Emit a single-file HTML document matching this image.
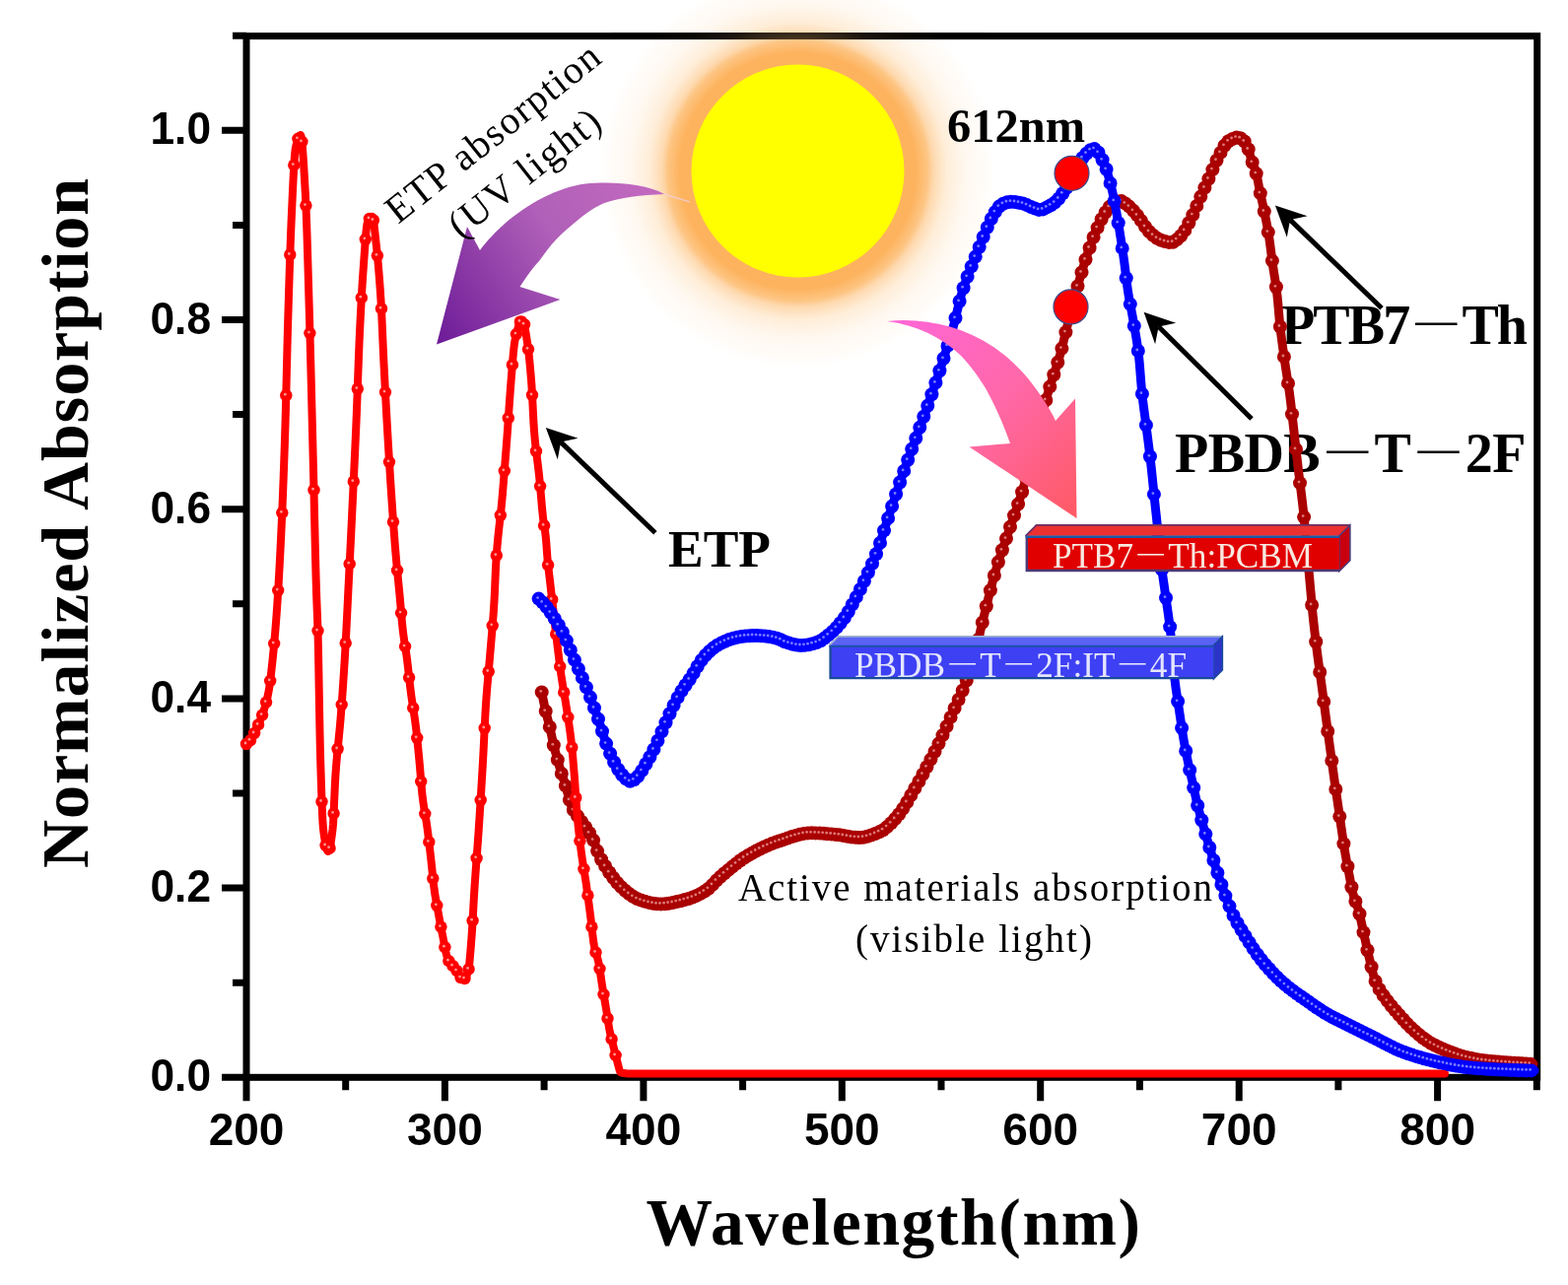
<!DOCTYPE html>
<html><head><meta charset="utf-8"><title>Normalized Absorption</title>
<style>html,body{margin:0;padding:0;background:#fff;width:1591px;height:1304px;overflow:hidden}svg{display:block}</style>
</head><body>
<svg width="1591" height="1304" viewBox="0 0 1591 1304">
<defs>
<radialGradient id="glow" cx="809.5" cy="173.5" r="200" gradientUnits="userSpaceOnUse">
 <stop offset="0.53" stop-color="#fdb35e" stop-opacity="1"/>
 <stop offset="0.60" stop-color="#fdb35e" stop-opacity="1"/>
 <stop offset="0.66" stop-color="#fdbb6e" stop-opacity="0.85"/>
 <stop offset="0.69" stop-color="#fdc07a" stop-opacity="0.6"/>
 <stop offset="0.755" stop-color="#fdc47e" stop-opacity="0.3"/>
 <stop offset="0.85" stop-color="#fdc47e" stop-opacity="0.12"/>
 <stop offset="0.945" stop-color="#fdc47e" stop-opacity="0.05"/>
 <stop offset="1" stop-color="#fdc47e" stop-opacity="0"/>
</radialGradient>
<linearGradient id="purp" x1="680" y1="190" x2="445" y2="345" gradientUnits="userSpaceOnUse">
 <stop offset="0" stop-color="#c46ac0"/>
 <stop offset="0.45" stop-color="#b060b8"/>
 <stop offset="1" stop-color="#6e1c98"/>
</linearGradient>
<linearGradient id="pink" x1="905" y1="330" x2="1090" y2="520" gradientUnits="userSpaceOnUse">
 <stop offset="0" stop-color="#ff66d6"/>
 <stop offset="0.5" stop-color="#ff68a8"/>
 <stop offset="1" stop-color="#ff5a66"/>
</linearGradient>
</defs>
<rect width="1591" height="1304" fill="#fff"/>
<g stroke="#000" stroke-width="7" fill="none">
<rect x="250" y="36.6" width="1309.7" height="1056.7"/>
<path d="M225,1093.3H250 M236,997.2H250 M225,901.1H250 M236,805.0H250 M225,708.9H250 M236,612.8H250 M225,516.7H250 M236,420.6H250 M225,324.5H250 M236,228.4H250 M225,132.3H250 M236,36.2H250 M250.0,1093.3V1117.3 M350.7,1093.3V1106.3 M451.4,1093.3V1117.3 M552.1,1093.3V1106.3 M652.9,1093.3V1117.3 M753.6,1093.3V1106.3 M854.3,1093.3V1117.3 M955.0,1093.3V1106.3 M1055.7,1093.3V1117.3 M1156.4,1093.3V1106.3 M1257.2,1093.3V1117.3 M1357.9,1093.3V1106.3 M1458.6,1093.3V1117.3 M1559.3,1093.3V1106.3"/>
</g>
<g font-family="Liberation Sans, Arial, sans-serif" font-weight="bold" font-size="46" fill="#000">
<text x="214" y="1107.3" text-anchor="end" textLength="61.5" lengthAdjust="spacingAndGlyphs">0.0</text>
<text x="214" y="915.1" text-anchor="end" textLength="61.5" lengthAdjust="spacingAndGlyphs">0.2</text>
<text x="214" y="722.9" text-anchor="end" textLength="61.5" lengthAdjust="spacingAndGlyphs">0.4</text>
<text x="214" y="530.7" text-anchor="end" textLength="61.5" lengthAdjust="spacingAndGlyphs">0.6</text>
<text x="214" y="338.5" text-anchor="end" textLength="61.5" lengthAdjust="spacingAndGlyphs">0.8</text>
<text x="214" y="146.3" text-anchor="end" textLength="61.5" lengthAdjust="spacingAndGlyphs">1.0</text>
<text x="250.0" y="1161.5" text-anchor="middle">200</text>
<text x="451.4" y="1161.5" text-anchor="middle">300</text>
<text x="652.9" y="1161.5" text-anchor="middle">400</text>
<text x="854.3" y="1161.5" text-anchor="middle">500</text>
<text x="1055.7" y="1161.5" text-anchor="middle">600</text>
<text x="1257.2" y="1161.5" text-anchor="middle">700</text>
<text x="1458.6" y="1161.5" text-anchor="middle">800</text>
</g>
<text x="655.5" y="1262.5" font-family="Liberation Serif, Times New Roman, serif" font-weight="bold" font-size="67.5" textLength="501.5" lengthAdjust="spacing">Wavelength(nm)</text>
<text transform="translate(89,881) rotate(-90)" font-family="Liberation Serif, Times New Roman, serif" font-weight="bold" font-size="68" textLength="700" lengthAdjust="spacing">Normalized Absorption</text>
<g font-family="Liberation Serif, Times New Roman, serif" font-weight="bold" font-size="56" fill="#000">
<text x="1300" y="348.5" textLength="250" lengthAdjust="spacing">PTB7<tspan font-family="Liberation Serif, Noto Serif CJK SC, serif" font-weight="normal">－</tspan>Th</text>
<text x="1192" y="479" textLength="356.5" lengthAdjust="spacing">PBDB<tspan font-family="Liberation Serif, Noto Serif CJK SC, serif" font-weight="normal">－</tspan>T<tspan font-family="Liberation Serif, Noto Serif CJK SC, serif" font-weight="normal">－</tspan>2F</text>
</g>
<path d="M549.7,702.4 L550.2,705.0 L550.7,707.6 L551.2,710.1 L551.7,712.5 L552.2,714.9 L552.7,717.2 L553.2,719.4 L553.7,721.6 L554.2,723.6 L554.7,725.6 L555.2,727.6 L555.7,729.5 L556.2,731.4 L556.7,733.4 L557.2,735.4 L557.7,737.4 L558.2,739.6 L558.7,741.9 L559.2,744.2 L559.7,746.6 L560.2,749.0 L560.7,751.4 L561.2,753.7 L561.7,755.9 L562.2,758.0 L562.7,760.0 L563.2,761.8 L563.7,763.6 L564.2,765.4 L564.7,767.2 L565.2,768.9 L565.7,770.7 L566.2,772.5 L566.7,774.4 L567.2,776.2 L567.7,778.0 L568.2,779.7 L568.7,781.4 L569.2,783.0 L569.7,784.6 L570.2,786.1 L570.7,787.6 L571.2,789.0 L571.7,790.5 L572.2,792.0 L572.7,793.5 L573.2,795.1 L573.7,796.8 L574.2,798.6 L574.7,800.4 L575.2,802.2 L575.7,804.0 L576.2,805.8 L576.7,807.5 L577.2,809.3 L577.7,811.1 L578.2,812.9 L578.7,814.6 L579.2,816.2 L579.7,817.6 L580.2,818.7 L580.7,819.8 L581.2,820.8 L581.7,821.7 L582.2,822.6 L582.7,823.4 L583.2,824.2 L583.7,825.0 L584.2,825.7 L584.7,826.4 L585.2,827.1 L585.7,827.8 L586.2,828.5 L586.7,829.1 L587.2,829.8 L587.7,830.6 L588.2,831.3 L588.7,832.0 L589.2,832.7 L589.7,833.4 L590.2,834.1 L590.7,834.8 L591.2,835.4 L591.7,836.1 L592.2,836.8 L592.7,837.4 L593.2,838.1 L593.7,838.8 L594.2,839.4 L594.7,840.1 L595.2,840.9 L595.7,841.6 L596.2,842.4 L596.7,843.2 L597.2,844.0 L597.7,844.8 L598.2,845.6 L598.7,846.4 L599.2,847.2 L599.7,848.1 L600.2,849.0 L600.7,849.9 L601.2,850.9 L601.7,851.8 L602.2,852.9 L602.7,853.9 L603.2,855.0 L603.7,856.2 L604.2,857.6 L604.7,859.2 L605.2,860.8 L605.7,862.4 L606.2,863.9 L606.7,865.3 L607.2,866.5 L607.7,867.5 L608.2,868.6 L608.7,869.6 L609.2,870.5 L609.7,871.4 L610.2,872.3 L610.7,873.2 L611.2,874.0 L611.7,874.8 L612.2,875.7 L612.7,876.5 L613.2,877.3 L613.7,878.2 L614.2,879.0 L614.7,879.8 L615.2,880.6 L615.7,881.4 L616.2,882.2 L616.7,883.0 L617.2,883.8 L617.7,884.5 L618.2,885.3 L618.7,886.0 L619.2,886.7 L619.7,887.4 L620.2,888.0 L620.7,888.7 L621.2,889.4 L621.7,890.0 L622.2,890.7 L622.7,891.3 L623.2,891.9 L623.7,892.6 L624.2,893.2 L624.7,893.8 L625.2,894.4 L625.7,895.1 L626.2,895.6 L626.7,896.2 L627.2,896.8 L627.7,897.4 L628.2,898.0 L628.7,898.5 L629.2,899.0 L629.7,899.6 L630.2,900.1 L630.7,900.6 L631.2,901.1 L631.7,901.6 L632.2,902.0 L632.7,902.5 L633.2,902.9 L633.7,903.3 L634.2,903.7 L634.7,904.1 L635.2,904.5 L635.7,904.9 L636.2,905.3 L636.7,905.7 L637.2,906.1 L637.7,906.5 L638.2,906.9 L638.7,907.3 L639.2,907.6 L639.7,908.0 L640.2,908.3 L640.7,908.7 L641.2,909.0 L641.7,909.4 L642.2,909.7 L642.7,910.0 L643.2,910.3 L643.7,910.6 L644.2,910.9 L644.7,911.2 L645.2,911.5 L645.7,911.7 L646.2,912.0 L646.7,912.2 L647.2,912.5 L647.7,912.7 L648.2,912.9 L648.7,913.1 L649.2,913.2 L649.7,913.4 L650.2,913.6 L650.7,913.7 L651.2,913.9 L651.7,914.0 L652.2,914.2 L652.7,914.3 L653.2,914.5 L653.7,914.6 L654.2,914.8 L654.7,914.9 L655.2,915.0 L655.7,915.2 L656.2,915.3 L656.7,915.4 L657.2,915.6 L657.7,915.7 L658.2,915.8 L658.7,915.9 L659.2,916.1 L659.7,916.2 L660.2,916.3 L660.7,916.4 L661.2,916.5 L661.7,916.6 L662.2,916.7 L662.7,916.8 L663.2,916.8 L663.7,916.9 L664.2,917.0 L664.7,917.1 L665.2,917.1 L665.7,917.2 L666.2,917.2 L666.7,917.3 L667.2,917.3 L667.7,917.3 L668.2,917.4 L668.7,917.4 L669.2,917.4 L669.7,917.4 L670.2,917.4 L670.7,917.4 L671.2,917.4 L671.7,917.4 L672.2,917.3 L672.7,917.3 L673.2,917.3 L673.7,917.2 L674.2,917.2 L674.7,917.2 L675.2,917.1 L675.7,917.1 L676.2,917.0 L676.7,917.0 L677.2,916.9 L677.7,916.8 L678.2,916.8 L678.7,916.7 L679.2,916.6 L679.7,916.5 L680.2,916.4 L680.7,916.4 L681.2,916.3 L681.7,916.2 L682.2,916.1 L682.7,916.0 L683.2,915.9 L683.7,915.8 L684.2,915.7 L684.7,915.6 L685.2,915.5 L685.7,915.3 L686.2,915.2 L686.7,915.1 L687.2,915.0 L687.7,914.9 L688.2,914.8 L688.7,914.6 L689.2,914.5 L689.7,914.4 L690.2,914.3 L690.7,914.1 L691.2,914.0 L691.7,913.9 L692.2,913.8 L692.7,913.6 L693.2,913.5 L693.7,913.4 L694.2,913.2 L694.7,913.1 L695.2,913.0 L695.7,912.8 L696.2,912.7 L696.7,912.6 L697.2,912.4 L697.7,912.3 L698.2,912.2 L698.7,912.0 L699.2,911.9 L699.7,911.7 L700.2,911.5 L700.7,911.4 L701.2,911.2 L701.7,911.0 L702.2,910.8 L702.7,910.6 L703.2,910.5 L703.7,910.3 L704.2,910.0 L704.7,909.8 L705.2,909.6 L705.7,909.4 L706.2,909.2 L706.7,909.0 L707.2,908.7 L707.7,908.5 L708.2,908.2 L708.7,908.0 L709.2,907.7 L709.7,907.5 L710.2,907.2 L710.7,907.0 L711.2,906.7 L711.7,906.4 L712.2,906.1 L712.7,905.9 L713.2,905.6 L713.7,905.3 L714.2,905.0 L714.7,904.7 L715.2,904.4 L715.7,904.1 L716.2,903.8 L716.7,903.4 L717.2,903.1 L717.7,902.7 L718.2,902.3 L718.7,901.9 L719.2,901.5 L719.7,901.1 L720.2,900.6 L720.7,900.1 L721.2,899.6 L721.7,899.1 L722.2,898.6 L722.7,898.1 L723.2,897.6 L723.7,897.1 L724.2,896.5 L724.7,896.0 L725.2,895.5 L725.7,894.9 L726.2,894.4 L726.7,893.9 L727.2,893.3 L727.7,892.8 L728.2,892.3 L728.7,891.8 L729.2,891.4 L729.7,890.9 L730.2,890.4 L730.7,890.0 L731.2,889.6 L731.7,889.1 L732.2,888.7 L732.7,888.3 L733.2,887.9 L733.7,887.4 L734.2,887.0 L734.7,886.6 L735.2,886.1 L735.7,885.7 L736.2,885.3 L736.7,884.9 L737.2,884.4 L737.7,884.0 L738.2,883.6 L738.7,883.2 L739.2,882.8 L739.7,882.3 L740.2,881.9 L740.7,881.5 L741.2,881.1 L741.7,880.7 L742.2,880.3 L742.7,879.9 L743.2,879.5 L743.7,879.1 L744.2,878.7 L744.7,878.3 L745.2,877.9 L745.7,877.5 L746.2,877.1 L746.7,876.7 L747.2,876.3 L747.7,875.9 L748.2,875.5 L748.7,875.1 L749.2,874.8 L749.7,874.4 L750.2,874.0 L750.7,873.6 L751.2,873.3 L751.7,872.9 L752.2,872.6 L752.7,872.2 L753.2,871.8 L753.7,871.5 L754.2,871.2 L754.7,870.8 L755.2,870.5 L755.7,870.1 L756.2,869.8 L756.7,869.5 L757.2,869.2 L757.7,868.8 L758.2,868.5 L758.7,868.2 L759.2,867.9 L759.7,867.6 L760.2,867.3 L760.7,867.0 L761.2,866.8 L761.7,866.5 L762.2,866.2 L762.7,865.9 L763.2,865.6 L763.7,865.4 L764.2,865.1 L764.7,864.8 L765.2,864.6 L765.7,864.3 L766.2,864.0 L766.7,863.8 L767.2,863.5 L767.7,863.2 L768.2,863.0 L768.7,862.7 L769.2,862.5 L769.7,862.2 L770.2,862.0 L770.7,861.7 L771.2,861.5 L771.7,861.2 L772.2,861.0 L772.7,860.8 L773.2,860.5 L773.7,860.3 L774.2,860.0 L774.7,859.8 L775.2,859.6 L775.7,859.4 L776.2,859.1 L776.7,858.9 L777.2,858.7 L777.7,858.5 L778.2,858.2 L778.7,858.0 L779.2,857.8 L779.7,857.6 L780.2,857.4 L780.7,857.2 L781.2,857.0 L781.7,856.8 L782.2,856.6 L782.7,856.4 L783.2,856.2 L783.7,856.0 L784.2,855.8 L784.7,855.6 L785.2,855.4 L785.7,855.2 L786.2,855.0 L786.7,854.8 L787.2,854.6 L787.7,854.5 L788.2,854.3 L788.7,854.1 L789.2,853.9 L789.7,853.8 L790.2,853.6 L790.7,853.4 L791.2,853.3 L791.7,853.1 L792.2,852.9 L792.7,852.8 L793.2,852.6 L793.7,852.4 L794.2,852.3 L794.7,852.1 L795.2,851.9 L795.7,851.8 L796.2,851.6 L796.7,851.4 L797.2,851.3 L797.7,851.1 L798.2,850.9 L798.7,850.7 L799.2,850.6 L799.7,850.4 L800.2,850.2 L800.7,850.1 L801.2,849.9 L801.7,849.7 L802.2,849.6 L802.7,849.4 L803.2,849.2 L803.7,849.1 L804.2,848.9 L804.7,848.7 L805.2,848.6 L805.7,848.4 L806.2,848.3 L806.7,848.1 L807.2,848.0 L807.7,847.8 L808.2,847.7 L808.7,847.5 L809.2,847.4 L809.7,847.3 L810.2,847.1 L810.7,847.0 L811.2,846.9 L811.7,846.7 L812.2,846.6 L812.7,846.5 L813.2,846.4 L813.7,846.3 L814.2,846.2 L814.7,846.1 L815.2,846.0 L815.7,845.9 L816.2,845.8 L816.7,845.8 L817.2,845.7 L817.7,845.6 L818.2,845.6 L818.7,845.5 L819.2,845.5 L819.7,845.4 L820.2,845.4 L820.7,845.4 L821.2,845.3 L821.7,845.3 L822.2,845.3 L822.7,845.3 L823.2,845.3 L823.7,845.3 L824.2,845.3 L824.7,845.3 L825.2,845.3 L825.7,845.3 L826.2,845.3 L826.7,845.4 L827.2,845.4 L827.7,845.4 L828.2,845.4 L828.7,845.4 L829.2,845.5 L829.7,845.5 L830.2,845.5 L830.7,845.5 L831.2,845.6 L831.7,845.6 L832.2,845.6 L832.7,845.6 L833.2,845.7 L833.7,845.7 L834.2,845.7 L834.7,845.8 L835.2,845.8 L835.7,845.8 L836.2,845.9 L836.7,845.9 L837.2,846.0 L837.7,846.0 L838.2,846.0 L838.7,846.1 L839.2,846.1 L839.7,846.2 L840.2,846.2 L840.7,846.2 L841.2,846.3 L841.7,846.3 L842.2,846.4 L842.7,846.4 L843.2,846.5 L843.7,846.5 L844.2,846.5 L844.7,846.6 L845.2,846.6 L845.7,846.7 L846.2,846.7 L846.7,846.8 L847.2,846.8 L847.7,846.8 L848.2,846.9 L848.7,846.9 L849.2,847.0 L849.7,847.1 L850.2,847.1 L850.7,847.2 L851.2,847.3 L851.7,847.3 L852.2,847.4 L852.7,847.5 L853.2,847.6 L853.7,847.6 L854.2,847.7 L854.7,847.8 L855.2,847.9 L855.7,848.0 L856.2,848.1 L856.7,848.2 L857.2,848.2 L857.7,848.3 L858.2,848.4 L858.7,848.5 L859.2,848.6 L859.7,848.7 L860.2,848.8 L860.7,848.9 L861.2,848.9 L861.7,849.0 L862.2,849.1 L862.7,849.2 L863.2,849.3 L863.7,849.3 L864.2,849.4 L864.7,849.5 L865.2,849.5 L865.7,849.6 L866.2,849.7 L866.7,849.7 L867.2,849.8 L867.7,849.8 L868.2,849.9 L868.7,849.9 L869.2,849.9 L869.7,849.9 L870.2,850.0 L870.7,850.0 L871.2,850.0 L871.7,850.0 L872.2,850.0 L872.7,850.0 L873.2,850.0 L873.7,849.9 L874.2,849.9 L874.7,849.8 L875.2,849.8 L875.7,849.7 L876.2,849.6 L876.7,849.6 L877.2,849.5 L877.7,849.4 L878.2,849.3 L878.7,849.1 L879.2,849.0 L879.7,848.9 L880.2,848.8 L880.7,848.6 L881.2,848.5 L881.7,848.3 L882.2,848.2 L882.7,848.0 L883.2,847.8 L883.7,847.7 L884.2,847.5 L884.7,847.3 L885.2,847.1 L885.7,846.9 L886.2,846.7 L886.7,846.5 L887.2,846.3 L887.7,846.1 L888.2,845.9 L888.7,845.7 L889.2,845.5 L889.7,845.3 L890.2,845.1 L890.7,844.9 L891.2,844.6 L891.7,844.4 L892.2,844.2 L892.7,844.0 L893.2,843.7 L893.7,843.5 L894.2,843.3 L894.7,843.0 L895.2,842.7 L895.7,842.4 L896.2,842.1 L896.7,841.8 L897.2,841.4 L897.7,841.1 L898.2,840.7 L898.7,840.3 L899.2,839.9 L899.7,839.5 L900.2,839.1 L900.7,838.6 L901.2,838.2 L901.7,837.7 L902.2,837.3 L902.7,836.8 L903.2,836.3 L903.7,835.8 L904.2,835.3 L904.7,834.8 L905.2,834.2 L905.7,833.7 L906.2,833.2 L906.7,832.6 L907.2,832.1 L907.7,831.5 L908.2,830.9 L908.7,830.4 L909.2,829.8 L909.7,829.2 L910.2,828.7 L910.7,828.1 L911.2,827.5 L911.7,826.9 L912.2,826.3 L912.7,825.7 L913.2,825.0 L913.7,824.4 L914.2,823.7 L914.7,823.0 L915.2,822.2 L915.7,821.5 L916.2,820.7 L916.7,819.9 L917.2,819.2 L917.7,818.3 L918.2,817.5 L918.7,816.7 L919.2,815.9 L919.7,815.0 L920.2,814.2 L920.7,813.3 L921.2,812.4 L921.7,811.6 L922.2,810.7 L922.7,809.8 L923.2,808.9 L923.7,808.0 L924.2,807.2 L924.7,806.3 L925.2,805.4 L925.7,804.5 L926.2,803.7 L926.7,802.8 L927.2,802.0 L927.7,801.1 L928.2,800.2 L928.7,799.4 L929.2,798.5 L929.7,797.7 L930.2,796.8 L930.7,795.9 L931.2,795.0 L931.7,794.1 L932.2,793.3 L932.7,792.4 L933.2,791.5 L933.7,790.6 L934.2,789.7 L934.7,788.8 L935.2,787.9 L935.7,787.0 L936.2,786.1 L936.7,785.1 L937.2,784.2 L937.7,783.3 L938.2,782.4 L938.7,781.5 L939.2,780.5 L939.7,779.6 L940.2,778.7 L940.7,777.7 L941.2,776.8 L941.7,775.8 L942.2,774.9 L942.7,773.9 L943.2,773.0 L943.7,772.0 L944.2,771.1 L944.7,770.1 L945.2,769.1 L945.7,768.2 L946.2,767.2 L946.7,766.2 L947.2,765.2 L947.7,764.3 L948.2,763.3 L948.7,762.3 L949.2,761.3 L949.7,760.3 L950.2,759.3 L950.7,758.3 L951.2,757.2 L951.7,756.2 L952.2,755.2 L952.7,754.2 L953.2,753.1 L953.7,752.1 L954.2,751.0 L954.7,750.0 L955.2,748.9 L955.7,747.9 L956.2,746.8 L956.7,745.7 L957.2,744.6 L957.7,743.5 L958.2,742.4 L958.7,741.3 L959.2,740.1 L959.7,739.0 L960.2,737.9 L960.7,736.7 L961.2,735.6 L961.7,734.5 L962.2,733.3 L962.7,732.2 L963.2,731.0 L963.7,729.9 L964.2,728.8 L964.7,727.6 L965.2,726.5 L965.7,725.3 L966.2,724.2 L966.7,723.1 L967.2,721.9 L967.7,720.8 L968.2,719.7 L968.7,718.6 L969.2,717.5 L969.7,716.4 L970.2,715.3 L970.7,714.2 L971.2,713.1 L971.7,712.0 L972.2,711.0 L972.7,709.9 L973.2,708.7 L973.7,707.6 L974.2,706.5 L974.7,705.4 L975.2,704.2 L975.7,703.1 L976.2,701.9 L976.7,700.7 L977.2,699.5 L977.7,698.3 L978.2,697.0 L978.7,695.8 L979.2,694.5 L979.7,693.2 L980.2,691.9 L980.7,690.5 L981.2,689.2 L981.7,687.8 L982.2,686.4 L982.7,685.0 L983.2,683.6 L983.7,682.1 L984.2,680.6 L984.7,679.1 L985.2,677.6 L985.7,676.0 L986.2,674.4 L986.7,672.8 L987.2,671.2 L987.7,669.5 L988.2,667.7 L988.7,666.0 L989.2,664.1 L989.7,662.1 L990.2,660.1 L990.7,658.0 L991.2,655.9 L991.7,653.7 L992.2,651.5 L992.7,649.3 L993.2,647.1 L993.7,644.9 L994.2,642.7 L994.7,640.5 L995.2,638.3 L995.7,636.2 L996.2,634.2 L996.7,632.1 L997.2,630.1 L997.7,628.1 L998.2,626.0 L998.7,624.0 L999.2,621.9 L999.7,619.9 L1000.2,617.8 L1000.7,615.8 L1001.2,613.7 L1001.7,611.7 L1002.2,609.7 L1002.7,607.7 L1003.2,605.7 L1003.7,603.7 L1004.2,601.7 L1004.7,599.8 L1005.2,597.8 L1005.7,595.9 L1006.2,594.0 L1006.7,592.1 L1007.2,590.2 L1007.7,588.3 L1008.2,586.5 L1008.7,584.7 L1009.2,582.9 L1009.7,581.2 L1010.2,579.4 L1010.7,577.7 L1011.2,576.0 L1011.7,574.4 L1012.2,572.8 L1012.7,571.2 L1013.2,569.6 L1013.7,568.0 L1014.2,566.5 L1014.7,565.0 L1015.2,563.4 L1015.7,562.0 L1016.2,560.5 L1016.7,559.0 L1017.2,557.5 L1017.7,556.1 L1018.2,554.6 L1018.7,553.2 L1019.2,551.7 L1019.7,550.3 L1020.2,548.8 L1020.7,547.4 L1021.2,546.0 L1021.7,544.5 L1022.2,543.1 L1022.7,541.6 L1023.2,540.2 L1023.7,538.7 L1024.2,537.2 L1024.7,535.7 L1025.2,534.2 L1025.7,532.7 L1026.2,531.3 L1026.7,529.8 L1027.2,528.4 L1027.7,526.9 L1028.2,525.5 L1028.7,524.1 L1029.2,522.7 L1029.7,521.2 L1030.2,519.8 L1030.7,518.4 L1031.2,516.9 L1031.7,515.5 L1032.2,514.1 L1032.7,512.6 L1033.2,511.1 L1033.7,509.7 L1034.2,508.2 L1034.7,506.7 L1035.2,505.1 L1035.7,503.6 L1036.2,502.0 L1036.7,500.4 L1037.2,498.8 L1037.7,497.2 L1038.2,495.5 L1038.7,493.8 L1039.2,492.1 L1039.7,490.3 L1040.2,488.5 L1040.7,486.6 L1041.2,484.7 L1041.7,482.8 L1042.2,480.8 L1042.7,478.8 L1043.2,476.8 L1043.7,474.8 L1044.2,472.7 L1044.7,470.6 L1045.2,468.5 L1045.7,466.4 L1046.2,464.3 L1046.7,462.2 L1047.2,460.1 L1047.7,458.0 L1048.2,455.9 L1048.7,453.8 L1049.2,451.7 L1049.7,449.7 L1050.2,447.6 L1050.7,445.6 L1051.2,443.6 L1051.7,441.6 L1052.2,439.6 L1052.7,437.7 L1053.2,435.8 L1053.7,433.9 L1054.2,432.0 L1054.7,430.1 L1055.2,428.2 L1055.7,426.3 L1056.2,424.4 L1056.7,422.6 L1057.2,420.7 L1057.7,418.9 L1058.2,417.0 L1058.7,415.2 L1059.2,413.4 L1059.7,411.6 L1060.2,409.8 L1060.7,408.0 L1061.2,406.2 L1061.7,404.5 L1062.2,402.7 L1062.7,401.0 L1063.2,399.3 L1063.7,397.6 L1064.2,395.9 L1064.7,394.3 L1065.2,392.7 L1065.7,391.1 L1066.2,389.6 L1066.7,388.0 L1067.2,386.5 L1067.7,385.0 L1068.2,383.5 L1068.7,382.0 L1069.2,380.5 L1069.7,379.0 L1070.2,377.5 L1070.7,376.0 L1071.2,374.5 L1071.7,372.9 L1072.2,371.4 L1072.7,369.8 L1073.2,368.2 L1073.7,366.6 L1074.2,365.0 L1074.7,363.3 L1075.2,361.6 L1075.7,359.8 L1076.2,358.0 L1076.7,356.1 L1077.2,354.2 L1077.7,352.3 L1078.2,350.3 L1078.7,348.3 L1079.2,346.2 L1079.7,344.2 L1080.2,342.1 L1080.7,340.0 L1081.2,337.9 L1081.7,335.8 L1082.2,333.8 L1082.7,331.7 L1083.2,329.7 L1083.7,327.7 L1084.2,325.7 L1084.7,323.7 L1085.2,321.8 L1085.7,319.8 L1086.2,317.9 L1086.7,315.9 L1087.2,314.0 L1087.7,312.1 L1088.2,310.1 L1088.7,308.2 L1089.2,306.3 L1089.7,304.4 L1090.2,302.5 L1090.7,300.6 L1091.2,298.7 L1091.7,296.9 L1092.2,295.0 L1092.7,293.2 L1093.2,291.4 L1093.7,289.6 L1094.2,287.8 L1094.7,286.0 L1095.2,284.3 L1095.7,282.6 L1096.2,280.9 L1096.7,279.2 L1097.2,277.5 L1097.7,275.8 L1098.2,274.1 L1098.7,272.5 L1099.2,270.8 L1099.7,269.2 L1100.2,267.6 L1100.7,266.0 L1101.2,264.4 L1101.7,262.9 L1102.2,261.3 L1102.7,259.8 L1103.2,258.3 L1103.7,256.9 L1104.2,255.4 L1104.7,254.0 L1105.2,252.6 L1105.7,251.2 L1106.2,249.8 L1106.7,248.4 L1107.2,247.0 L1107.7,245.6 L1108.2,244.3 L1108.7,243.0 L1109.2,241.7 L1109.7,240.4 L1110.2,239.1 L1110.7,237.9 L1111.2,236.7 L1111.7,235.5 L1112.2,234.3 L1112.7,233.2 L1113.2,232.1 L1113.7,230.9 L1114.2,229.8 L1114.7,228.7 L1115.2,227.7 L1115.7,226.6 L1116.2,225.5 L1116.7,224.5 L1117.2,223.4 L1117.7,222.4 L1118.2,221.5 L1118.7,220.5 L1119.2,219.6 L1119.7,218.7 L1120.2,217.8 L1120.7,217.0 L1121.2,216.2 L1121.7,215.4 L1122.2,214.7 L1122.7,214.0 L1123.2,213.3 L1123.7,212.6 L1124.2,211.9 L1124.7,211.2 L1125.2,210.5 L1125.7,209.9 L1126.2,209.3 L1126.7,208.7 L1127.2,208.2 L1127.7,207.7 L1128.2,207.2 L1128.7,206.8 L1129.2,206.4 L1129.7,206.1 L1130.2,205.9 L1130.7,205.7 L1131.2,205.5 L1131.7,205.3 L1132.2,205.1 L1132.7,204.9 L1133.2,204.7 L1133.7,204.5 L1134.2,204.4 L1134.7,204.3 L1135.2,204.2 L1135.7,204.1 L1136.2,204.0 L1136.7,204.0 L1137.2,204.0 L1137.7,204.1 L1138.2,204.2 L1138.7,204.4 L1139.2,204.7 L1139.7,205.0 L1140.2,205.3 L1140.7,205.6 L1141.2,206.0 L1141.7,206.3 L1142.2,206.6 L1142.7,207.0 L1143.2,207.3 L1143.7,207.7 L1144.2,208.1 L1144.7,208.5 L1145.2,209.0 L1145.7,209.4 L1146.2,209.9 L1146.7,210.4 L1147.2,210.9 L1147.7,211.4 L1148.2,211.9 L1148.7,212.5 L1149.2,213.0 L1149.7,213.6 L1150.2,214.1 L1150.7,214.7 L1151.2,215.3 L1151.7,215.8 L1152.2,216.4 L1152.7,217.0 L1153.2,217.6 L1153.7,218.2 L1154.2,218.7 L1154.7,219.3 L1155.2,220.0 L1155.7,220.7 L1156.2,221.3 L1156.7,222.1 L1157.2,222.8 L1157.7,223.5 L1158.2,224.3 L1158.7,225.1 L1159.2,225.8 L1159.7,226.6 L1160.2,227.4 L1160.7,228.1 L1161.2,228.9 L1161.7,229.6 L1162.2,230.3 L1162.7,231.0 L1163.2,231.7 L1163.7,232.4 L1164.2,233.0 L1164.7,233.6 L1165.2,234.2 L1165.7,234.7 L1166.2,235.2 L1166.7,235.7 L1167.2,236.1 L1167.7,236.6 L1168.2,237.1 L1168.7,237.5 L1169.2,238.0 L1169.7,238.4 L1170.2,238.8 L1170.7,239.2 L1171.2,239.7 L1171.7,240.0 L1172.2,240.4 L1172.7,240.8 L1173.2,241.2 L1173.7,241.5 L1174.2,241.8 L1174.7,242.1 L1175.2,242.4 L1175.7,242.7 L1176.2,242.9 L1176.7,243.1 L1177.2,243.4 L1177.7,243.5 L1178.2,243.7 L1178.7,243.9 L1179.2,244.1 L1179.7,244.2 L1180.2,244.4 L1180.7,244.6 L1181.2,244.7 L1181.7,244.9 L1182.2,245.0 L1182.7,245.2 L1183.2,245.3 L1183.7,245.4 L1184.2,245.5 L1184.7,245.6 L1185.2,245.7 L1185.7,245.8 L1186.2,245.9 L1186.7,245.9 L1187.2,246.0 L1187.7,246.0 L1188.2,246.0 L1188.7,246.0 L1189.2,245.9 L1189.7,245.8 L1190.2,245.6 L1190.7,245.4 L1191.2,245.2 L1191.7,244.9 L1192.2,244.6 L1192.7,244.3 L1193.2,243.9 L1193.7,243.5 L1194.2,243.1 L1194.7,242.7 L1195.2,242.2 L1195.7,241.7 L1196.2,241.2 L1196.7,240.7 L1197.2,240.2 L1197.7,239.7 L1198.2,239.2 L1198.7,238.7 L1199.2,238.2 L1199.7,237.6 L1200.2,237.0 L1200.7,236.3 L1201.2,235.6 L1201.7,234.8 L1202.2,234.0 L1202.7,233.1 L1203.2,232.2 L1203.7,231.3 L1204.2,230.4 L1204.7,229.4 L1205.2,228.4 L1205.7,227.4 L1206.2,226.4 L1206.7,225.4 L1207.2,224.4 L1207.7,223.4 L1208.2,222.4 L1208.7,221.4 L1209.2,220.4 L1209.7,219.4 L1210.2,218.3 L1210.7,217.2 L1211.2,216.1 L1211.7,215.0 L1212.2,213.9 L1212.7,212.7 L1213.2,211.6 L1213.7,210.4 L1214.2,209.2 L1214.7,208.0 L1215.2,206.9 L1215.7,205.7 L1216.2,204.5 L1216.7,203.4 L1217.2,202.2 L1217.7,201.1 L1218.2,199.9 L1218.7,198.8 L1219.2,197.7 L1219.7,196.6 L1220.2,195.4 L1220.7,194.3 L1221.2,193.2 L1221.7,192.1 L1222.2,190.9 L1222.7,189.8 L1223.2,188.7 L1223.7,187.6 L1224.2,186.4 L1224.7,185.3 L1225.2,184.2 L1225.7,183.1 L1226.2,181.9 L1226.7,180.8 L1227.2,179.7 L1227.7,178.5 L1228.2,177.4 L1228.7,176.2 L1229.2,175.1 L1229.7,173.9 L1230.2,172.7 L1230.7,171.5 L1231.2,170.3 L1231.7,169.1 L1232.2,167.9 L1232.7,166.7 L1233.2,165.5 L1233.7,164.4 L1234.2,163.3 L1234.7,162.2 L1235.2,161.1 L1235.7,160.1 L1236.2,159.1 L1236.7,158.1 L1237.2,157.2 L1237.7,156.3 L1238.2,155.4 L1238.7,154.5 L1239.2,153.6 L1239.7,152.6 L1240.2,151.7 L1240.7,150.8 L1241.2,150.0 L1241.7,149.1 L1242.2,148.3 L1242.7,147.6 L1243.2,146.8 L1243.7,146.1 L1244.2,145.5 L1244.7,144.9 L1245.2,144.4 L1245.7,143.9 L1246.2,143.5 L1246.7,143.2 L1247.2,142.9 L1247.7,142.6 L1248.2,142.3 L1248.7,142.0 L1249.2,141.7 L1249.7,141.4 L1250.2,141.1 L1250.7,140.9 L1251.2,140.7 L1251.7,140.5 L1252.2,140.3 L1252.7,140.1 L1253.2,139.9 L1253.7,139.8 L1254.2,139.7 L1254.7,139.6 L1255.2,139.5 L1255.7,139.5 L1256.2,139.5 L1256.7,139.6 L1257.2,139.7 L1257.7,139.8 L1258.2,140.0 L1258.7,140.3 L1259.2,140.6 L1259.7,140.9 L1260.2,141.3 L1260.7,141.7 L1261.2,142.1 L1261.7,142.6 L1262.2,143.0 L1262.7,143.6 L1263.2,144.1 L1263.7,144.7 L1264.2,145.3 L1264.7,146.1 L1265.2,147.2 L1265.7,148.5 L1266.2,149.9 L1266.7,151.5 L1267.2,153.2 L1267.7,155.0 L1268.2,156.8 L1268.7,158.6 L1269.2,160.3 L1269.7,161.9 L1270.2,163.4 L1270.7,164.8 L1271.2,166.1 L1271.7,167.3 L1272.2,168.6 L1272.7,169.9 L1273.2,171.3 L1273.7,172.7 L1274.2,174.3 L1274.7,176.0 L1275.2,178.0 L1275.7,180.3 L1276.2,182.8 L1276.7,185.5 L1277.2,188.2 L1277.7,190.9 L1278.2,193.4 L1278.7,195.8 L1279.2,198.1 L1279.7,200.4 L1280.2,202.6 L1280.7,204.8 L1281.2,207.1 L1281.7,209.3 L1282.2,211.7 L1282.7,214.0 L1283.2,216.5 L1283.7,219.0 L1284.2,221.5 L1284.7,224.0 L1285.2,226.6 L1285.7,229.3 L1286.2,232.0 L1286.7,234.9 L1287.2,237.8 L1287.7,240.9 L1288.2,244.3 L1288.7,247.9 L1289.2,251.8 L1289.7,255.7 L1290.2,259.6 L1290.7,263.5 L1291.2,267.2 L1291.7,270.7 L1292.2,274.0 L1292.7,277.1 L1293.2,280.3 L1293.7,283.4 L1294.2,286.6 L1294.7,290.0 L1295.2,293.6 L1295.7,297.5 L1296.2,301.9 L1296.7,307.2 L1297.2,312.9 L1297.7,318.8 L1298.2,324.5 L1298.7,329.6 L1299.2,334.0 L1299.7,338.2 L1300.2,342.2 L1300.7,346.0 L1301.2,349.7 L1301.7,353.3 L1302.2,356.8 L1302.7,360.4 L1303.2,363.9 L1303.7,367.4 L1304.2,370.9 L1304.7,374.2 L1305.2,377.5 L1305.7,380.7 L1306.2,383.9 L1306.7,387.1 L1307.2,390.4 L1307.7,393.8 L1308.2,397.4 L1308.7,401.0 L1309.2,404.9 L1309.7,409.0 L1310.2,413.3 L1310.7,417.7 L1311.2,422.1 L1311.7,426.6 L1312.2,431.1 L1312.7,435.6 L1313.2,439.9 L1313.7,444.3 L1314.2,448.7 L1314.7,453.1 L1315.2,457.5 L1315.7,461.9 L1316.2,466.2 L1316.7,470.6 L1317.2,474.9 L1317.7,479.1 L1318.2,483.3 L1318.7,487.3 L1319.2,491.3 L1319.7,495.3 L1320.2,499.3 L1320.7,503.4 L1321.2,507.6 L1321.7,511.8 L1322.2,516.3 L1322.7,520.9 L1323.2,525.8 L1323.7,530.9 L1324.2,536.1 L1324.7,541.5 L1325.2,547.0 L1325.7,552.6 L1326.2,558.3 L1326.7,564.0 L1327.2,569.7 L1327.7,575.4 L1328.2,581.1 L1328.7,586.7 L1329.2,592.2 L1329.7,597.8 L1330.2,603.5 L1330.7,609.2 L1331.2,614.8 L1331.7,620.2 L1332.2,625.2 L1332.7,630.0 L1333.2,634.6 L1333.7,639.0 L1334.2,643.3 L1334.7,647.5 L1335.2,651.6 L1335.7,655.6 L1336.2,659.6 L1336.7,663.6 L1337.2,667.4 L1337.7,671.2 L1338.2,674.9 L1338.7,678.5 L1339.2,682.1 L1339.7,685.7 L1340.2,689.3 L1340.7,693.0 L1341.2,696.7 L1341.7,700.4 L1342.2,704.2 L1342.7,708.0 L1343.2,711.8 L1343.7,715.6 L1344.2,719.4 L1344.7,723.2 L1345.2,726.9 L1345.7,730.6 L1346.2,734.3 L1346.7,738.0 L1347.2,741.7 L1347.7,745.4 L1348.2,749.1 L1348.7,752.8 L1349.2,756.5 L1349.7,760.2 L1350.2,763.9 L1350.7,767.7 L1351.2,771.4 L1351.7,775.1 L1352.2,778.9 L1352.7,782.5 L1353.2,786.2 L1353.7,789.7 L1354.2,793.3 L1354.7,796.7 L1355.2,800.2 L1355.7,803.6 L1356.2,807.0 L1356.7,810.4 L1357.2,813.8 L1357.7,817.3 L1358.2,820.7 L1358.7,824.2 L1359.2,827.7 L1359.7,831.1 L1360.2,834.6 L1360.7,838.0 L1361.2,841.4 L1361.7,844.8 L1362.2,848.3 L1362.7,851.7 L1363.2,855.1 L1363.7,858.4 L1364.2,861.6 L1364.7,864.6 L1365.2,867.5 L1365.7,870.3 L1366.2,873.0 L1366.7,875.6 L1367.2,878.3 L1367.7,880.9 L1368.2,883.4 L1368.7,886.0 L1369.2,888.7 L1369.7,891.4 L1370.2,894.1 L1370.7,896.7 L1371.2,899.3 L1371.7,901.7 L1372.2,904.0 L1372.7,906.1 L1373.2,908.0 L1373.7,909.7 L1374.2,911.3 L1374.7,912.7 L1375.2,914.1 L1375.7,915.5 L1376.2,916.8 L1376.7,918.2 L1377.2,919.6 L1377.7,921.1 L1378.2,922.7 L1378.7,924.5 L1379.2,926.4 L1379.7,928.5 L1380.2,930.7 L1380.7,932.9 L1381.2,935.3 L1381.7,937.7 L1382.2,940.1 L1382.7,942.5 L1383.2,944.8 L1383.7,947.0 L1384.2,949.3 L1384.7,951.6 L1385.2,953.8 L1385.7,956.1 L1386.2,958.4 L1386.7,960.6 L1387.2,962.9 L1387.7,965.1 L1388.2,967.3 L1388.7,969.4 L1389.2,971.5 L1389.7,973.6 L1390.2,975.7 L1390.7,977.7 L1391.2,979.8 L1391.7,981.9 L1392.2,984.0 L1392.7,986.0 L1393.2,988.0 L1393.7,989.9 L1394.2,991.6 L1394.7,993.2 L1395.2,994.7 L1395.7,996.0 L1396.2,997.2 L1396.7,998.3 L1397.2,999.4 L1397.7,1000.4 L1398.2,1001.4 L1398.7,1002.3 L1399.2,1003.2 L1399.7,1004.1 L1400.2,1004.9 L1400.7,1005.7 L1401.2,1006.5 L1401.7,1007.3 L1402.2,1008.0 L1402.7,1008.8 L1403.2,1009.5 L1403.7,1010.2 L1404.2,1010.9 L1404.7,1011.5 L1405.2,1012.2 L1405.7,1012.9 L1406.2,1013.6 L1406.7,1014.3 L1407.2,1015.0 L1407.7,1015.7 L1408.2,1016.3 L1408.7,1017.0 L1409.2,1017.6 L1409.7,1018.3 L1410.2,1018.9 L1410.7,1019.5 L1411.2,1020.1 L1411.7,1020.7 L1412.2,1021.3 L1412.7,1021.9 L1413.2,1022.5 L1413.7,1023.1 L1414.2,1023.6 L1414.7,1024.2 L1415.2,1024.8 L1415.7,1025.3 L1416.2,1025.9 L1416.7,1026.5 L1417.2,1027.0 L1417.7,1027.6 L1418.2,1028.2 L1418.7,1028.8 L1419.2,1029.3 L1419.7,1029.9 L1420.2,1030.5 L1420.7,1031.1 L1421.2,1031.6 L1421.7,1032.2 L1422.2,1032.8 L1422.7,1033.3 L1423.2,1033.9 L1423.7,1034.4 L1424.2,1035.0 L1424.7,1035.6 L1425.2,1036.1 L1425.7,1036.6 L1426.2,1037.2 L1426.7,1037.7 L1427.2,1038.2 L1427.7,1038.8 L1428.2,1039.3 L1428.7,1039.8 L1429.2,1040.3 L1429.7,1040.8 L1430.2,1041.3 L1430.7,1041.8 L1431.2,1042.3 L1431.7,1042.8 L1432.2,1043.2 L1432.7,1043.7 L1433.2,1044.2 L1433.7,1044.7 L1434.2,1045.1 L1434.7,1045.6 L1435.2,1046.0 L1435.7,1046.5 L1436.2,1046.9 L1436.7,1047.4 L1437.2,1047.8 L1437.7,1048.3 L1438.2,1048.7 L1438.7,1049.1 L1439.2,1049.5 L1439.7,1049.9 L1440.2,1050.3 L1440.7,1050.7 L1441.2,1051.1 L1441.7,1051.5 L1442.2,1051.9 L1442.7,1052.3 L1443.2,1052.7 L1443.7,1053.1 L1444.2,1053.4 L1444.7,1053.8 L1445.2,1054.2 L1445.7,1054.6 L1446.2,1054.9 L1446.7,1055.3 L1447.2,1055.6 L1447.7,1056.0 L1448.2,1056.3 L1448.7,1056.6 L1449.2,1057.0 L1449.7,1057.3 L1450.2,1057.6 L1450.7,1057.9 L1451.2,1058.2 L1451.7,1058.5 L1452.2,1058.8 L1452.7,1059.1 L1453.2,1059.4 L1453.7,1059.6 L1454.2,1059.9 L1454.7,1060.2 L1455.2,1060.4 L1455.7,1060.7 L1456.2,1060.9 L1456.7,1061.2 L1457.2,1061.5 L1457.7,1061.7 L1458.2,1061.9 L1458.7,1062.2 L1459.2,1062.4 L1459.7,1062.7 L1460.2,1062.9 L1460.7,1063.1 L1461.2,1063.4 L1461.7,1063.6 L1462.2,1063.8 L1462.7,1064.0 L1463.2,1064.2 L1463.7,1064.5 L1464.2,1064.7 L1464.7,1064.9 L1465.2,1065.1 L1465.7,1065.3 L1466.2,1065.5 L1466.7,1065.7 L1467.2,1065.9 L1467.7,1066.1 L1468.2,1066.3 L1468.7,1066.5 L1469.2,1066.7 L1469.7,1066.9 L1470.2,1067.1 L1470.7,1067.3 L1471.2,1067.5 L1471.7,1067.7 L1472.2,1067.9 L1472.7,1068.0 L1473.2,1068.2 L1473.7,1068.4 L1474.2,1068.6 L1474.7,1068.8 L1475.2,1069.0 L1475.7,1069.1 L1476.2,1069.3 L1476.7,1069.5 L1477.2,1069.7 L1477.7,1069.8 L1478.2,1070.0 L1478.7,1070.2 L1479.2,1070.3 L1479.7,1070.5 L1480.2,1070.7 L1480.7,1070.8 L1481.2,1071.0 L1481.7,1071.1 L1482.2,1071.3 L1482.7,1071.4 L1483.2,1071.6 L1483.7,1071.7 L1484.2,1071.9 L1484.7,1072.0 L1485.2,1072.1 L1485.7,1072.3 L1486.2,1072.4 L1486.7,1072.5 L1487.2,1072.6 L1487.7,1072.8 L1488.2,1072.9 L1488.7,1073.0 L1489.2,1073.1 L1489.7,1073.3 L1490.2,1073.4 L1490.7,1073.5 L1491.2,1073.6 L1491.7,1073.7 L1492.2,1073.8 L1492.7,1073.9 L1493.2,1074.0 L1493.7,1074.2 L1494.2,1074.3 L1494.7,1074.4 L1495.2,1074.5 L1495.7,1074.6 L1496.2,1074.7 L1496.7,1074.8 L1497.2,1074.8 L1497.7,1074.9 L1498.2,1075.0 L1498.7,1075.1 L1499.2,1075.2 L1499.7,1075.3 L1500.2,1075.4 L1500.7,1075.5 L1501.2,1075.5 L1501.7,1075.6 L1502.2,1075.7 L1502.7,1075.7 L1503.2,1075.8 L1503.7,1075.9 L1504.2,1075.9 L1504.7,1076.0 L1505.2,1076.1 L1505.7,1076.1 L1506.2,1076.2 L1506.7,1076.3 L1507.2,1076.3 L1507.7,1076.4 L1508.2,1076.4 L1508.7,1076.5 L1509.2,1076.5 L1509.7,1076.6 L1510.2,1076.6 L1510.7,1076.7 L1511.2,1076.8 L1511.7,1076.8 L1512.2,1076.9 L1512.7,1076.9 L1513.2,1077.0 L1513.7,1077.0 L1514.2,1077.0 L1514.7,1077.1 L1515.2,1077.1 L1515.7,1077.2 L1516.2,1077.2 L1516.7,1077.3 L1517.2,1077.3 L1517.7,1077.4 L1518.2,1077.4 L1518.7,1077.4 L1519.2,1077.5 L1519.7,1077.5 L1520.2,1077.6 L1520.7,1077.6 L1521.2,1077.7 L1521.7,1077.7 L1522.2,1077.7 L1522.7,1077.8 L1523.2,1077.8 L1523.7,1077.8 L1524.2,1077.9 L1524.7,1077.9 L1525.2,1078.0 L1525.7,1078.0 L1526.2,1078.0 L1526.7,1078.1 L1527.2,1078.1 L1527.7,1078.1 L1528.2,1078.2 L1528.7,1078.2 L1529.2,1078.3 L1529.7,1078.3 L1530.2,1078.3 L1530.7,1078.4 L1531.2,1078.4 L1531.7,1078.4 L1532.2,1078.5 L1532.7,1078.5 L1533.2,1078.5 L1533.7,1078.6 L1534.2,1078.6 L1534.7,1078.6 L1535.2,1078.7 L1535.7,1078.7 L1536.2,1078.7 L1536.7,1078.8 L1537.2,1078.8 L1537.7,1078.8 L1538.2,1078.9 L1538.7,1078.9 L1539.2,1078.9 L1539.7,1079.0 L1540.2,1079.0 L1540.7,1079.0 L1541.2,1079.1 L1541.7,1079.1 L1542.2,1079.1 L1542.7,1079.2 L1543.2,1079.2 L1543.7,1079.2 L1544.2,1079.2 L1544.7,1079.3 L1545.2,1079.3 L1545.7,1079.3 L1546.2,1079.3 L1546.7,1079.4 L1547.2,1079.4 L1547.7,1079.4 L1548.2,1079.5 L1548.7,1079.5 L1549.2,1079.5 L1549.7,1079.5 L1550.2,1079.6 L1550.7,1079.6 L1551.2,1079.6 L1551.7,1079.6 L1552.2,1079.6 L1552.7,1079.7 L1553.2,1079.7 L1553.7,1079.7 L1554.2,1079.7 L1554.7,1079.7 L1555.2,1079.8 L1555.7,1079.8 L1556.0,1079.8" fill="none" stroke="#aa0000" stroke-width="9" stroke-linejoin="round" stroke-linecap="round"/>
<g fill="#aa0000"><circle cx="549.7" cy="702.4" r="7"/><circle cx="553.7" cy="721.7" r="7"/><circle cx="557.8" cy="737.7" r="7"/><circle cx="561.8" cy="756.3" r="7"/><circle cx="565.8" cy="771.1" r="7"/><circle cx="569.8" cy="785.0" r="7"/><circle cx="573.9" cy="797.4" r="7"/><circle cx="577.9" cy="811.8" r="7"/><circle cx="581.9" cy="822.1" r="7"/><circle cx="586.0" cy="828.1" r="7"/><circle cx="590.0" cy="833.8" r="7"/><circle cx="594.0" cy="839.2" r="7"/><circle cx="598.0" cy="845.3" r="7"/><circle cx="602.1" cy="852.6" r="7"/><circle cx="606.1" cy="863.6" r="7"/><circle cx="610.1" cy="872.2" r="7"/><circle cx="614.1" cy="878.9" r="7"/><circle cx="618.2" cy="885.2" r="7"/><circle cx="622.2" cy="890.7" r="7"/><circle cx="626.2" cy="895.7" r="7"/><circle cx="630.3" cy="900.1" r="7"/><circle cx="634.3" cy="903.8" r="7"/><circle cx="638.3" cy="907.0" r="7"/><circle cx="642.3" cy="909.8" r="7"/><circle cx="646.4" cy="912.1" r="7"/><circle cx="650.4" cy="913.6" r="7"/><circle cx="654.4" cy="914.8" r="7"/><circle cx="658.5" cy="915.9" r="7"/><circle cx="662.5" cy="916.7" r="7"/><circle cx="666.5" cy="917.3" r="7"/><circle cx="670.5" cy="917.4" r="7"/><circle cx="674.6" cy="917.2" r="7"/><circle cx="678.6" cy="916.7" r="7"/><circle cx="682.6" cy="916.0" r="7"/><circle cx="686.7" cy="915.1" r="7"/><circle cx="690.7" cy="914.2" r="7"/><circle cx="694.7" cy="913.1" r="7"/><circle cx="698.7" cy="912.0" r="7"/><circle cx="702.8" cy="910.6" r="7"/><circle cx="706.8" cy="908.9" r="7"/><circle cx="710.8" cy="906.9" r="7"/><circle cx="714.8" cy="904.6" r="7"/><circle cx="718.9" cy="901.8" r="7"/><circle cx="722.9" cy="897.9" r="7"/><circle cx="726.9" cy="893.6" r="7"/><circle cx="731.0" cy="889.8" r="7"/><circle cx="735.0" cy="886.3" r="7"/><circle cx="739.0" cy="882.9" r="7"/><circle cx="743.0" cy="879.6" r="7"/><circle cx="747.1" cy="876.4" r="7"/><circle cx="751.1" cy="873.3" r="7"/><circle cx="755.1" cy="870.5" r="7"/><circle cx="759.2" cy="868.0" r="7"/><circle cx="763.2" cy="865.7" r="7"/><circle cx="767.2" cy="863.5" r="7"/><circle cx="771.2" cy="861.5" r="7"/><circle cx="775.3" cy="859.5" r="7"/><circle cx="779.3" cy="857.8" r="7"/><circle cx="783.3" cy="856.1" r="7"/><circle cx="787.4" cy="854.6" r="7"/><circle cx="791.4" cy="853.2" r="7"/><circle cx="795.4" cy="851.9" r="7"/><circle cx="799.4" cy="850.5" r="7"/><circle cx="803.5" cy="849.1" r="7"/><circle cx="807.5" cy="847.9" r="7"/><circle cx="811.5" cy="846.8" r="7"/><circle cx="815.5" cy="845.9" r="7"/><circle cx="819.6" cy="845.4" r="7"/><circle cx="823.6" cy="845.3" r="7"/><circle cx="827.6" cy="845.4" r="7"/><circle cx="831.7" cy="845.6" r="7"/><circle cx="835.7" cy="845.8" r="7"/><circle cx="839.7" cy="846.2" r="7"/><circle cx="843.7" cy="846.5" r="7"/><circle cx="847.8" cy="846.9" r="7"/><circle cx="851.8" cy="847.3" r="7"/><circle cx="855.8" cy="848.0" r="7"/><circle cx="859.9" cy="848.7" r="7"/><circle cx="863.9" cy="849.4" r="7"/><circle cx="867.9" cy="849.8" r="7"/><circle cx="871.9" cy="850.0" r="7"/><circle cx="876.0" cy="849.7" r="7"/><circle cx="880.0" cy="848.8" r="7"/><circle cx="884.0" cy="847.6" r="7"/><circle cx="888.1" cy="846.0" r="7"/><circle cx="892.1" cy="844.2" r="7"/><circle cx="896.1" cy="842.2" r="7"/><circle cx="900.1" cy="839.1" r="7"/><circle cx="904.2" cy="835.3" r="7"/><circle cx="908.2" cy="831.0" r="7"/><circle cx="912.2" cy="826.3" r="7"/><circle cx="916.2" cy="820.6" r="7"/><circle cx="920.3" cy="814.0" r="7"/><circle cx="924.3" cy="807.0" r="7"/><circle cx="928.3" cy="800.0" r="7"/><circle cx="932.4" cy="793.0" r="7"/><circle cx="936.4" cy="785.7" r="7"/><circle cx="940.4" cy="778.3" r="7"/><circle cx="944.4" cy="770.6" r="7"/><circle cx="948.5" cy="762.7" r="7"/><circle cx="952.5" cy="754.6" r="7"/><circle cx="956.5" cy="746.1" r="7"/><circle cx="960.6" cy="737.1" r="7"/><circle cx="964.6" cy="727.9" r="7"/><circle cx="968.6" cy="718.8" r="7"/><circle cx="972.6" cy="710.0" r="7"/><circle cx="976.7" cy="700.8" r="7"/><circle cx="980.7" cy="690.5" r="7"/><circle cx="984.7" cy="679.0" r="7"/><circle cx="988.8" cy="665.8" r="7"/><circle cx="992.8" cy="648.9" r="7"/><circle cx="996.8" cy="631.7" r="7"/><circle cx="1000.8" cy="615.2" r="7"/><circle cx="1004.9" cy="599.1" r="7"/><circle cx="1008.9" cy="584.0" r="7"/><circle cx="1012.9" cy="570.5" r="7"/><circle cx="1016.9" cy="558.3" r="7"/><circle cx="1021.0" cy="546.6" r="7"/><circle cx="1025.0" cy="534.8" r="7"/><circle cx="1029.0" cy="523.1" r="7"/><circle cx="1033.1" cy="511.6" r="7"/><circle cx="1037.1" cy="499.2" r="7"/><circle cx="1041.1" cy="485.0" r="7"/><circle cx="1045.1" cy="468.8" r="7"/><circle cx="1049.2" cy="451.9" r="7"/><circle cx="1053.2" cy="435.8" r="7"/><circle cx="1057.2" cy="420.6" r="7"/><circle cx="1061.3" cy="406.0" r="7"/><circle cx="1065.3" cy="392.4" r="7"/><circle cx="1069.3" cy="380.2" r="7"/><circle cx="1073.3" cy="367.8" r="7"/><circle cx="1077.4" cy="353.6" r="7"/><circle cx="1081.4" cy="337.1" r="7"/><circle cx="1085.4" cy="320.9" r="7"/><circle cx="1089.5" cy="305.3" r="7"/><circle cx="1093.5" cy="290.4" r="7"/><circle cx="1097.5" cy="276.4" r="7"/><circle cx="1101.5" cy="263.4" r="7"/><circle cx="1105.6" cy="251.5" r="7"/><circle cx="1109.6" cy="240.7" r="7"/><circle cx="1113.6" cy="231.1" r="7"/><circle cx="1117.6" cy="222.5" r="7"/><circle cx="1121.7" cy="215.5" r="7"/><circle cx="1125.7" cy="209.9" r="7"/><circle cx="1129.7" cy="206.1" r="7"/><circle cx="1133.8" cy="204.5" r="7"/><circle cx="1137.8" cy="204.1" r="7"/><circle cx="1141.8" cy="206.4" r="7"/><circle cx="1145.8" cy="209.6" r="7"/><circle cx="1149.9" cy="213.8" r="7"/><circle cx="1153.9" cy="218.4" r="7"/><circle cx="1157.9" cy="223.9" r="7"/><circle cx="1162.0" cy="230.0" r="7"/><circle cx="1166.0" cy="235.0" r="7"/><circle cx="1170.0" cy="238.7" r="7"/><circle cx="1174.0" cy="241.7" r="7"/><circle cx="1178.1" cy="243.7" r="7"/><circle cx="1182.1" cy="245.0" r="7"/><circle cx="1186.1" cy="245.9" r="7"/><circle cx="1190.2" cy="245.7" r="7"/><circle cx="1194.2" cy="243.1" r="7"/><circle cx="1198.2" cy="239.2" r="7"/><circle cx="1202.2" cy="233.9" r="7"/><circle cx="1206.3" cy="226.3" r="7"/><circle cx="1210.3" cy="218.1" r="7"/><circle cx="1214.3" cy="208.9" r="7"/><circle cx="1218.3" cy="199.6" r="7"/><circle cx="1222.4" cy="190.5" r="7"/><circle cx="1226.4" cy="181.5" r="7"/><circle cx="1230.4" cy="172.1" r="7"/><circle cx="1234.5" cy="162.7" r="7"/><circle cx="1238.5" cy="154.9" r="7"/><circle cx="1242.5" cy="147.8" r="7"/><circle cx="1246.5" cy="143.3" r="7"/><circle cx="1250.6" cy="141.0" r="7"/><circle cx="1254.6" cy="139.6" r="7"/><circle cx="1258.6" cy="140.2" r="7"/><circle cx="1262.7" cy="143.5" r="7"/><circle cx="1266.7" cy="151.5" r="7"/><circle cx="1270.7" cy="164.8" r="7"/><circle cx="1274.7" cy="176.1" r="7"/><circle cx="1278.8" cy="196.1" r="7"/><circle cx="1282.8" cy="214.5" r="7"/><circle cx="1286.8" cy="235.6" r="7"/><circle cx="1290.9" cy="264.6" r="7"/><circle cx="1294.9" cy="291.3" r="7"/><circle cx="1298.9" cy="331.5" r="7"/><circle cx="1302.9" cy="362.0" r="7"/><circle cx="1307.0" cy="388.9" r="7"/><circle cx="1311.0" cy="420.3" r="7"/><circle cx="1315.0" cy="455.9" r="7"/><circle cx="1319.0" cy="490.1" r="7"/><circle cx="1323.1" cy="524.6" r="7"/><circle cx="1327.1" cy="568.6" r="7"/><circle cx="1331.1" cy="614.0" r="7"/><circle cx="1335.2" cy="651.3" r="7"/><circle cx="1339.2" cy="682.0" r="7"/><circle cx="1343.2" cy="711.9" r="7"/><circle cx="1347.2" cy="742.0" r="7"/><circle cx="1351.3" cy="771.9" r="7"/><circle cx="1355.3" cy="800.9" r="7"/><circle cx="1359.3" cy="828.6" r="7"/><circle cx="1363.4" cy="856.1" r="7"/><circle cx="1367.4" cy="879.2" r="7"/><circle cx="1371.4" cy="900.3" r="7"/><circle cx="1375.4" cy="914.8" r="7"/><circle cx="1379.5" cy="927.5" r="7"/><circle cx="1383.5" cy="946.1" r="7"/><circle cx="1387.5" cy="964.3" r="7"/><circle cx="1391.6" cy="981.3" r="7"/><circle cx="1395.6" cy="995.7" r="7"/><circle cx="1399.6" cy="1003.9" r="7"/><circle cx="1403.6" cy="1010.1" r="7"/><circle cx="1407.7" cy="1015.6" r="7"/><circle cx="1411.7" cy="1020.7" r="7"/><circle cx="1415.7" cy="1025.4" r="7"/><circle cx="1419.7" cy="1030.0" r="7"/><circle cx="1423.8" cy="1034.5" r="7"/><circle cx="1427.8" cy="1038.9" r="7"/><circle cx="1431.8" cy="1042.9" r="7"/><circle cx="1435.9" cy="1046.6" r="7"/><circle cx="1439.9" cy="1050.1" r="7"/><circle cx="1443.9" cy="1053.2" r="7"/><circle cx="1447.9" cy="1056.1" r="7"/><circle cx="1452.0" cy="1058.7" r="7"/><circle cx="1456.0" cy="1060.8" r="7"/><circle cx="1460.0" cy="1062.8" r="7"/><circle cx="1464.1" cy="1064.6" r="7"/><circle cx="1468.1" cy="1066.3" r="7"/><circle cx="1472.1" cy="1067.8" r="7"/><circle cx="1476.1" cy="1069.3" r="7"/><circle cx="1480.2" cy="1070.7" r="7"/><circle cx="1484.2" cy="1071.9" r="7"/><circle cx="1488.2" cy="1072.9" r="7"/><circle cx="1492.3" cy="1073.8" r="7"/><circle cx="1496.3" cy="1074.7" r="7"/><circle cx="1500.3" cy="1075.4" r="7"/><circle cx="1504.3" cy="1076.0" r="7"/><circle cx="1508.4" cy="1076.4" r="7"/><circle cx="1512.4" cy="1076.9" r="7"/><circle cx="1516.4" cy="1077.3" r="7"/><circle cx="1520.4" cy="1077.6" r="7"/><circle cx="1524.5" cy="1077.9" r="7"/><circle cx="1528.5" cy="1078.2" r="7"/><circle cx="1532.5" cy="1078.5" r="7"/><circle cx="1536.6" cy="1078.8" r="7"/><circle cx="1540.6" cy="1079.0" r="7"/><circle cx="1544.6" cy="1079.3" r="7"/><circle cx="1548.6" cy="1079.5" r="7"/><circle cx="1552.7" cy="1079.7" r="7"/></g>
<g fill="#ffc8c8" opacity="0.6"><circle cx="548.7" cy="701.4" r="1.4"/><circle cx="552.7" cy="720.7" r="1.4"/><circle cx="556.8" cy="736.7" r="1.4"/><circle cx="560.8" cy="755.3" r="1.4"/><circle cx="564.8" cy="770.1" r="1.4"/><circle cx="568.8" cy="784.0" r="1.4"/><circle cx="572.9" cy="796.4" r="1.4"/><circle cx="576.9" cy="810.8" r="1.4"/><circle cx="580.9" cy="821.1" r="1.4"/><circle cx="585.0" cy="827.1" r="1.4"/><circle cx="589.0" cy="832.8" r="1.4"/><circle cx="593.0" cy="838.2" r="1.4"/><circle cx="597.0" cy="844.3" r="1.4"/><circle cx="601.1" cy="851.6" r="1.4"/><circle cx="605.1" cy="862.6" r="1.4"/><circle cx="609.1" cy="871.2" r="1.4"/><circle cx="613.1" cy="877.9" r="1.4"/><circle cx="617.2" cy="884.2" r="1.4"/><circle cx="621.2" cy="889.7" r="1.4"/><circle cx="625.2" cy="894.7" r="1.4"/><circle cx="629.3" cy="899.1" r="1.4"/><circle cx="633.3" cy="902.8" r="1.4"/><circle cx="637.3" cy="906.0" r="1.4"/><circle cx="641.3" cy="908.8" r="1.4"/><circle cx="645.4" cy="911.1" r="1.4"/><circle cx="649.4" cy="912.6" r="1.4"/><circle cx="653.4" cy="913.8" r="1.4"/><circle cx="657.5" cy="914.9" r="1.4"/><circle cx="661.5" cy="915.7" r="1.4"/><circle cx="665.5" cy="916.3" r="1.4"/><circle cx="669.5" cy="916.4" r="1.4"/><circle cx="673.6" cy="916.2" r="1.4"/><circle cx="677.6" cy="915.7" r="1.4"/><circle cx="681.6" cy="915.0" r="1.4"/><circle cx="685.7" cy="914.1" r="1.4"/><circle cx="689.7" cy="913.2" r="1.4"/><circle cx="693.7" cy="912.1" r="1.4"/><circle cx="697.7" cy="911.0" r="1.4"/><circle cx="701.8" cy="909.6" r="1.4"/><circle cx="705.8" cy="907.9" r="1.4"/><circle cx="709.8" cy="905.9" r="1.4"/><circle cx="713.8" cy="903.6" r="1.4"/><circle cx="717.9" cy="900.8" r="1.4"/><circle cx="721.9" cy="896.9" r="1.4"/><circle cx="725.9" cy="892.6" r="1.4"/><circle cx="730.0" cy="888.8" r="1.4"/><circle cx="734.0" cy="885.3" r="1.4"/><circle cx="738.0" cy="881.9" r="1.4"/><circle cx="742.0" cy="878.6" r="1.4"/><circle cx="746.1" cy="875.4" r="1.4"/><circle cx="750.1" cy="872.3" r="1.4"/><circle cx="754.1" cy="869.5" r="1.4"/><circle cx="758.2" cy="867.0" r="1.4"/><circle cx="762.2" cy="864.7" r="1.4"/><circle cx="766.2" cy="862.5" r="1.4"/><circle cx="770.2" cy="860.5" r="1.4"/><circle cx="774.3" cy="858.5" r="1.4"/><circle cx="778.3" cy="856.8" r="1.4"/><circle cx="782.3" cy="855.1" r="1.4"/><circle cx="786.4" cy="853.6" r="1.4"/><circle cx="790.4" cy="852.2" r="1.4"/><circle cx="794.4" cy="850.9" r="1.4"/><circle cx="798.4" cy="849.5" r="1.4"/><circle cx="802.5" cy="848.1" r="1.4"/><circle cx="806.5" cy="846.9" r="1.4"/><circle cx="810.5" cy="845.8" r="1.4"/><circle cx="814.5" cy="844.9" r="1.4"/><circle cx="818.6" cy="844.4" r="1.4"/><circle cx="822.6" cy="844.3" r="1.4"/><circle cx="826.6" cy="844.4" r="1.4"/><circle cx="830.7" cy="844.6" r="1.4"/><circle cx="834.7" cy="844.8" r="1.4"/><circle cx="838.7" cy="845.2" r="1.4"/><circle cx="842.7" cy="845.5" r="1.4"/><circle cx="846.8" cy="845.9" r="1.4"/><circle cx="850.8" cy="846.3" r="1.4"/><circle cx="854.8" cy="847.0" r="1.4"/><circle cx="858.9" cy="847.7" r="1.4"/><circle cx="862.9" cy="848.4" r="1.4"/><circle cx="866.9" cy="848.8" r="1.4"/><circle cx="870.9" cy="849.0" r="1.4"/><circle cx="875.0" cy="848.7" r="1.4"/><circle cx="879.0" cy="847.8" r="1.4"/><circle cx="883.0" cy="846.6" r="1.4"/><circle cx="887.1" cy="845.0" r="1.4"/><circle cx="891.1" cy="843.2" r="1.4"/><circle cx="895.1" cy="841.2" r="1.4"/><circle cx="899.1" cy="838.1" r="1.4"/><circle cx="903.2" cy="834.3" r="1.4"/><circle cx="907.2" cy="830.0" r="1.4"/><circle cx="911.2" cy="825.3" r="1.4"/><circle cx="915.2" cy="819.6" r="1.4"/><circle cx="919.3" cy="813.0" r="1.4"/><circle cx="923.3" cy="806.0" r="1.4"/><circle cx="927.3" cy="799.0" r="1.4"/><circle cx="931.4" cy="792.0" r="1.4"/><circle cx="935.4" cy="784.7" r="1.4"/><circle cx="939.4" cy="777.3" r="1.4"/><circle cx="943.4" cy="769.6" r="1.4"/><circle cx="947.5" cy="761.7" r="1.4"/><circle cx="951.5" cy="753.6" r="1.4"/><circle cx="955.5" cy="745.1" r="1.4"/><circle cx="959.6" cy="736.1" r="1.4"/><circle cx="963.6" cy="726.9" r="1.4"/><circle cx="967.6" cy="717.8" r="1.4"/><circle cx="971.6" cy="709.0" r="1.4"/><circle cx="975.7" cy="699.8" r="1.4"/><circle cx="979.7" cy="689.5" r="1.4"/><circle cx="983.7" cy="678.0" r="1.4"/><circle cx="987.8" cy="664.8" r="1.4"/><circle cx="991.8" cy="647.9" r="1.4"/><circle cx="995.8" cy="630.7" r="1.4"/><circle cx="999.8" cy="614.2" r="1.4"/><circle cx="1003.9" cy="598.1" r="1.4"/><circle cx="1007.9" cy="583.0" r="1.4"/><circle cx="1011.9" cy="569.5" r="1.4"/><circle cx="1015.9" cy="557.3" r="1.4"/><circle cx="1020.0" cy="545.6" r="1.4"/><circle cx="1024.0" cy="533.8" r="1.4"/><circle cx="1028.0" cy="522.1" r="1.4"/><circle cx="1032.1" cy="510.6" r="1.4"/><circle cx="1036.1" cy="498.2" r="1.4"/><circle cx="1040.1" cy="484.0" r="1.4"/><circle cx="1044.1" cy="467.8" r="1.4"/><circle cx="1048.2" cy="450.9" r="1.4"/><circle cx="1052.2" cy="434.8" r="1.4"/><circle cx="1056.2" cy="419.6" r="1.4"/><circle cx="1060.3" cy="405.0" r="1.4"/><circle cx="1064.3" cy="391.4" r="1.4"/><circle cx="1068.3" cy="379.2" r="1.4"/><circle cx="1072.3" cy="366.8" r="1.4"/><circle cx="1076.4" cy="352.6" r="1.4"/><circle cx="1080.4" cy="336.1" r="1.4"/><circle cx="1084.4" cy="319.9" r="1.4"/><circle cx="1088.5" cy="304.3" r="1.4"/><circle cx="1092.5" cy="289.4" r="1.4"/><circle cx="1096.5" cy="275.4" r="1.4"/><circle cx="1100.5" cy="262.4" r="1.4"/><circle cx="1104.6" cy="250.5" r="1.4"/><circle cx="1108.6" cy="239.7" r="1.4"/><circle cx="1112.6" cy="230.1" r="1.4"/><circle cx="1116.6" cy="221.5" r="1.4"/><circle cx="1120.7" cy="214.5" r="1.4"/><circle cx="1124.7" cy="208.9" r="1.4"/><circle cx="1128.7" cy="205.1" r="1.4"/><circle cx="1132.8" cy="203.5" r="1.4"/><circle cx="1136.8" cy="203.1" r="1.4"/><circle cx="1140.8" cy="205.4" r="1.4"/><circle cx="1144.8" cy="208.6" r="1.4"/><circle cx="1148.9" cy="212.8" r="1.4"/><circle cx="1152.9" cy="217.4" r="1.4"/><circle cx="1156.9" cy="222.9" r="1.4"/><circle cx="1161.0" cy="229.0" r="1.4"/><circle cx="1165.0" cy="234.0" r="1.4"/><circle cx="1169.0" cy="237.7" r="1.4"/><circle cx="1173.0" cy="240.7" r="1.4"/><circle cx="1177.1" cy="242.7" r="1.4"/><circle cx="1181.1" cy="244.0" r="1.4"/><circle cx="1185.1" cy="244.9" r="1.4"/><circle cx="1189.2" cy="244.7" r="1.4"/><circle cx="1193.2" cy="242.1" r="1.4"/><circle cx="1197.2" cy="238.2" r="1.4"/><circle cx="1201.2" cy="232.9" r="1.4"/><circle cx="1205.3" cy="225.3" r="1.4"/><circle cx="1209.3" cy="217.1" r="1.4"/><circle cx="1213.3" cy="207.9" r="1.4"/><circle cx="1217.3" cy="198.6" r="1.4"/><circle cx="1221.4" cy="189.5" r="1.4"/><circle cx="1225.4" cy="180.5" r="1.4"/><circle cx="1229.4" cy="171.1" r="1.4"/><circle cx="1233.5" cy="161.7" r="1.4"/><circle cx="1237.5" cy="153.9" r="1.4"/><circle cx="1241.5" cy="146.8" r="1.4"/><circle cx="1245.5" cy="142.3" r="1.4"/><circle cx="1249.6" cy="140.0" r="1.4"/><circle cx="1253.6" cy="138.6" r="1.4"/><circle cx="1257.6" cy="139.2" r="1.4"/><circle cx="1261.7" cy="142.5" r="1.4"/><circle cx="1265.7" cy="150.5" r="1.4"/><circle cx="1269.7" cy="163.8" r="1.4"/><circle cx="1273.7" cy="175.1" r="1.4"/><circle cx="1277.8" cy="195.1" r="1.4"/><circle cx="1281.8" cy="213.5" r="1.4"/><circle cx="1285.8" cy="234.6" r="1.4"/><circle cx="1289.9" cy="263.6" r="1.4"/><circle cx="1293.9" cy="290.3" r="1.4"/><circle cx="1297.9" cy="330.5" r="1.4"/><circle cx="1301.9" cy="361.0" r="1.4"/><circle cx="1306.0" cy="387.9" r="1.4"/><circle cx="1310.0" cy="419.3" r="1.4"/><circle cx="1314.0" cy="454.9" r="1.4"/><circle cx="1318.0" cy="489.1" r="1.4"/><circle cx="1322.1" cy="523.6" r="1.4"/><circle cx="1326.1" cy="567.6" r="1.4"/><circle cx="1330.1" cy="613.0" r="1.4"/><circle cx="1334.2" cy="650.3" r="1.4"/><circle cx="1338.2" cy="681.0" r="1.4"/><circle cx="1342.2" cy="710.9" r="1.4"/><circle cx="1346.2" cy="741.0" r="1.4"/><circle cx="1350.3" cy="770.9" r="1.4"/><circle cx="1354.3" cy="799.9" r="1.4"/><circle cx="1358.3" cy="827.6" r="1.4"/><circle cx="1362.4" cy="855.1" r="1.4"/><circle cx="1366.4" cy="878.2" r="1.4"/><circle cx="1370.4" cy="899.3" r="1.4"/><circle cx="1374.4" cy="913.8" r="1.4"/><circle cx="1378.5" cy="926.5" r="1.4"/><circle cx="1382.5" cy="945.1" r="1.4"/><circle cx="1386.5" cy="963.3" r="1.4"/><circle cx="1390.6" cy="980.3" r="1.4"/><circle cx="1394.6" cy="994.7" r="1.4"/><circle cx="1398.6" cy="1002.9" r="1.4"/><circle cx="1402.6" cy="1009.1" r="1.4"/><circle cx="1406.7" cy="1014.6" r="1.4"/><circle cx="1410.7" cy="1019.7" r="1.4"/><circle cx="1414.7" cy="1024.4" r="1.4"/><circle cx="1418.7" cy="1029.0" r="1.4"/><circle cx="1422.8" cy="1033.5" r="1.4"/><circle cx="1426.8" cy="1037.9" r="1.4"/><circle cx="1430.8" cy="1041.9" r="1.4"/><circle cx="1434.9" cy="1045.6" r="1.4"/><circle cx="1438.9" cy="1049.1" r="1.4"/><circle cx="1442.9" cy="1052.2" r="1.4"/><circle cx="1446.9" cy="1055.1" r="1.4"/><circle cx="1451.0" cy="1057.7" r="1.4"/><circle cx="1455.0" cy="1059.8" r="1.4"/><circle cx="1459.0" cy="1061.8" r="1.4"/><circle cx="1463.1" cy="1063.6" r="1.4"/><circle cx="1467.1" cy="1065.3" r="1.4"/><circle cx="1471.1" cy="1066.8" r="1.4"/><circle cx="1475.1" cy="1068.3" r="1.4"/><circle cx="1479.2" cy="1069.7" r="1.4"/><circle cx="1483.2" cy="1070.9" r="1.4"/><circle cx="1487.2" cy="1071.9" r="1.4"/><circle cx="1491.3" cy="1072.8" r="1.4"/><circle cx="1495.3" cy="1073.7" r="1.4"/><circle cx="1499.3" cy="1074.4" r="1.4"/><circle cx="1503.3" cy="1075.0" r="1.4"/><circle cx="1507.4" cy="1075.4" r="1.4"/><circle cx="1511.4" cy="1075.9" r="1.4"/><circle cx="1515.4" cy="1076.3" r="1.4"/><circle cx="1519.4" cy="1076.6" r="1.4"/><circle cx="1523.5" cy="1076.9" r="1.4"/><circle cx="1527.5" cy="1077.2" r="1.4"/><circle cx="1531.5" cy="1077.5" r="1.4"/><circle cx="1535.6" cy="1077.8" r="1.4"/><circle cx="1539.6" cy="1078.0" r="1.4"/><circle cx="1543.6" cy="1078.3" r="1.4"/><circle cx="1547.6" cy="1078.5" r="1.4"/><circle cx="1551.7" cy="1078.7" r="1.4"/></g>
<path d="M250.0,755.0 L250.5,754.7 L251.0,754.4 L251.5,754.0 L252.0,753.6 L252.5,753.1 L253.0,752.5 L253.5,751.9 L254.0,751.3 L254.5,750.7 L255.0,750.0 L255.5,749.3 L256.0,748.4 L256.5,747.4 L257.0,746.4 L257.5,745.3 L258.0,744.2 L258.5,743.1 L259.0,742.0 L259.5,741.0 L260.0,739.9 L260.5,738.9 L261.0,737.8 L261.5,736.7 L262.0,735.6 L262.5,734.5 L263.0,733.4 L263.5,732.2 L264.0,731.0 L264.5,729.8 L265.0,728.5 L265.5,727.2 L266.0,725.9 L266.5,724.5 L267.0,723.1 L267.5,721.6 L268.0,720.0 L268.5,718.4 L269.0,716.7 L269.5,715.0 L270.0,713.2 L270.5,711.2 L271.0,709.2 L271.5,707.0 L272.0,704.7 L272.5,702.1 L273.0,699.3 L273.5,696.0 L274.0,692.3 L274.5,688.2 L275.0,684.0 L275.5,679.5 L276.0,675.0 L276.5,670.4 L277.0,665.5 L277.5,660.5 L278.0,655.2 L278.5,649.7 L279.0,644.0 L279.5,637.9 L280.0,631.6 L280.5,625.0 L281.0,618.0 L281.5,610.6 L282.0,602.7 L282.5,594.5 L283.0,585.8 L283.5,576.8 L284.0,567.4 L284.5,557.6 L285.0,547.5 L285.5,537.0 L286.0,526.0 L286.5,514.4 L287.0,502.2 L287.5,489.2 L288.0,475.6 L288.5,461.3 L289.0,446.3 L289.5,430.4 L290.0,412.2 L290.5,392.2 L291.0,371.5 L291.5,351.2 L292.0,332.4 L292.5,315.5 L293.0,299.1 L293.5,283.1 L294.0,267.6 L294.5,253.0 L295.0,239.3 L295.5,226.8 L296.0,215.5 L296.5,204.6 L297.0,193.7 L297.5,183.2 L298.0,173.5 L298.5,164.9 L299.0,157.8 L299.5,152.6 L300.0,149.5 L300.5,147.4 L301.0,145.4 L301.5,143.5 L302.0,141.9 L302.5,140.5 L303.0,139.3 L303.5,138.3 L304.0,137.6 L304.5,137.1 L305.0,137.0 L305.5,138.0 L306.0,140.7 L306.5,145.0 L307.0,150.6 L307.5,157.3 L308.0,164.8 L308.5,173.0 L309.0,181.7 L309.5,190.5 L310.0,199.5 L310.5,210.5 L311.0,223.5 L311.5,238.2 L312.0,254.1 L312.5,270.9 L313.0,288.1 L313.5,305.3 L314.0,322.3 L314.5,340.0 L315.0,358.4 L315.5,377.5 L316.0,397.1 L316.5,417.0 L317.0,437.0 L317.5,457.1 L318.0,477.1 L318.5,498.2 L319.0,520.2 L319.5,542.1 L320.0,563.3 L320.5,582.8 L321.0,600.0 L321.5,613.6 L322.0,625.6 L322.5,640.0 L323.0,661.1 L323.5,688.1 L324.0,716.9 L324.5,743.8 L325.0,765.0 L325.5,781.8 L326.0,798.0 L326.5,812.6 L327.0,825.2 L327.5,834.9 L328.0,841.0 L328.5,845.0 L329.0,848.7 L329.5,852.0 L330.0,855.0 L330.5,857.7 L331.0,859.9 L331.5,861.6 L332.0,862.9 L332.5,863.7 L333.0,864.0 L333.5,863.6 L334.0,862.6 L334.5,861.0 L335.0,858.8 L335.5,856.2 L336.0,853.1 L336.5,849.6 L337.0,845.8 L337.5,841.7 L338.0,836.6 L338.5,827.9 L339.0,816.8 L339.5,804.9 L340.0,794.0 L340.5,785.5 L341.0,778.7 L341.5,772.5 L342.0,766.8 L342.5,761.5 L343.0,756.4 L343.5,751.5 L344.0,746.5 L344.5,741.4 L345.0,736.0 L345.5,730.2 L346.0,723.9 L346.5,717.4 L347.0,710.6 L347.5,703.6 L348.0,696.4 L348.5,688.9 L349.0,681.2 L349.5,673.2 L350.0,665.0 L350.5,656.3 L351.0,647.0 L351.5,637.3 L352.0,627.4 L352.5,617.2 L353.0,607.0 L353.5,596.8 L354.0,586.8 L354.5,576.8 L355.0,566.7 L355.5,556.6 L356.0,546.4 L356.5,536.1 L357.0,525.7 L357.5,515.2 L358.0,504.7 L358.5,494.1 L359.0,483.5 L359.5,472.8 L360.0,462.0 L360.5,450.9 L361.0,439.6 L361.5,428.0 L362.0,415.8 L362.5,402.5 L363.0,388.6 L363.5,374.6 L364.0,361.0 L364.5,348.4 L365.0,337.3 L365.5,327.0 L366.0,317.2 L366.5,307.9 L367.0,298.9 L367.5,290.5 L368.0,282.6 L368.5,275.2 L369.0,268.2 L369.5,261.3 L370.0,254.2 L370.5,247.3 L371.0,240.8 L371.5,235.1 L372.0,230.5 L372.5,227.2 L373.0,225.5 L373.5,224.4 L374.0,223.4 L374.5,222.5 L375.0,221.7 L375.5,221.1 L376.0,220.5 L376.5,220.1 L377.0,219.8 L377.5,219.7 L378.0,220.0 L378.5,221.5 L379.0,224.2 L379.5,227.7 L380.0,231.9 L380.5,236.5 L381.0,241.3 L381.5,245.9 L382.0,250.4 L382.5,255.1 L383.0,260.1 L383.5,265.4 L384.0,271.0 L384.5,277.1 L385.0,283.5 L385.5,290.2 L386.0,297.4 L386.5,305.1 L387.0,314.1 L387.5,324.5 L388.0,335.7 L388.5,347.3 L389.0,358.7 L389.5,369.4 L390.0,379.3 L390.5,388.9 L391.0,398.4 L391.5,407.8 L392.0,417.0 L392.5,426.0 L393.0,434.8 L393.5,443.5 L394.0,452.0 L394.5,460.4 L395.0,468.6 L395.5,476.7 L396.0,484.7 L396.5,492.5 L397.0,500.1 L397.5,507.5 L398.0,514.8 L398.5,522.0 L399.0,529.1 L399.5,536.0 L400.0,542.7 L400.5,549.3 L401.0,555.6 L401.5,561.7 L402.0,567.5 L402.5,573.0 L403.0,578.2 L403.5,583.3 L404.0,588.4 L404.5,593.4 L405.0,598.5 L405.5,603.7 L406.0,609.2 L406.5,615.1 L407.0,621.0 L407.5,626.8 L408.0,632.2 L408.5,637.1 L409.0,641.4 L409.5,645.2 L410.0,648.7 L410.5,652.1 L411.0,655.3 L411.5,658.5 L412.0,661.8 L412.5,665.3 L413.0,669.0 L413.5,673.0 L414.0,677.3 L414.5,681.8 L415.0,686.3 L415.5,690.8 L416.0,695.2 L416.5,699.5 L417.0,703.5 L417.5,707.2 L418.0,710.7 L418.5,714.0 L419.0,717.2 L419.5,720.4 L420.0,723.6 L420.5,726.9 L421.0,730.4 L421.5,734.1 L422.0,738.0 L422.5,742.3 L423.0,746.9 L423.5,751.7 L424.0,756.8 L424.5,761.9 L425.0,767.2 L425.5,772.5 L426.0,778.1 L426.5,784.1 L427.0,790.3 L427.5,796.3 L428.0,801.9 L428.5,806.8 L429.0,811.0 L429.5,814.7 L430.0,818.1 L430.5,821.3 L431.0,824.3 L431.5,827.2 L432.0,830.2 L432.5,833.2 L433.0,836.5 L433.5,840.0 L434.0,843.8 L434.5,847.8 L435.0,851.9 L435.5,856.2 L436.0,860.6 L436.5,865.0 L437.0,869.4 L437.5,873.9 L438.0,878.6 L438.5,883.5 L439.0,888.4 L439.5,893.2 L440.0,897.7 L440.5,901.6 L441.0,905.1 L441.5,908.3 L442.0,911.3 L442.5,914.2 L443.0,917.0 L443.5,919.7 L444.0,922.3 L444.5,925.0 L445.0,927.7 L445.5,930.5 L446.0,933.2 L446.5,935.9 L447.0,938.6 L447.5,941.2 L448.0,943.8 L448.5,946.3 L449.0,948.8 L449.5,951.3 L450.0,953.9 L450.5,956.5 L451.0,959.1 L451.5,961.7 L452.0,964.2 L452.5,966.6 L453.0,968.7 L453.5,970.6 L454.0,972.2 L454.5,973.5 L455.0,974.5 L455.5,975.3 L456.0,976.1 L456.5,976.9 L457.0,977.5 L457.5,978.1 L458.0,978.7 L458.5,979.2 L459.0,979.7 L459.5,980.2 L460.0,980.7 L460.5,981.2 L461.0,981.8 L461.5,982.3 L462.0,982.9 L462.5,983.6 L463.0,984.3 L463.5,985.1 L464.0,986.0 L464.5,986.9 L465.0,987.8 L465.5,988.7 L466.0,989.6 L466.5,990.5 L467.0,991.3 L467.5,992.1 L468.0,992.7 L468.5,993.2 L469.0,993.7 L469.5,993.9 L470.0,994.0 L470.5,993.9 L471.0,993.6 L471.5,993.2 L472.0,992.6 L472.5,991.8 L473.0,990.9 L473.5,989.8 L474.0,988.7 L474.5,987.4 L475.0,986.0 L475.5,983.8 L476.0,980.2 L476.5,975.5 L477.0,970.0 L477.5,963.9 L478.0,957.6 L478.5,951.3 L479.0,944.1 L479.5,935.9 L480.0,927.0 L480.5,917.9 L481.0,909.1 L481.5,900.9 L482.0,893.4 L482.5,886.2 L483.0,879.3 L483.5,872.5 L484.0,865.7 L484.5,859.0 L485.0,852.1 L485.5,845.0 L486.0,837.6 L486.5,830.0 L487.0,822.2 L487.5,814.4 L488.0,806.3 L488.5,798.1 L489.0,789.8 L489.5,781.2 L490.0,772.5 L490.5,763.1 L491.0,753.1 L491.5,742.7 L492.0,732.6 L492.5,723.2 L493.0,715.0 L493.5,707.8 L494.0,701.3 L494.5,695.2 L495.0,689.4 L495.5,683.8 L496.0,678.3 L496.5,672.8 L497.0,667.2 L497.5,661.2 L498.0,655.2 L498.5,649.3 L499.0,643.5 L499.5,637.6 L500.0,631.5 L500.5,625.0 L501.0,617.9 L501.5,610.0 L502.0,599.9 L502.5,587.8 L503.0,576.2 L503.5,567.4 L504.0,560.5 L504.5,554.4 L505.0,548.8 L505.5,543.7 L506.0,538.9 L506.5,534.4 L507.0,530.0 L507.5,525.6 L508.0,521.1 L508.5,516.4 L509.0,511.4 L509.5,505.9 L510.0,500.1 L510.5,494.2 L511.0,488.1 L511.5,481.9 L512.0,475.7 L512.5,469.3 L513.0,462.9 L513.5,456.4 L514.0,449.8 L514.5,443.2 L515.0,436.4 L515.5,429.3 L516.0,422.0 L516.5,414.6 L517.0,407.4 L517.5,400.3 L518.0,393.6 L518.5,387.3 L519.0,381.2 L519.5,374.9 L520.0,368.7 L520.5,362.7 L521.0,357.2 L521.5,352.3 L522.0,348.3 L522.5,345.4 L523.0,343.1 L523.5,340.9 L524.0,338.7 L524.5,336.7 L525.0,334.8 L525.5,333.0 L526.0,331.3 L526.5,329.8 L527.0,328.5 L527.5,327.3 L528.0,326.3 L528.5,325.6 L529.0,325.0 L529.5,324.6 L530.0,324.5 L530.5,324.8 L531.0,325.8 L531.5,327.4 L532.0,329.4 L532.5,331.8 L533.0,334.6 L533.5,337.6 L534.0,340.8 L534.5,344.1 L535.0,347.4 L535.5,350.7 L536.0,354.4 L536.5,358.6 L537.0,363.1 L537.5,368.1 L538.0,373.5 L538.5,379.3 L539.0,385.5 L539.5,392.1 L540.0,400.6 L540.5,410.4 L541.0,420.5 L541.5,429.7 L542.0,437.2 L542.5,443.1 L543.0,448.3 L543.5,453.1 L544.0,457.5 L544.5,461.6 L545.0,465.6 L545.5,469.5 L546.0,473.6 L546.5,477.7 L547.0,482.2 L547.5,487.1 L548.0,492.5 L548.5,498.1 L549.0,503.9 L549.5,509.7 L550.0,515.3 L550.5,520.5 L551.0,525.3 L551.5,529.3 L552.0,532.7 L552.5,535.7 L553.0,538.8 L553.5,542.4 L554.0,547.1 L554.5,553.5 L555.0,560.7 L555.5,567.0 L556.0,572.1 L556.5,576.8 L557.0,581.1 L557.5,585.3 L558.0,589.5 L558.5,593.9 L559.0,598.3 L559.5,602.7 L560.0,607.2 L560.5,611.6 L561.0,616.0 L561.5,620.4 L562.0,624.8 L562.5,629.1 L563.0,633.5 L563.5,637.7 L564.0,642.0 L564.5,646.2 L565.0,650.4 L565.5,654.5 L566.0,658.6 L566.5,662.7 L567.0,666.8 L567.5,670.8 L568.0,674.7 L568.5,678.5 L569.0,682.2 L569.5,685.7 L570.0,689.0 L570.5,692.2 L571.0,695.3 L571.5,698.3 L572.0,701.3 L572.5,704.2 L573.0,707.1 L573.5,710.1 L574.0,713.1 L574.5,716.3 L575.0,719.6 L575.5,722.8 L576.0,726.1 L576.5,729.4 L577.0,732.7 L577.5,736.1 L578.0,739.6 L578.5,743.3 L579.0,747.2 L579.5,751.3 L580.0,755.7 L580.5,760.6 L581.0,765.9 L581.5,771.5 L582.0,777.5 L582.5,783.7 L583.0,790.0 L583.5,797.0 L584.0,804.5 L584.5,812.1 L585.0,819.3 L585.5,825.6 L586.0,831.1 L586.5,836.3 L587.0,841.2 L587.5,845.9 L588.0,850.3 L588.5,854.5 L589.0,858.6 L589.5,862.5 L590.0,866.2 L590.5,869.8 L591.0,873.1 L591.5,876.3 L592.0,879.4 L592.5,882.5 L593.0,885.6 L593.5,888.6 L594.0,891.8 L594.5,895.1 L595.0,898.5 L595.5,902.1 L596.0,905.7 L596.5,909.4 L597.0,913.2 L597.5,917.0 L598.0,920.9 L598.5,924.8 L599.0,928.7 L599.5,932.6 L600.0,936.8 L600.5,941.3 L601.0,945.8 L601.5,950.1 L602.0,954.1 L602.5,957.6 L603.0,960.3 L603.5,962.7 L604.0,964.7 L604.5,966.6 L605.0,968.2 L605.5,969.9 L606.0,971.5 L606.5,973.3 L607.0,975.3 L607.5,977.5 L608.0,980.1 L608.5,983.1 L609.0,986.4 L609.5,989.9 L610.0,993.4 L610.5,996.8 L611.0,1000.0 L611.5,1003.1 L612.0,1006.0 L612.5,1009.0 L613.0,1011.9 L613.5,1014.8 L614.0,1017.7 L614.5,1020.6 L615.0,1023.6 L615.5,1026.7 L616.0,1029.9 L616.5,1033.2 L617.0,1036.5 L617.5,1039.7 L618.0,1042.8 L618.5,1045.5 L619.0,1047.9 L619.5,1050.1 L620.0,1052.1 L620.5,1054.1 L621.0,1056.0 L621.5,1058.0 L622.0,1060.1 L622.5,1062.2 L623.0,1064.3 L623.5,1066.4 L624.0,1068.5 L624.5,1070.5 L625.0,1072.5 L625.5,1074.5 L626.0,1076.3 L626.5,1078.0 L627.0,1079.9 L627.5,1081.9 L628.0,1083.8 L628.5,1085.6 L629.0,1087.0 L629.5,1088.1 L630.0,1088.5 L630.5,1088.6 L631.0,1088.7 L631.5,1088.8 L632.0,1088.9 L632.5,1089.0 L633.0,1089.0 L633.5,1089.1 L634.0,1089.2 L634.5,1089.2 L635.0,1089.3 L635.5,1089.3 L636.0,1089.4 L636.5,1089.4 L637.0,1089.4 L637.5,1089.5 L638.0,1089.5 L638.5,1089.5 L639.0,1089.5 L639.5,1089.5 L640.0,1089.5 L640.5,1089.5 L641.0,1089.5 L641.5,1089.5 L642.0,1089.5 L642.5,1089.5 L643.0,1089.5 L643.5,1089.5 L644.0,1089.5 L644.5,1089.5 L645.0,1089.5 L645.5,1089.5 L646.0,1089.5 L646.5,1089.5 L647.0,1089.5 L647.5,1089.5 L648.0,1089.5 L648.5,1089.5 L649.0,1089.5 L649.5,1089.5 L650.0,1089.5 L650.5,1089.5 L651.0,1089.5 L651.5,1089.5 L652.0,1089.5 L652.5,1089.5 L653.0,1089.5 L653.5,1089.5 L654.0,1089.5 L654.5,1089.5 L655.0,1089.5 L655.5,1089.5 L656.0,1089.5 L656.5,1089.5 L657.0,1089.5 L657.5,1089.5 L658.0,1089.5 L658.5,1089.5 L659.0,1089.5 L659.5,1089.5 L660.0,1089.5 L660.5,1089.5 L661.0,1089.5 L661.5,1089.5 L662.0,1089.5 L662.5,1089.5 L663.0,1089.5 L663.5,1089.5 L664.0,1089.5 L664.5,1089.5 L665.0,1089.5 L665.5,1089.5 L666.0,1089.5 L666.5,1089.5 L667.0,1089.5 L667.5,1089.5 L668.0,1089.5 L668.5,1089.5 L669.0,1089.5 L669.5,1089.5 L670.0,1089.5 L670.5,1089.5 L671.0,1089.5 L671.5,1089.5 L672.0,1089.5 L672.5,1089.5 L673.0,1089.5 L673.5,1089.5 L674.0,1089.5 L674.5,1089.5 L675.0,1089.5 L675.5,1089.5 L676.0,1089.5 L676.5,1089.5 L677.0,1089.5 L677.5,1089.5 L678.0,1089.5 L678.5,1089.5 L679.0,1089.5 L679.5,1089.5 L680.0,1089.5 L680.5,1089.5 L681.0,1089.5 L681.5,1089.5 L682.0,1089.5 L682.5,1089.5 L683.0,1089.5 L683.5,1089.5 L684.0,1089.5 L684.5,1089.5 L685.0,1089.5 L685.5,1089.5 L686.0,1089.5 L686.5,1089.5 L687.0,1089.5 L687.5,1089.5 L688.0,1089.5 L688.5,1089.5 L689.0,1089.5 L689.5,1089.5 L690.0,1089.5 L690.5,1089.5 L691.0,1089.5 L691.5,1089.5 L692.0,1089.5 L692.5,1089.5 L693.0,1089.5 L693.5,1089.5 L694.0,1089.5 L694.5,1089.5 L695.0,1089.5 L695.5,1089.5 L696.0,1089.5 L696.5,1089.5 L697.0,1089.5 L697.5,1089.5 L698.0,1089.5 L698.5,1089.5 L699.0,1089.5 L699.5,1089.5 L700.0,1089.5 L700.5,1089.5 L701.0,1089.5 L701.5,1089.5 L702.0,1089.5 L702.5,1089.5 L703.0,1089.5 L703.5,1089.5 L704.0,1089.5 L704.5,1089.5 L705.0,1089.5 L705.5,1089.5 L706.0,1089.5 L706.5,1089.5 L707.0,1089.5 L707.5,1089.5 L708.0,1089.5 L708.5,1089.5 L709.0,1089.5 L709.5,1089.5 L710.0,1089.5 L710.5,1089.5 L711.0,1089.5 L711.5,1089.5 L712.0,1089.5 L712.5,1089.5 L713.0,1089.5 L713.5,1089.5 L714.0,1089.5 L714.5,1089.5 L715.0,1089.5 L715.5,1089.5 L716.0,1089.5 L716.5,1089.5 L717.0,1089.5 L717.5,1089.5 L718.0,1089.5 L718.5,1089.5 L719.0,1089.5 L719.5,1089.5 L720.0,1089.5 L720.5,1089.5 L721.0,1089.5 L721.5,1089.5 L722.0,1089.5 L722.5,1089.5 L723.0,1089.5 L723.5,1089.5 L724.0,1089.5 L724.5,1089.5 L725.0,1089.5 L725.5,1089.5 L726.0,1089.5 L726.5,1089.5 L727.0,1089.5 L727.5,1089.5 L728.0,1089.5 L728.5,1089.5 L729.0,1089.5 L729.5,1089.5 L730.0,1089.5 L730.5,1089.5 L731.0,1089.5 L731.5,1089.5 L732.0,1089.5 L732.5,1089.5 L733.0,1089.5 L733.5,1089.5 L734.0,1089.5 L734.5,1089.5 L735.0,1089.5 L735.5,1089.5 L736.0,1089.5 L736.5,1089.5 L737.0,1089.5 L737.5,1089.5 L738.0,1089.5 L738.5,1089.5 L739.0,1089.5 L739.5,1089.5 L740.0,1089.5 L740.5,1089.5 L741.0,1089.5 L741.5,1089.5 L742.0,1089.5 L742.5,1089.5 L743.0,1089.5 L743.5,1089.5 L744.0,1089.5 L744.5,1089.5 L745.0,1089.5 L745.5,1089.5 L746.0,1089.5 L746.5,1089.5 L747.0,1089.5 L747.5,1089.5 L748.0,1089.5 L748.5,1089.5 L749.0,1089.5 L749.5,1089.5 L750.0,1089.5 L750.5,1089.5 L751.0,1089.5 L751.5,1089.5 L752.0,1089.5 L752.5,1089.5 L753.0,1089.5 L753.5,1089.5 L754.0,1089.5 L754.5,1089.5 L755.0,1089.5 L755.5,1089.5 L756.0,1089.5 L756.5,1089.5 L757.0,1089.5 L757.5,1089.5 L758.0,1089.5 L758.5,1089.5 L759.0,1089.5 L759.5,1089.5 L760.0,1089.5 L760.5,1089.5 L761.0,1089.5 L761.5,1089.5 L762.0,1089.5 L762.5,1089.5 L763.0,1089.5 L763.5,1089.5 L764.0,1089.5 L764.5,1089.5 L765.0,1089.5 L765.5,1089.5 L766.0,1089.5 L766.5,1089.5 L767.0,1089.5 L767.5,1089.5 L768.0,1089.5 L768.5,1089.5 L769.0,1089.5 L769.5,1089.5 L770.0,1089.5 L770.5,1089.5 L771.0,1089.5 L771.5,1089.5 L772.0,1089.5 L772.5,1089.5 L773.0,1089.5 L773.5,1089.5 L774.0,1089.5 L774.5,1089.5 L775.0,1089.5 L775.5,1089.5 L776.0,1089.5 L776.5,1089.5 L777.0,1089.5 L777.5,1089.5 L778.0,1089.5 L778.5,1089.5 L779.0,1089.5 L779.5,1089.5 L780.0,1089.5 L780.5,1089.5 L781.0,1089.5 L781.5,1089.5 L782.0,1089.5 L782.5,1089.5 L783.0,1089.5 L783.5,1089.5 L784.0,1089.5 L784.5,1089.5 L785.0,1089.5 L785.5,1089.5 L786.0,1089.5 L786.5,1089.5 L787.0,1089.5 L787.5,1089.5 L788.0,1089.5 L788.5,1089.5 L789.0,1089.5 L789.5,1089.5 L790.0,1089.5 L790.5,1089.5 L791.0,1089.5 L791.5,1089.5 L792.0,1089.5 L792.5,1089.5 L793.0,1089.5 L793.5,1089.5 L794.0,1089.5 L794.5,1089.5 L795.0,1089.5 L795.5,1089.5 L796.0,1089.5 L796.5,1089.5 L797.0,1089.5 L797.5,1089.5 L798.0,1089.5 L798.5,1089.5 L799.0,1089.5 L799.5,1089.5 L800.0,1089.5 L800.5,1089.5 L801.0,1089.5 L801.5,1089.5 L802.0,1089.5 L802.5,1089.5 L803.0,1089.5 L803.5,1089.5 L804.0,1089.5 L804.5,1089.5 L805.0,1089.5 L805.5,1089.5 L806.0,1089.5 L806.5,1089.5 L807.0,1089.5 L807.5,1089.5 L808.0,1089.5 L808.5,1089.5 L809.0,1089.5 L809.5,1089.5 L810.0,1089.5 L810.5,1089.5 L811.0,1089.5 L811.5,1089.5 L812.0,1089.5 L812.5,1089.5 L813.0,1089.5 L813.5,1089.5 L814.0,1089.5 L814.5,1089.5 L815.0,1089.5 L815.5,1089.5 L816.0,1089.5 L816.5,1089.5 L817.0,1089.5 L817.5,1089.5 L818.0,1089.5 L818.5,1089.5 L819.0,1089.5 L819.5,1089.5 L820.0,1089.5 L820.5,1089.5 L821.0,1089.5 L821.5,1089.5 L822.0,1089.5 L822.5,1089.5 L823.0,1089.5 L823.5,1089.5 L824.0,1089.5 L824.5,1089.5 L825.0,1089.5 L825.5,1089.5 L826.0,1089.5 L826.5,1089.5 L827.0,1089.5 L827.5,1089.5 L828.0,1089.5 L828.5,1089.5 L829.0,1089.5 L829.5,1089.5 L830.0,1089.5 L830.5,1089.5 L831.0,1089.5 L831.5,1089.5 L832.0,1089.5 L832.5,1089.5 L833.0,1089.5 L833.5,1089.5 L834.0,1089.5 L834.5,1089.5 L835.0,1089.5 L835.5,1089.5 L836.0,1089.5 L836.5,1089.5 L837.0,1089.5 L837.5,1089.5 L838.0,1089.5 L838.5,1089.5 L839.0,1089.5 L839.5,1089.5 L840.0,1089.5 L840.5,1089.5 L841.0,1089.5 L841.5,1089.5 L842.0,1089.5 L842.5,1089.5 L843.0,1089.5 L843.5,1089.5 L844.0,1089.5 L844.5,1089.5 L845.0,1089.5 L845.5,1089.5 L846.0,1089.5 L846.5,1089.5 L847.0,1089.5 L847.5,1089.5 L848.0,1089.5 L848.5,1089.5 L849.0,1089.5 L849.5,1089.5 L850.0,1089.5 L850.5,1089.5 L851.0,1089.5 L851.5,1089.5 L852.0,1089.5 L852.5,1089.5 L853.0,1089.5 L853.5,1089.5 L854.0,1089.5 L854.5,1089.5 L855.0,1089.5 L855.5,1089.5 L856.0,1089.5 L856.5,1089.5 L857.0,1089.5 L857.5,1089.5 L858.0,1089.5 L858.5,1089.5 L859.0,1089.5 L859.5,1089.5 L860.0,1089.5 L860.5,1089.5 L861.0,1089.5 L861.5,1089.5 L862.0,1089.5 L862.5,1089.5 L863.0,1089.5 L863.5,1089.5 L864.0,1089.5 L864.5,1089.5 L865.0,1089.5 L865.5,1089.5 L866.0,1089.5 L866.5,1089.5 L867.0,1089.5 L867.5,1089.5 L868.0,1089.5 L868.5,1089.5 L869.0,1089.5 L869.5,1089.5 L870.0,1089.5 L870.5,1089.5 L871.0,1089.5 L871.5,1089.5 L872.0,1089.5 L872.5,1089.5 L873.0,1089.5 L873.5,1089.5 L874.0,1089.5 L874.5,1089.5 L875.0,1089.5 L875.5,1089.5 L876.0,1089.5 L876.5,1089.5 L877.0,1089.5 L877.5,1089.5 L878.0,1089.5 L878.5,1089.5 L879.0,1089.5 L879.5,1089.5 L880.0,1089.5 L880.5,1089.5 L881.0,1089.5 L881.5,1089.5 L882.0,1089.5 L882.5,1089.5 L883.0,1089.5 L883.5,1089.5 L884.0,1089.5 L884.5,1089.5 L885.0,1089.5 L885.5,1089.5 L886.0,1089.5 L886.5,1089.5 L887.0,1089.5 L887.5,1089.5 L888.0,1089.5 L888.5,1089.5 L889.0,1089.5 L889.5,1089.5 L890.0,1089.5 L890.5,1089.5 L891.0,1089.5 L891.5,1089.5 L892.0,1089.5 L892.5,1089.5 L893.0,1089.5 L893.5,1089.5 L894.0,1089.5 L894.5,1089.5 L895.0,1089.5 L895.5,1089.5 L896.0,1089.5 L896.5,1089.5 L897.0,1089.5 L897.5,1089.5 L898.0,1089.5 L898.5,1089.5 L899.0,1089.5 L899.5,1089.5 L900.0,1089.5 L900.5,1089.5 L901.0,1089.5 L901.5,1089.5 L902.0,1089.5 L902.5,1089.5 L903.0,1089.5 L903.5,1089.5 L904.0,1089.5 L904.5,1089.5 L905.0,1089.5 L905.5,1089.5 L906.0,1089.5 L906.5,1089.5 L907.0,1089.5 L907.5,1089.5 L908.0,1089.5 L908.5,1089.5 L909.0,1089.5 L909.5,1089.5 L910.0,1089.5 L910.5,1089.5 L911.0,1089.5 L911.5,1089.5 L912.0,1089.5 L912.5,1089.5 L913.0,1089.5 L913.5,1089.5 L914.0,1089.5 L914.5,1089.5 L915.0,1089.5 L915.5,1089.5 L916.0,1089.5 L916.5,1089.5 L917.0,1089.5 L917.5,1089.5 L918.0,1089.5 L918.5,1089.5 L919.0,1089.5 L919.5,1089.5 L920.0,1089.5 L920.5,1089.5 L921.0,1089.5 L921.5,1089.5 L922.0,1089.5 L922.5,1089.5 L923.0,1089.5 L923.5,1089.5 L924.0,1089.5 L924.5,1089.5 L925.0,1089.5 L925.5,1089.5 L926.0,1089.5 L926.5,1089.5 L927.0,1089.5 L927.5,1089.5 L928.0,1089.5 L928.5,1089.5 L929.0,1089.5 L929.5,1089.5 L930.0,1089.5 L930.5,1089.5 L931.0,1089.5 L931.5,1089.5 L932.0,1089.5 L932.5,1089.5 L933.0,1089.5 L933.5,1089.5 L934.0,1089.5 L934.5,1089.5 L935.0,1089.5 L935.5,1089.5 L936.0,1089.5 L936.5,1089.5 L937.0,1089.5 L937.5,1089.5 L938.0,1089.5 L938.5,1089.5 L939.0,1089.5 L939.5,1089.5 L940.0,1089.5 L940.5,1089.5 L941.0,1089.5 L941.5,1089.5 L942.0,1089.5 L942.5,1089.5 L943.0,1089.5 L943.5,1089.5 L944.0,1089.5 L944.5,1089.5 L945.0,1089.5 L945.5,1089.5 L946.0,1089.5 L946.5,1089.5 L947.0,1089.5 L947.5,1089.5 L948.0,1089.5 L948.5,1089.5 L949.0,1089.5 L949.5,1089.5 L950.0,1089.5 L950.5,1089.5 L951.0,1089.5 L951.5,1089.5 L952.0,1089.5 L952.5,1089.5 L953.0,1089.5 L953.5,1089.5 L954.0,1089.5 L954.5,1089.5 L955.0,1089.5 L955.5,1089.5 L956.0,1089.5 L956.5,1089.5 L957.0,1089.5 L957.5,1089.5 L958.0,1089.5 L958.5,1089.5 L959.0,1089.5 L959.5,1089.5 L960.0,1089.5 L960.5,1089.5 L961.0,1089.5 L961.5,1089.5 L962.0,1089.5 L962.5,1089.5 L963.0,1089.5 L963.5,1089.5 L964.0,1089.5 L964.5,1089.5 L965.0,1089.5 L965.5,1089.5 L966.0,1089.5 L966.5,1089.5 L967.0,1089.5 L967.5,1089.5 L968.0,1089.5 L968.5,1089.5 L969.0,1089.5 L969.5,1089.5 L970.0,1089.5 L970.5,1089.5 L971.0,1089.5 L971.5,1089.5 L972.0,1089.5 L972.5,1089.5 L973.0,1089.5 L973.5,1089.5 L974.0,1089.5 L974.5,1089.5 L975.0,1089.5 L975.5,1089.5 L976.0,1089.5 L976.5,1089.5 L977.0,1089.5 L977.5,1089.5 L978.0,1089.5 L978.5,1089.5 L979.0,1089.5 L979.5,1089.5 L980.0,1089.5 L980.5,1089.5 L981.0,1089.5 L981.5,1089.5 L982.0,1089.5 L982.5,1089.5 L983.0,1089.5 L983.5,1089.5 L984.0,1089.5 L984.5,1089.5 L985.0,1089.5 L985.5,1089.5 L986.0,1089.5 L986.5,1089.5 L987.0,1089.5 L987.5,1089.5 L988.0,1089.5 L988.5,1089.5 L989.0,1089.5 L989.5,1089.5 L990.0,1089.5 L990.5,1089.5 L991.0,1089.5 L991.5,1089.5 L992.0,1089.5 L992.5,1089.5 L993.0,1089.5 L993.5,1089.5 L994.0,1089.5 L994.5,1089.5 L995.0,1089.5 L995.5,1089.5 L996.0,1089.5 L996.5,1089.5 L997.0,1089.5 L997.5,1089.5 L998.0,1089.5 L998.5,1089.5 L999.0,1089.5 L999.5,1089.5 L1000.0,1089.5 L1000.5,1089.5 L1001.0,1089.5 L1001.5,1089.5 L1002.0,1089.5 L1002.5,1089.5 L1003.0,1089.5 L1003.5,1089.5 L1004.0,1089.5 L1004.5,1089.5 L1005.0,1089.5 L1005.5,1089.5 L1006.0,1089.5 L1006.5,1089.5 L1007.0,1089.5 L1007.5,1089.5 L1008.0,1089.5 L1008.5,1089.5 L1009.0,1089.5 L1009.5,1089.5 L1010.0,1089.5 L1010.5,1089.5 L1011.0,1089.5 L1011.5,1089.5 L1012.0,1089.5 L1012.5,1089.5 L1013.0,1089.5 L1013.5,1089.5 L1014.0,1089.5 L1014.5,1089.5 L1015.0,1089.5 L1015.5,1089.5 L1016.0,1089.5 L1016.5,1089.5 L1017.0,1089.5 L1017.5,1089.5 L1018.0,1089.5 L1018.5,1089.5 L1019.0,1089.5 L1019.5,1089.5 L1020.0,1089.5 L1020.5,1089.5 L1021.0,1089.5 L1021.5,1089.5 L1022.0,1089.5 L1022.5,1089.5 L1023.0,1089.5 L1023.5,1089.5 L1024.0,1089.5 L1024.5,1089.5 L1025.0,1089.5 L1025.5,1089.5 L1026.0,1089.5 L1026.5,1089.5 L1027.0,1089.5 L1027.5,1089.5 L1028.0,1089.5 L1028.5,1089.5 L1029.0,1089.5 L1029.5,1089.5 L1030.0,1089.5 L1030.5,1089.5 L1031.0,1089.5 L1031.5,1089.5 L1032.0,1089.5 L1032.5,1089.5 L1033.0,1089.5 L1033.5,1089.5 L1034.0,1089.5 L1034.5,1089.5 L1035.0,1089.5 L1035.5,1089.5 L1036.0,1089.5 L1036.5,1089.5 L1037.0,1089.5 L1037.5,1089.5 L1038.0,1089.5 L1038.5,1089.5 L1039.0,1089.5 L1039.5,1089.5 L1040.0,1089.5 L1040.5,1089.5 L1041.0,1089.5 L1041.5,1089.5 L1042.0,1089.5 L1042.5,1089.5 L1043.0,1089.5 L1043.5,1089.5 L1044.0,1089.5 L1044.5,1089.5 L1045.0,1089.5 L1045.5,1089.5 L1046.0,1089.5 L1046.5,1089.5 L1047.0,1089.5 L1047.5,1089.5 L1048.0,1089.5 L1048.5,1089.5 L1049.0,1089.5 L1049.5,1089.5 L1050.0,1089.5 L1050.5,1089.5 L1051.0,1089.5 L1051.5,1089.5 L1052.0,1089.5 L1052.5,1089.5 L1053.0,1089.5 L1053.5,1089.5 L1054.0,1089.5 L1054.5,1089.5 L1055.0,1089.5 L1055.5,1089.5 L1056.0,1089.5 L1056.5,1089.5 L1057.0,1089.5 L1057.5,1089.5 L1058.0,1089.5 L1058.5,1089.5 L1059.0,1089.5 L1059.5,1089.5 L1060.0,1089.5 L1060.5,1089.5 L1061.0,1089.5 L1061.5,1089.5 L1062.0,1089.5 L1062.5,1089.5 L1063.0,1089.5 L1063.5,1089.5 L1064.0,1089.5 L1064.5,1089.5 L1065.0,1089.5 L1065.5,1089.5 L1066.0,1089.5 L1066.5,1089.5 L1067.0,1089.5 L1067.5,1089.5 L1068.0,1089.5 L1068.5,1089.5 L1069.0,1089.5 L1069.5,1089.5 L1070.0,1089.5 L1070.5,1089.5 L1071.0,1089.5 L1071.5,1089.5 L1072.0,1089.5 L1072.5,1089.5 L1073.0,1089.5 L1073.5,1089.5 L1074.0,1089.5 L1074.5,1089.5 L1075.0,1089.5 L1075.5,1089.5 L1076.0,1089.5 L1076.5,1089.5 L1077.0,1089.5 L1077.5,1089.5 L1078.0,1089.5 L1078.5,1089.5 L1079.0,1089.5 L1079.5,1089.5 L1080.0,1089.5 L1080.5,1089.5 L1081.0,1089.5 L1081.5,1089.5 L1082.0,1089.5 L1082.5,1089.5 L1083.0,1089.5 L1083.5,1089.5 L1084.0,1089.5 L1084.5,1089.5 L1085.0,1089.5 L1085.5,1089.5 L1086.0,1089.5 L1086.5,1089.5 L1087.0,1089.5 L1087.5,1089.5 L1088.0,1089.5 L1088.5,1089.5 L1089.0,1089.5 L1089.5,1089.5 L1090.0,1089.5 L1090.5,1089.5 L1091.0,1089.5 L1091.5,1089.5 L1092.0,1089.5 L1092.5,1089.5 L1093.0,1089.5 L1093.5,1089.5 L1094.0,1089.5 L1094.5,1089.5 L1095.0,1089.5 L1095.5,1089.5 L1096.0,1089.5 L1096.5,1089.5 L1097.0,1089.5 L1097.5,1089.5 L1098.0,1089.5 L1098.5,1089.5 L1099.0,1089.5 L1099.5,1089.5 L1100.0,1089.5 L1100.5,1089.5 L1101.0,1089.5 L1101.5,1089.5 L1102.0,1089.5 L1102.5,1089.5 L1103.0,1089.5 L1103.5,1089.5 L1104.0,1089.5 L1104.5,1089.5 L1105.0,1089.5 L1105.5,1089.5 L1106.0,1089.5 L1106.5,1089.5 L1107.0,1089.5 L1107.5,1089.5 L1108.0,1089.5 L1108.5,1089.5 L1109.0,1089.5 L1109.5,1089.5 L1110.0,1089.5 L1110.5,1089.5 L1111.0,1089.5 L1111.5,1089.5 L1112.0,1089.5 L1112.5,1089.5 L1113.0,1089.5 L1113.5,1089.5 L1114.0,1089.5 L1114.5,1089.5 L1115.0,1089.5 L1115.5,1089.5 L1116.0,1089.5 L1116.5,1089.5 L1117.0,1089.5 L1117.5,1089.5 L1118.0,1089.5 L1118.5,1089.5 L1119.0,1089.5 L1119.5,1089.5 L1120.0,1089.5 L1120.5,1089.5 L1121.0,1089.5 L1121.5,1089.5 L1122.0,1089.5 L1122.5,1089.5 L1123.0,1089.5 L1123.5,1089.5 L1124.0,1089.5 L1124.5,1089.5 L1125.0,1089.5 L1125.5,1089.5 L1126.0,1089.5 L1126.5,1089.5 L1127.0,1089.5 L1127.5,1089.5 L1128.0,1089.5 L1128.5,1089.5 L1129.0,1089.5 L1129.5,1089.5 L1130.0,1089.5 L1130.5,1089.5 L1131.0,1089.5 L1131.5,1089.5 L1132.0,1089.5 L1132.5,1089.5 L1133.0,1089.5 L1133.5,1089.5 L1134.0,1089.5 L1134.5,1089.5 L1135.0,1089.5 L1135.5,1089.5 L1136.0,1089.5 L1136.5,1089.5 L1137.0,1089.5 L1137.5,1089.5 L1138.0,1089.5 L1138.5,1089.5 L1139.0,1089.5 L1139.5,1089.5 L1140.0,1089.5 L1140.5,1089.5 L1141.0,1089.5 L1141.5,1089.5 L1142.0,1089.5 L1142.5,1089.5 L1143.0,1089.5 L1143.5,1089.5 L1144.0,1089.5 L1144.5,1089.5 L1145.0,1089.5 L1145.5,1089.5 L1146.0,1089.5 L1146.5,1089.5 L1147.0,1089.5 L1147.5,1089.5 L1148.0,1089.5 L1148.5,1089.5 L1149.0,1089.5 L1149.5,1089.5 L1150.0,1089.5 L1150.5,1089.5 L1151.0,1089.5 L1151.5,1089.5 L1152.0,1089.5 L1152.5,1089.5 L1153.0,1089.5 L1153.5,1089.5 L1154.0,1089.5 L1154.5,1089.5 L1155.0,1089.5 L1155.5,1089.5 L1156.0,1089.5 L1156.5,1089.5 L1157.0,1089.5 L1157.5,1089.5 L1158.0,1089.5 L1158.5,1089.5 L1159.0,1089.5 L1159.5,1089.5 L1160.0,1089.5 L1160.5,1089.5 L1161.0,1089.5 L1161.5,1089.5 L1162.0,1089.5 L1162.5,1089.5 L1163.0,1089.5 L1163.5,1089.5 L1164.0,1089.5 L1164.5,1089.5 L1165.0,1089.5 L1165.5,1089.5 L1166.0,1089.5 L1166.5,1089.5 L1167.0,1089.5 L1167.5,1089.5 L1168.0,1089.5 L1168.5,1089.5 L1169.0,1089.5 L1169.5,1089.5 L1170.0,1089.5 L1170.5,1089.5 L1171.0,1089.5 L1171.5,1089.5 L1172.0,1089.5 L1172.5,1089.5 L1173.0,1089.5 L1173.5,1089.5 L1174.0,1089.5 L1174.5,1089.5 L1175.0,1089.5 L1175.5,1089.5 L1176.0,1089.5 L1176.5,1089.5 L1177.0,1089.5 L1177.5,1089.5 L1178.0,1089.5 L1178.5,1089.5 L1179.0,1089.5 L1179.5,1089.5 L1180.0,1089.5 L1180.5,1089.5 L1181.0,1089.5 L1181.5,1089.5 L1182.0,1089.5 L1182.5,1089.5 L1183.0,1089.5 L1183.5,1089.5 L1184.0,1089.5 L1184.5,1089.5 L1185.0,1089.5 L1185.5,1089.5 L1186.0,1089.5 L1186.5,1089.5 L1187.0,1089.5 L1187.5,1089.5 L1188.0,1089.5 L1188.5,1089.5 L1189.0,1089.5 L1189.5,1089.5 L1190.0,1089.5 L1190.5,1089.5 L1191.0,1089.5 L1191.5,1089.5 L1192.0,1089.5 L1192.5,1089.5 L1193.0,1089.5 L1193.5,1089.5 L1194.0,1089.5 L1194.5,1089.5 L1195.0,1089.5 L1195.5,1089.5 L1196.0,1089.5 L1196.5,1089.5 L1197.0,1089.5 L1197.5,1089.5 L1198.0,1089.5 L1198.5,1089.5 L1199.0,1089.5 L1199.5,1089.5 L1200.0,1089.5 L1200.5,1089.5 L1201.0,1089.5 L1201.5,1089.5 L1202.0,1089.5 L1202.5,1089.5 L1203.0,1089.5 L1203.5,1089.5 L1204.0,1089.5 L1204.5,1089.5 L1205.0,1089.5 L1205.5,1089.5 L1206.0,1089.5 L1206.5,1089.5 L1207.0,1089.5 L1207.5,1089.5 L1208.0,1089.5 L1208.5,1089.5 L1209.0,1089.5 L1209.5,1089.5 L1210.0,1089.5 L1210.5,1089.5 L1211.0,1089.5 L1211.5,1089.5 L1212.0,1089.5 L1212.5,1089.5 L1213.0,1089.5 L1213.5,1089.5 L1214.0,1089.5 L1214.5,1089.5 L1215.0,1089.5 L1215.5,1089.5 L1216.0,1089.5 L1216.5,1089.5 L1217.0,1089.5 L1217.5,1089.5 L1218.0,1089.5 L1218.5,1089.5 L1219.0,1089.5 L1219.5,1089.5 L1220.0,1089.5 L1220.5,1089.5 L1221.0,1089.5 L1221.5,1089.5 L1222.0,1089.5 L1222.5,1089.5 L1223.0,1089.5 L1223.5,1089.5 L1224.0,1089.5 L1224.5,1089.5 L1225.0,1089.5 L1225.5,1089.5 L1226.0,1089.5 L1226.5,1089.5 L1227.0,1089.5 L1227.5,1089.5 L1228.0,1089.5 L1228.5,1089.5 L1229.0,1089.5 L1229.5,1089.5 L1230.0,1089.5 L1230.5,1089.5 L1231.0,1089.5 L1231.5,1089.5 L1232.0,1089.5 L1232.5,1089.5 L1233.0,1089.5 L1233.5,1089.5 L1234.0,1089.5 L1234.5,1089.5 L1235.0,1089.5 L1235.5,1089.5 L1236.0,1089.5 L1236.5,1089.5 L1237.0,1089.5 L1237.5,1089.5 L1238.0,1089.5 L1238.5,1089.5 L1239.0,1089.5 L1239.5,1089.5 L1240.0,1089.5 L1240.5,1089.5 L1241.0,1089.5 L1241.5,1089.5 L1242.0,1089.5 L1242.5,1089.5 L1243.0,1089.5 L1243.5,1089.5 L1244.0,1089.5 L1244.5,1089.5 L1245.0,1089.5 L1245.5,1089.5 L1246.0,1089.5 L1246.5,1089.5 L1247.0,1089.5 L1247.5,1089.5 L1248.0,1089.5 L1248.5,1089.5 L1249.0,1089.5 L1249.5,1089.5 L1250.0,1089.5 L1250.5,1089.5 L1251.0,1089.5 L1251.5,1089.5 L1252.0,1089.5 L1252.5,1089.5 L1253.0,1089.5 L1253.5,1089.5 L1254.0,1089.5 L1254.5,1089.5 L1255.0,1089.5 L1255.5,1089.5 L1256.0,1089.5 L1256.5,1089.5 L1257.0,1089.5 L1257.5,1089.5 L1258.0,1089.5 L1258.5,1089.5 L1259.0,1089.5 L1259.5,1089.5 L1260.0,1089.5 L1260.5,1089.5 L1261.0,1089.5 L1261.5,1089.5 L1262.0,1089.5 L1262.5,1089.5 L1263.0,1089.5 L1263.5,1089.5 L1264.0,1089.5 L1264.5,1089.5 L1265.0,1089.5 L1265.5,1089.5 L1266.0,1089.5 L1266.5,1089.5 L1267.0,1089.5 L1267.5,1089.5 L1268.0,1089.5 L1268.5,1089.5 L1269.0,1089.5 L1269.5,1089.5 L1270.0,1089.5 L1270.5,1089.5 L1271.0,1089.5 L1271.5,1089.5 L1272.0,1089.5 L1272.5,1089.5 L1273.0,1089.5 L1273.5,1089.5 L1274.0,1089.5 L1274.5,1089.5 L1275.0,1089.5 L1275.5,1089.5 L1276.0,1089.5 L1276.5,1089.5 L1277.0,1089.5 L1277.5,1089.5 L1278.0,1089.5 L1278.5,1089.5 L1279.0,1089.5 L1279.5,1089.5 L1280.0,1089.5 L1280.5,1089.5 L1281.0,1089.5 L1281.5,1089.5 L1282.0,1089.5 L1282.5,1089.5 L1283.0,1089.5 L1283.5,1089.5 L1284.0,1089.5 L1284.5,1089.5 L1285.0,1089.5 L1285.5,1089.5 L1286.0,1089.5 L1286.5,1089.5 L1287.0,1089.5 L1287.5,1089.5 L1288.0,1089.5 L1288.5,1089.5 L1289.0,1089.5 L1289.5,1089.5 L1290.0,1089.5 L1290.5,1089.5 L1291.0,1089.5 L1291.5,1089.5 L1292.0,1089.5 L1292.5,1089.5 L1293.0,1089.5 L1293.5,1089.5 L1294.0,1089.5 L1294.5,1089.5 L1295.0,1089.5 L1295.5,1089.5 L1296.0,1089.5 L1296.5,1089.5 L1297.0,1089.5 L1297.5,1089.5 L1298.0,1089.5 L1298.5,1089.5 L1299.0,1089.5 L1299.5,1089.5 L1300.0,1089.5 L1300.5,1089.5 L1301.0,1089.5 L1301.5,1089.5 L1302.0,1089.5 L1302.5,1089.5 L1303.0,1089.5 L1303.5,1089.5 L1304.0,1089.5 L1304.5,1089.5 L1305.0,1089.5 L1305.5,1089.5 L1306.0,1089.5 L1306.5,1089.5 L1307.0,1089.5 L1307.5,1089.5 L1308.0,1089.5 L1308.5,1089.5 L1309.0,1089.5 L1309.5,1089.5 L1310.0,1089.5 L1310.5,1089.5 L1311.0,1089.5 L1311.5,1089.5 L1312.0,1089.5 L1312.5,1089.5 L1313.0,1089.5 L1313.5,1089.5 L1314.0,1089.5 L1314.5,1089.5 L1315.0,1089.5 L1315.5,1089.5 L1316.0,1089.5 L1316.5,1089.5 L1317.0,1089.5 L1317.5,1089.5 L1318.0,1089.5 L1318.5,1089.5 L1319.0,1089.5 L1319.5,1089.5 L1320.0,1089.5 L1320.5,1089.5 L1321.0,1089.5 L1321.5,1089.5 L1322.0,1089.5 L1322.5,1089.5 L1323.0,1089.5 L1323.5,1089.5 L1324.0,1089.5 L1324.5,1089.5 L1325.0,1089.5 L1325.5,1089.5 L1326.0,1089.5 L1326.5,1089.5 L1327.0,1089.5 L1327.5,1089.5 L1328.0,1089.5 L1328.5,1089.5 L1329.0,1089.5 L1329.5,1089.5 L1330.0,1089.5 L1330.5,1089.5 L1331.0,1089.5 L1331.5,1089.5 L1332.0,1089.5 L1332.5,1089.5 L1333.0,1089.5 L1333.5,1089.5 L1334.0,1089.5 L1334.5,1089.5 L1335.0,1089.5 L1335.5,1089.5 L1336.0,1089.5 L1336.5,1089.5 L1337.0,1089.5 L1337.5,1089.5 L1338.0,1089.5 L1338.5,1089.5 L1339.0,1089.5 L1339.5,1089.5 L1340.0,1089.5 L1340.5,1089.5 L1341.0,1089.5 L1341.5,1089.5 L1342.0,1089.5 L1342.5,1089.5 L1343.0,1089.5 L1343.5,1089.5 L1344.0,1089.5 L1344.5,1089.5 L1345.0,1089.5 L1345.5,1089.5 L1346.0,1089.5 L1346.5,1089.5 L1347.0,1089.5 L1347.5,1089.5 L1348.0,1089.5 L1348.5,1089.5 L1349.0,1089.5 L1349.5,1089.5 L1350.0,1089.5 L1350.5,1089.5 L1351.0,1089.5 L1351.5,1089.5 L1352.0,1089.5 L1352.5,1089.5 L1353.0,1089.5 L1353.5,1089.5 L1354.0,1089.5 L1354.5,1089.5 L1355.0,1089.5 L1355.5,1089.5 L1356.0,1089.5 L1356.5,1089.5 L1357.0,1089.5 L1357.5,1089.5 L1358.0,1089.5 L1358.5,1089.5 L1359.0,1089.5 L1359.5,1089.5 L1360.0,1089.5 L1360.5,1089.5 L1361.0,1089.5 L1361.5,1089.5 L1362.0,1089.5 L1362.5,1089.5 L1363.0,1089.5 L1363.5,1089.5 L1364.0,1089.5 L1364.5,1089.5 L1365.0,1089.5 L1365.5,1089.5 L1366.0,1089.5 L1366.5,1089.5 L1367.0,1089.5 L1367.5,1089.5 L1368.0,1089.5 L1368.5,1089.5 L1369.0,1089.5 L1369.5,1089.5 L1370.0,1089.5 L1370.5,1089.5 L1371.0,1089.5 L1371.5,1089.5 L1372.0,1089.5 L1372.5,1089.5 L1373.0,1089.5 L1373.5,1089.5 L1374.0,1089.5 L1374.5,1089.5 L1375.0,1089.5 L1375.5,1089.5 L1376.0,1089.5 L1376.5,1089.5 L1377.0,1089.5 L1377.5,1089.5 L1378.0,1089.5 L1378.5,1089.5 L1379.0,1089.5 L1379.5,1089.5 L1380.0,1089.5 L1380.5,1089.5 L1381.0,1089.5 L1381.5,1089.5 L1382.0,1089.5 L1382.5,1089.5 L1383.0,1089.5 L1383.5,1089.5 L1384.0,1089.5 L1384.5,1089.5 L1385.0,1089.5 L1385.5,1089.5 L1386.0,1089.5 L1386.5,1089.5 L1387.0,1089.5 L1387.5,1089.5 L1388.0,1089.5 L1388.5,1089.5 L1389.0,1089.5 L1389.5,1089.5 L1390.0,1089.5 L1390.5,1089.5 L1391.0,1089.5 L1391.5,1089.5 L1392.0,1089.5 L1392.5,1089.5 L1393.0,1089.5 L1393.5,1089.5 L1394.0,1089.5 L1394.5,1089.5 L1395.0,1089.5 L1395.5,1089.5 L1396.0,1089.5 L1396.5,1089.5 L1397.0,1089.5 L1397.5,1089.5 L1398.0,1089.5 L1398.5,1089.5 L1399.0,1089.5 L1399.5,1089.5 L1400.0,1089.5 L1400.5,1089.5 L1401.0,1089.5 L1401.5,1089.5 L1402.0,1089.5 L1402.5,1089.5 L1403.0,1089.5 L1403.5,1089.5 L1404.0,1089.5 L1404.5,1089.5 L1405.0,1089.5 L1405.5,1089.5 L1406.0,1089.5 L1406.5,1089.5 L1407.0,1089.5 L1407.5,1089.5 L1408.0,1089.5 L1408.5,1089.5 L1409.0,1089.5 L1409.5,1089.5 L1410.0,1089.5 L1410.5,1089.5 L1411.0,1089.5 L1411.5,1089.5 L1412.0,1089.5 L1412.5,1089.5 L1413.0,1089.5 L1413.5,1089.5 L1414.0,1089.5 L1414.5,1089.5 L1415.0,1089.5 L1415.5,1089.5 L1416.0,1089.5 L1416.5,1089.5 L1417.0,1089.5 L1417.5,1089.5 L1418.0,1089.5 L1418.5,1089.5 L1419.0,1089.5 L1419.5,1089.5 L1420.0,1089.5 L1420.5,1089.5 L1421.0,1089.5 L1421.5,1089.5 L1422.0,1089.5 L1422.5,1089.5 L1423.0,1089.5 L1423.5,1089.5 L1424.0,1089.5 L1424.5,1089.5 L1425.0,1089.5 L1425.5,1089.5 L1426.0,1089.5 L1426.5,1089.5 L1427.0,1089.5 L1427.5,1089.5 L1428.0,1089.5 L1428.5,1089.5 L1429.0,1089.5 L1429.5,1089.5 L1430.0,1089.5 L1430.5,1089.5 L1431.0,1089.5 L1431.5,1089.5 L1432.0,1089.5 L1432.5,1089.5 L1433.0,1089.5 L1433.5,1089.5 L1434.0,1089.5 L1434.5,1089.5 L1435.0,1089.5 L1435.5,1089.5 L1436.0,1089.5 L1436.5,1089.5 L1437.0,1089.5 L1437.5,1089.5 L1438.0,1089.5 L1438.5,1089.5 L1439.0,1089.5 L1439.5,1089.5 L1440.0,1089.5 L1440.5,1089.5 L1441.0,1089.5 L1441.5,1089.5 L1442.0,1089.5 L1442.5,1089.5 L1443.0,1089.5 L1443.5,1089.5 L1444.0,1089.5 L1444.5,1089.5 L1445.0,1089.5 L1445.5,1089.5 L1446.0,1089.5 L1446.5,1089.5 L1447.0,1089.5 L1447.5,1089.5 L1448.0,1089.5 L1448.5,1089.5 L1449.0,1089.5 L1449.5,1089.5 L1450.0,1089.5 L1450.5,1089.5 L1451.0,1089.5 L1451.5,1089.5 L1452.0,1089.5 L1452.5,1089.5 L1453.0,1089.5 L1453.5,1089.5 L1454.0,1089.5 L1454.5,1089.5 L1455.0,1089.5 L1455.5,1089.5 L1456.0,1089.5 L1456.5,1089.5 L1457.0,1089.5 L1457.5,1089.5 L1458.0,1089.5 L1458.5,1089.5 L1459.0,1089.5 L1459.5,1089.5 L1460.0,1089.5 L1460.5,1089.5 L1461.0,1089.5 L1461.5,1089.5 L1462.0,1089.5 L1462.5,1089.5 L1463.0,1089.5 L1463.5,1089.5 L1464.0,1089.5 L1464.5,1089.5 L1465.0,1089.5 L1465.5,1089.5 L1466.0,1089.5" fill="none" stroke="#ff0000" stroke-width="8" stroke-linejoin="round" stroke-linecap="round"/>
<g fill="#ff0000"><circle cx="250.0" cy="755.0" r="6.2"/><circle cx="254.0" cy="751.3" r="6.2"/><circle cx="258.1" cy="744.0" r="6.2"/><circle cx="262.1" cy="735.4" r="6.2"/><circle cx="266.1" cy="725.6" r="6.2"/><circle cx="270.1" cy="712.6" r="6.2"/><circle cx="274.2" cy="690.9" r="6.2"/><circle cx="278.2" cy="653.1" r="6.2"/><circle cx="282.2" cy="599.1" r="6.2"/><circle cx="286.3" cy="520.3" r="6.2"/><circle cx="290.3" cy="401.2" r="6.2"/><circle cx="294.3" cy="258.5" r="6.2"/><circle cx="298.3" cy="167.6" r="6.2"/><circle cx="302.4" cy="140.8" r="6.2"/><circle cx="306.4" cy="143.9" r="6.2"/><circle cx="310.4" cy="208.6" r="6.2"/><circle cx="314.4" cy="338.1" r="6.2"/><circle cx="318.5" cy="497.2" r="6.2"/><circle cx="322.5" cy="640.1" r="6.2"/><circle cx="326.5" cy="813.5" r="6.2"/><circle cx="330.6" cy="858.0" r="6.2"/><circle cx="334.6" cy="860.7" r="6.2"/><circle cx="338.6" cy="825.4" r="6.2"/><circle cx="342.6" cy="760.0" r="6.2"/><circle cx="346.7" cy="715.1" r="6.2"/><circle cx="350.7" cy="652.6" r="6.2"/><circle cx="354.7" cy="572.2" r="6.2"/><circle cx="358.8" cy="488.7" r="6.2"/><circle cx="362.8" cy="394.6" r="6.2"/><circle cx="366.8" cy="302.2" r="6.2"/><circle cx="370.8" cy="242.8" r="6.2"/><circle cx="374.9" cy="221.9" r="6.2"/><circle cx="378.9" cy="223.5" r="6.2"/><circle cx="382.9" cy="259.3" r="6.2"/><circle cx="387.0" cy="313.2" r="6.2"/><circle cx="391.0" cy="398.1" r="6.2"/><circle cx="395.0" cy="468.8" r="6.2"/><circle cx="399.0" cy="529.6" r="6.2"/><circle cx="403.1" cy="578.9" r="6.2"/><circle cx="407.1" cy="622.1" r="6.2"/><circle cx="411.1" cy="656.1" r="6.2"/><circle cx="415.1" cy="687.6" r="6.2"/><circle cx="419.2" cy="718.4" r="6.2"/><circle cx="423.2" cy="748.8" r="6.2"/><circle cx="427.2" cy="793.1" r="6.2"/><circle cx="431.3" cy="825.8" r="6.2"/><circle cx="435.3" cy="854.4" r="6.2"/><circle cx="439.3" cy="891.5" r="6.2"/><circle cx="443.3" cy="918.8" r="6.2"/><circle cx="447.4" cy="940.6" r="6.2"/><circle cx="451.4" cy="961.2" r="6.2"/><circle cx="455.4" cy="975.2" r="6.2"/><circle cx="459.5" cy="980.2" r="6.2"/><circle cx="463.5" cy="985.1" r="6.2"/><circle cx="467.5" cy="992.1" r="6.2"/><circle cx="471.5" cy="993.1" r="6.2"/><circle cx="475.6" cy="983.4" r="6.2"/><circle cx="479.6" cy="934.2" r="6.2"/><circle cx="483.6" cy="870.8" r="6.2"/><circle cx="487.7" cy="811.9" r="6.2"/><circle cx="491.7" cy="739.0" r="6.2"/><circle cx="495.7" cy="681.5" r="6.2"/><circle cx="499.7" cy="634.8" r="6.2"/><circle cx="503.8" cy="563.7" r="6.2"/><circle cx="507.8" cy="523.0" r="6.2"/><circle cx="511.8" cy="477.9" r="6.2"/><circle cx="515.8" cy="424.2" r="6.2"/><circle cx="519.9" cy="370.2" r="6.2"/><circle cx="523.9" cy="339.1" r="6.2"/><circle cx="527.9" cy="326.5" r="6.2"/><circle cx="532.0" cy="329.2" r="6.2"/><circle cx="536.0" cy="354.3" r="6.2"/><circle cx="540.0" cy="400.9" r="6.2"/><circle cx="544.0" cy="457.9" r="6.2"/><circle cx="548.1" cy="493.3" r="6.2"/><circle cx="552.1" cy="533.3" r="6.2"/><circle cx="556.1" cy="573.3" r="6.2"/><circle cx="560.2" cy="608.5" r="6.2"/><circle cx="564.2" cy="643.5" r="6.2"/><circle cx="568.2" cy="676.3" r="6.2"/><circle cx="572.2" cy="702.7" r="6.2"/><circle cx="576.3" cy="727.9" r="6.2"/><circle cx="580.3" cy="758.5" r="6.2"/><circle cx="584.3" cy="809.5" r="6.2"/><circle cx="588.4" cy="853.3" r="6.2"/><circle cx="592.4" cy="881.8" r="6.2"/><circle cx="596.4" cy="908.7" r="6.2"/><circle cx="600.4" cy="940.7" r="6.2"/><circle cx="604.5" cy="966.4" r="6.2"/><circle cx="608.5" cy="983.1" r="6.2"/><circle cx="612.5" cy="1009.1" r="6.2"/><circle cx="616.5" cy="1033.5" r="6.2"/><circle cx="620.6" cy="1054.4" r="6.2"/><circle cx="624.6" cy="1070.9" r="6.2"/></g>
<g fill="#ffd0d0" opacity="0.7"><circle cx="249.0" cy="754.0" r="1.4"/><circle cx="253.0" cy="750.3" r="1.4"/><circle cx="257.1" cy="743.0" r="1.4"/><circle cx="261.1" cy="734.4" r="1.4"/><circle cx="265.1" cy="724.6" r="1.4"/><circle cx="269.1" cy="711.6" r="1.4"/><circle cx="273.2" cy="689.9" r="1.4"/><circle cx="277.2" cy="652.1" r="1.4"/><circle cx="281.2" cy="598.1" r="1.4"/><circle cx="285.3" cy="519.3" r="1.4"/><circle cx="289.3" cy="400.2" r="1.4"/><circle cx="293.3" cy="257.5" r="1.4"/><circle cx="297.3" cy="166.6" r="1.4"/><circle cx="301.4" cy="139.8" r="1.4"/><circle cx="305.4" cy="142.9" r="1.4"/><circle cx="309.4" cy="207.6" r="1.4"/><circle cx="313.4" cy="337.1" r="1.4"/><circle cx="317.5" cy="496.2" r="1.4"/><circle cx="321.5" cy="639.1" r="1.4"/><circle cx="325.5" cy="812.5" r="1.4"/><circle cx="329.6" cy="857.0" r="1.4"/><circle cx="333.6" cy="859.7" r="1.4"/><circle cx="337.6" cy="824.4" r="1.4"/><circle cx="341.6" cy="759.0" r="1.4"/><circle cx="345.7" cy="714.1" r="1.4"/><circle cx="349.7" cy="651.6" r="1.4"/><circle cx="353.7" cy="571.2" r="1.4"/><circle cx="357.8" cy="487.7" r="1.4"/><circle cx="361.8" cy="393.6" r="1.4"/><circle cx="365.8" cy="301.2" r="1.4"/><circle cx="369.8" cy="241.8" r="1.4"/><circle cx="373.9" cy="220.9" r="1.4"/><circle cx="377.9" cy="222.5" r="1.4"/><circle cx="381.9" cy="258.3" r="1.4"/><circle cx="386.0" cy="312.2" r="1.4"/><circle cx="390.0" cy="397.1" r="1.4"/><circle cx="394.0" cy="467.8" r="1.4"/><circle cx="398.0" cy="528.6" r="1.4"/><circle cx="402.1" cy="577.9" r="1.4"/><circle cx="406.1" cy="621.1" r="1.4"/><circle cx="410.1" cy="655.1" r="1.4"/><circle cx="414.1" cy="686.6" r="1.4"/><circle cx="418.2" cy="717.4" r="1.4"/><circle cx="422.2" cy="747.8" r="1.4"/><circle cx="426.2" cy="792.1" r="1.4"/><circle cx="430.3" cy="824.8" r="1.4"/><circle cx="434.3" cy="853.4" r="1.4"/><circle cx="438.3" cy="890.5" r="1.4"/><circle cx="442.3" cy="917.8" r="1.4"/><circle cx="446.4" cy="939.6" r="1.4"/><circle cx="450.4" cy="960.2" r="1.4"/><circle cx="454.4" cy="974.2" r="1.4"/><circle cx="458.5" cy="979.2" r="1.4"/><circle cx="462.5" cy="984.1" r="1.4"/><circle cx="466.5" cy="991.1" r="1.4"/><circle cx="470.5" cy="992.1" r="1.4"/><circle cx="474.6" cy="982.4" r="1.4"/><circle cx="478.6" cy="933.2" r="1.4"/><circle cx="482.6" cy="869.8" r="1.4"/><circle cx="486.7" cy="810.9" r="1.4"/><circle cx="490.7" cy="738.0" r="1.4"/><circle cx="494.7" cy="680.5" r="1.4"/><circle cx="498.7" cy="633.8" r="1.4"/><circle cx="502.8" cy="562.7" r="1.4"/><circle cx="506.8" cy="522.0" r="1.4"/><circle cx="510.8" cy="476.9" r="1.4"/><circle cx="514.8" cy="423.2" r="1.4"/><circle cx="518.9" cy="369.2" r="1.4"/><circle cx="522.9" cy="338.1" r="1.4"/><circle cx="526.9" cy="325.5" r="1.4"/><circle cx="531.0" cy="328.2" r="1.4"/><circle cx="535.0" cy="353.3" r="1.4"/><circle cx="539.0" cy="399.9" r="1.4"/><circle cx="543.0" cy="456.9" r="1.4"/><circle cx="547.1" cy="492.3" r="1.4"/><circle cx="551.1" cy="532.3" r="1.4"/><circle cx="555.1" cy="572.3" r="1.4"/><circle cx="559.2" cy="607.5" r="1.4"/><circle cx="563.2" cy="642.5" r="1.4"/><circle cx="567.2" cy="675.3" r="1.4"/><circle cx="571.2" cy="701.7" r="1.4"/><circle cx="575.3" cy="726.9" r="1.4"/><circle cx="579.3" cy="757.5" r="1.4"/><circle cx="583.3" cy="808.5" r="1.4"/><circle cx="587.4" cy="852.3" r="1.4"/><circle cx="591.4" cy="880.8" r="1.4"/><circle cx="595.4" cy="907.7" r="1.4"/><circle cx="599.4" cy="939.7" r="1.4"/><circle cx="603.5" cy="965.4" r="1.4"/><circle cx="607.5" cy="982.1" r="1.4"/><circle cx="611.5" cy="1008.1" r="1.4"/><circle cx="615.5" cy="1032.5" r="1.4"/><circle cx="619.6" cy="1053.4" r="1.4"/><circle cx="623.6" cy="1069.9" r="1.4"/></g>
<path d="M546.6,607.6 L547.1,608.0 L547.6,608.4 L548.1,608.9 L548.6,609.4 L549.1,609.8 L549.6,610.3 L550.1,610.8 L550.6,611.4 L551.1,611.9 L551.6,612.4 L552.1,613.0 L552.6,613.6 L553.1,614.2 L553.6,614.8 L554.1,615.4 L554.6,616.0 L555.1,616.6 L555.6,617.3 L556.1,618.0 L556.6,618.6 L557.1,619.3 L557.6,620.0 L558.1,620.7 L558.6,621.4 L559.1,622.2 L559.6,622.9 L560.1,623.6 L560.6,624.4 L561.1,625.2 L561.6,625.9 L562.1,626.7 L562.6,627.5 L563.1,628.3 L563.6,629.1 L564.1,629.9 L564.6,630.7 L565.1,631.5 L565.6,632.4 L566.1,633.2 L566.6,634.1 L567.1,634.9 L567.6,635.8 L568.1,636.6 L568.6,637.5 L569.1,638.4 L569.6,639.2 L570.1,640.1 L570.6,641.1 L571.1,642.1 L571.6,643.1 L572.1,644.1 L572.6,645.2 L573.1,646.2 L573.6,647.4 L574.1,648.5 L574.6,649.6 L575.1,650.8 L575.6,652.0 L576.1,653.2 L576.6,654.4 L577.1,655.6 L577.6,656.8 L578.1,658.0 L578.6,659.2 L579.1,660.5 L579.6,661.7 L580.1,662.9 L580.6,664.2 L581.1,665.4 L581.6,666.6 L582.1,667.8 L582.6,669.0 L583.1,670.2 L583.6,671.3 L584.1,672.5 L584.6,673.6 L585.1,674.8 L585.6,675.9 L586.1,677.0 L586.6,678.2 L587.1,679.3 L587.6,680.4 L588.1,681.6 L588.6,682.7 L589.1,683.8 L589.6,685.0 L590.1,686.1 L590.6,687.2 L591.1,688.4 L591.6,689.5 L592.1,690.7 L592.6,691.9 L593.1,693.0 L593.6,694.2 L594.1,695.4 L594.6,696.6 L595.1,697.8 L595.6,699.1 L596.1,700.3 L596.6,701.6 L597.1,702.8 L597.6,704.1 L598.1,705.4 L598.6,706.7 L599.1,708.0 L599.6,709.3 L600.1,710.6 L600.6,711.9 L601.1,713.3 L601.6,714.6 L602.1,716.0 L602.6,717.4 L603.1,718.7 L603.6,720.1 L604.1,721.5 L604.6,722.9 L605.1,724.3 L605.6,725.7 L606.1,727.2 L606.6,728.6 L607.1,730.0 L607.6,731.5 L608.1,732.9 L608.6,734.4 L609.1,735.9 L609.6,737.5 L610.1,739.0 L610.6,740.7 L611.1,742.3 L611.6,743.9 L612.1,745.5 L612.6,747.2 L613.1,748.7 L613.6,750.3 L614.1,751.8 L614.6,753.2 L615.1,754.6 L615.6,756.0 L616.1,757.3 L616.6,758.6 L617.1,759.8 L617.6,761.1 L618.1,762.3 L618.6,763.5 L619.1,764.7 L619.6,765.9 L620.1,767.0 L620.6,768.2 L621.1,769.3 L621.6,770.3 L622.1,771.4 L622.6,772.4 L623.1,773.3 L623.6,774.3 L624.1,775.2 L624.6,776.2 L625.1,777.1 L625.6,778.0 L626.1,778.9 L626.6,779.7 L627.1,780.6 L627.6,781.4 L628.1,782.2 L628.6,782.9 L629.1,783.7 L629.6,784.3 L630.1,785.0 L630.6,785.6 L631.1,786.1 L631.6,786.6 L632.1,787.2 L632.6,787.7 L633.1,788.3 L633.6,788.8 L634.1,789.3 L634.6,789.8 L635.1,790.3 L635.6,790.8 L636.1,791.2 L636.6,791.6 L637.1,791.9 L637.6,792.2 L638.1,792.4 L638.6,792.6 L639.1,792.7 L639.6,792.8 L640.1,792.8 L640.6,792.7 L641.1,792.5 L641.6,792.3 L642.1,792.1 L642.6,791.8 L643.1,791.4 L643.6,791.0 L644.1,790.6 L644.6,790.2 L645.1,789.8 L645.6,789.3 L646.1,788.8 L646.6,788.4 L647.1,787.9 L647.6,787.4 L648.1,786.8 L648.6,786.2 L649.1,785.6 L649.6,784.8 L650.1,784.1 L650.6,783.3 L651.1,782.5 L651.6,781.7 L652.1,780.8 L652.6,779.9 L653.1,779.1 L653.6,778.2 L654.1,777.3 L654.6,776.5 L655.1,775.7 L655.6,774.8 L656.1,774.0 L656.6,773.1 L657.1,772.3 L657.6,771.4 L658.1,770.5 L658.6,769.6 L659.1,768.7 L659.6,767.8 L660.1,766.9 L660.6,765.9 L661.1,765.0 L661.6,764.0 L662.1,763.1 L662.6,762.1 L663.1,761.1 L663.6,760.1 L664.1,759.1 L664.6,758.1 L665.1,757.0 L665.6,755.9 L666.1,754.8 L666.6,753.7 L667.1,752.6 L667.6,751.5 L668.1,750.3 L668.6,749.2 L669.1,748.0 L669.6,746.8 L670.1,745.6 L670.6,744.5 L671.1,743.3 L671.6,742.1 L672.1,741.0 L672.6,739.8 L673.1,738.7 L673.6,737.6 L674.1,736.4 L674.6,735.3 L675.1,734.2 L675.6,733.0 L676.1,731.9 L676.6,730.8 L677.1,729.6 L677.6,728.5 L678.1,727.4 L678.6,726.3 L679.1,725.2 L679.6,724.1 L680.1,723.0 L680.6,721.9 L681.1,720.9 L681.6,719.9 L682.1,718.8 L682.6,717.8 L683.1,716.7 L683.6,715.7 L684.1,714.7 L684.6,713.7 L685.1,712.7 L685.6,711.7 L686.1,710.7 L686.6,709.7 L687.1,708.8 L687.6,707.9 L688.1,707.0 L688.6,706.1 L689.1,705.2 L689.6,704.3 L690.1,703.5 L690.6,702.7 L691.1,701.9 L691.6,701.1 L692.1,700.4 L692.6,699.6 L693.1,698.9 L693.6,698.1 L694.1,697.4 L694.6,696.7 L695.1,696.0 L695.6,695.3 L696.1,694.6 L696.6,693.9 L697.1,693.2 L697.6,692.5 L698.1,691.8 L698.6,691.1 L699.1,690.3 L699.6,689.6 L700.1,688.8 L700.6,688.1 L701.1,687.3 L701.6,686.5 L702.1,685.7 L702.6,684.9 L703.1,684.1 L703.6,683.2 L704.1,682.4 L704.6,681.6 L705.1,680.7 L705.6,679.9 L706.1,679.0 L706.6,678.2 L707.1,677.4 L707.6,676.5 L708.1,675.7 L708.6,674.9 L709.1,674.1 L709.6,673.3 L710.1,672.5 L710.6,671.7 L711.1,671.0 L711.6,670.2 L712.1,669.5 L712.6,668.8 L713.1,668.2 L713.6,667.5 L714.1,666.9 L714.6,666.3 L715.1,665.7 L715.6,665.2 L716.1,664.7 L716.6,664.2 L717.1,663.7 L717.6,663.2 L718.1,662.7 L718.6,662.2 L719.1,661.7 L719.6,661.2 L720.1,660.8 L720.6,660.3 L721.1,659.9 L721.6,659.4 L722.1,659.0 L722.6,658.6 L723.1,658.2 L723.6,657.8 L724.1,657.4 L724.6,657.0 L725.1,656.6 L725.6,656.2 L726.1,655.9 L726.6,655.5 L727.1,655.2 L727.6,654.9 L728.1,654.6 L728.6,654.3 L729.1,654.0 L729.6,653.7 L730.1,653.5 L730.6,653.2 L731.1,653.0 L731.6,652.7 L732.1,652.5 L732.6,652.2 L733.1,652.0 L733.6,651.8 L734.1,651.5 L734.6,651.3 L735.1,651.1 L735.6,650.8 L736.1,650.6 L736.6,650.4 L737.1,650.2 L737.6,650.0 L738.1,649.8 L738.6,649.6 L739.1,649.4 L739.6,649.2 L740.1,649.0 L740.6,648.8 L741.1,648.6 L741.6,648.4 L742.1,648.3 L742.6,648.1 L743.1,647.9 L743.6,647.8 L744.1,647.6 L744.6,647.5 L745.1,647.4 L745.6,647.2 L746.1,647.1 L746.6,647.0 L747.1,646.8 L747.6,646.7 L748.1,646.6 L748.6,646.5 L749.1,646.4 L749.6,646.4 L750.1,646.3 L750.6,646.2 L751.1,646.1 L751.6,646.1 L752.1,646.0 L752.6,646.0 L753.1,645.9 L753.6,645.8 L754.1,645.8 L754.6,645.7 L755.1,645.7 L755.6,645.6 L756.1,645.5 L756.6,645.5 L757.1,645.4 L757.6,645.4 L758.1,645.3 L758.6,645.3 L759.1,645.3 L759.6,645.2 L760.1,645.2 L760.6,645.1 L761.1,645.1 L761.6,645.1 L762.1,645.1 L762.6,645.0 L763.1,645.0 L763.6,645.0 L764.1,645.0 L764.6,645.0 L765.1,645.0 L765.6,645.0 L766.1,645.0 L766.6,645.0 L767.1,645.0 L767.6,645.0 L768.1,645.1 L768.6,645.1 L769.1,645.1 L769.6,645.1 L770.1,645.2 L770.6,645.2 L771.1,645.2 L771.6,645.2 L772.1,645.3 L772.6,645.3 L773.1,645.4 L773.6,645.4 L774.1,645.4 L774.6,645.5 L775.1,645.5 L775.6,645.6 L776.1,645.6 L776.6,645.7 L777.1,645.7 L777.6,645.8 L778.1,645.8 L778.6,645.9 L779.1,645.9 L779.6,646.0 L780.1,646.0 L780.6,646.1 L781.1,646.2 L781.6,646.2 L782.1,646.3 L782.6,646.4 L783.1,646.5 L783.6,646.6 L784.1,646.7 L784.6,646.8 L785.1,646.9 L785.6,647.0 L786.1,647.1 L786.6,647.3 L787.1,647.4 L787.6,647.5 L788.1,647.7 L788.6,647.8 L789.1,647.9 L789.6,648.1 L790.1,648.2 L790.6,648.4 L791.1,648.6 L791.6,648.8 L792.1,649.1 L792.6,649.3 L793.1,649.6 L793.6,649.8 L794.1,650.1 L794.6,650.4 L795.1,650.7 L795.6,650.9 L796.1,651.2 L796.6,651.4 L797.1,651.6 L797.6,651.8 L798.1,652.0 L798.6,652.1 L799.1,652.3 L799.6,652.4 L800.1,652.5 L800.6,652.7 L801.1,652.8 L801.6,653.0 L802.1,653.1 L802.6,653.2 L803.1,653.4 L803.6,653.5 L804.1,653.6 L804.6,653.8 L805.1,653.9 L805.6,654.0 L806.1,654.1 L806.6,654.2 L807.1,654.3 L807.6,654.4 L808.1,654.5 L808.6,654.6 L809.1,654.7 L809.6,654.7 L810.1,654.8 L810.6,654.8 L811.1,654.9 L811.6,654.9 L812.1,655.0 L812.6,655.0 L813.1,655.0 L813.6,655.0 L814.1,655.0 L814.6,655.0 L815.1,655.0 L815.6,654.9 L816.1,654.9 L816.6,654.8 L817.1,654.8 L817.6,654.7 L818.1,654.6 L818.6,654.6 L819.1,654.5 L819.6,654.4 L820.1,654.3 L820.6,654.2 L821.1,654.1 L821.6,654.0 L822.1,653.9 L822.6,653.7 L823.1,653.6 L823.6,653.5 L824.1,653.4 L824.6,653.2 L825.1,653.1 L825.6,653.0 L826.1,652.8 L826.6,652.7 L827.1,652.5 L827.6,652.4 L828.1,652.2 L828.6,652.1 L829.1,651.9 L829.6,651.7 L830.1,651.5 L830.6,651.3 L831.1,651.1 L831.6,650.9 L832.1,650.6 L832.6,650.3 L833.1,650.0 L833.6,649.7 L834.1,649.4 L834.6,649.1 L835.1,648.7 L835.6,648.4 L836.1,648.0 L836.6,647.7 L837.1,647.3 L837.6,646.9 L838.1,646.5 L838.6,646.1 L839.1,645.7 L839.6,645.3 L840.1,644.8 L840.6,644.4 L841.1,644.0 L841.6,643.6 L842.1,643.1 L842.6,642.7 L843.1,642.3 L843.6,641.8 L844.1,641.4 L844.6,640.9 L845.1,640.5 L845.6,640.0 L846.1,639.6 L846.6,639.1 L847.1,638.6 L847.6,638.1 L848.1,637.6 L848.6,637.0 L849.1,636.5 L849.6,635.9 L850.1,635.4 L850.6,634.8 L851.1,634.2 L851.6,633.6 L852.1,633.0 L852.6,632.4 L853.1,631.8 L853.6,631.2 L854.1,630.6 L854.6,629.9 L855.1,629.2 L855.6,628.6 L856.1,627.9 L856.6,627.2 L857.1,626.5 L857.6,625.8 L858.1,625.0 L858.6,624.3 L859.1,623.5 L859.6,622.7 L860.1,621.8 L860.6,621.0 L861.1,620.1 L861.6,619.2 L862.1,618.4 L862.6,617.5 L863.1,616.6 L863.6,615.7 L864.1,614.7 L864.6,613.8 L865.1,612.9 L865.6,612.0 L866.1,611.0 L866.6,610.1 L867.1,609.2 L867.6,608.3 L868.1,607.3 L868.6,606.4 L869.1,605.4 L869.6,604.5 L870.1,603.5 L870.6,602.5 L871.1,601.6 L871.6,600.6 L872.1,599.6 L872.6,598.6 L873.1,597.6 L873.6,596.6 L874.1,595.5 L874.6,594.5 L875.1,593.5 L875.6,592.4 L876.1,591.4 L876.6,590.4 L877.1,589.3 L877.6,588.2 L878.1,587.2 L878.6,586.1 L879.1,585.0 L879.6,584.0 L880.1,582.9 L880.6,581.8 L881.1,580.7 L881.6,579.7 L882.1,578.6 L882.6,577.5 L883.1,576.4 L883.6,575.2 L884.1,574.1 L884.6,573.0 L885.1,571.8 L885.6,570.6 L886.1,569.4 L886.6,568.2 L887.1,567.0 L887.6,565.8 L888.1,564.5 L888.6,563.3 L889.1,562.0 L889.6,560.6 L890.1,559.3 L890.6,557.9 L891.1,556.5 L891.6,555.0 L892.1,553.6 L892.6,552.1 L893.1,550.6 L893.6,549.1 L894.1,547.5 L894.6,546.0 L895.1,544.4 L895.6,542.9 L896.1,541.3 L896.6,539.7 L897.1,538.2 L897.6,536.6 L898.1,535.0 L898.6,533.5 L899.1,531.9 L899.6,530.4 L900.1,528.8 L900.6,527.3 L901.1,525.8 L901.6,524.3 L902.1,522.8 L902.6,521.3 L903.1,519.8 L903.6,518.3 L904.1,516.7 L904.6,515.2 L905.1,513.7 L905.6,512.2 L906.1,510.7 L906.6,509.1 L907.1,507.6 L907.6,506.1 L908.1,504.6 L908.6,503.1 L909.1,501.5 L909.6,500.0 L910.1,498.5 L910.6,497.0 L911.1,495.5 L911.6,494.0 L912.1,492.6 L912.6,491.1 L913.1,489.6 L913.6,488.1 L914.1,486.7 L914.6,485.2 L915.1,483.8 L915.6,482.3 L916.1,480.9 L916.6,479.5 L917.1,478.1 L917.6,476.7 L918.1,475.3 L918.6,473.9 L919.1,472.5 L919.6,471.1 L920.1,469.7 L920.6,468.4 L921.1,467.0 L921.6,465.6 L922.1,464.3 L922.6,462.9 L923.1,461.6 L923.6,460.2 L924.1,458.8 L924.6,457.5 L925.1,456.1 L925.6,454.8 L926.1,453.4 L926.6,452.1 L927.1,450.7 L927.6,449.3 L928.1,448.0 L928.6,446.6 L929.1,445.2 L929.6,443.8 L930.1,442.5 L930.6,441.1 L931.1,439.7 L931.6,438.4 L932.1,437.0 L932.6,435.7 L933.1,434.3 L933.6,432.9 L934.1,431.6 L934.6,430.2 L935.1,428.9 L935.6,427.5 L936.1,426.2 L936.6,424.8 L937.1,423.4 L937.6,422.1 L938.1,420.7 L938.6,419.3 L939.1,418.0 L939.6,416.6 L940.1,415.2 L940.6,413.8 L941.1,412.4 L941.6,411.0 L942.1,409.6 L942.6,408.2 L943.1,406.7 L943.6,405.3 L944.1,403.9 L944.6,402.4 L945.1,401.0 L945.6,399.5 L946.1,398.1 L946.6,396.6 L947.1,395.2 L947.6,393.7 L948.1,392.2 L948.6,390.8 L949.1,389.3 L949.6,387.8 L950.1,386.3 L950.6,384.8 L951.1,383.3 L951.6,381.8 L952.1,380.3 L952.6,378.8 L953.1,377.3 L953.6,375.7 L954.1,374.2 L954.6,372.7 L955.1,371.1 L955.6,369.6 L956.1,368.0 L956.6,366.5 L957.1,364.9 L957.6,363.3 L958.1,361.7 L958.6,360.1 L959.1,358.6 L959.6,357.0 L960.1,355.4 L960.6,353.8 L961.1,352.2 L961.6,350.6 L962.1,348.9 L962.6,347.3 L963.1,345.7 L963.6,344.0 L964.1,342.3 L964.6,340.7 L965.1,339.0 L965.6,337.2 L966.1,335.5 L966.6,333.8 L967.1,332.0 L967.6,330.2 L968.1,328.4 L968.6,326.5 L969.1,324.6 L969.6,322.5 L970.1,320.5 L970.6,318.3 L971.1,316.2 L971.6,314.1 L972.1,311.9 L972.6,309.8 L973.1,307.7 L973.6,305.7 L974.1,303.8 L974.6,301.9 L975.1,300.1 L975.6,298.5 L976.1,296.8 L976.6,295.3 L977.1,293.7 L977.6,292.2 L978.1,290.7 L978.6,289.2 L979.1,287.8 L979.6,286.4 L980.1,285.0 L980.6,283.6 L981.1,282.2 L981.6,280.9 L982.1,279.6 L982.6,278.3 L983.1,277.0 L983.6,275.7 L984.1,274.4 L984.6,273.1 L985.1,271.8 L985.6,270.5 L986.1,269.2 L986.6,268.0 L987.1,266.7 L987.6,265.5 L988.1,264.3 L988.6,263.2 L989.1,262.0 L989.6,260.8 L990.1,259.6 L990.6,258.4 L991.1,257.2 L991.6,256.0 L992.1,254.7 L992.6,253.5 L993.1,252.2 L993.6,250.9 L994.1,249.7 L994.6,248.4 L995.1,247.1 L995.6,245.8 L996.1,244.6 L996.6,243.3 L997.1,242.1 L997.6,240.9 L998.1,239.6 L998.6,238.4 L999.1,237.1 L999.6,235.9 L1000.1,234.6 L1000.6,233.4 L1001.1,232.2 L1001.6,231.0 L1002.1,229.9 L1002.6,228.8 L1003.1,227.7 L1003.6,226.6 L1004.1,225.5 L1004.6,224.5 L1005.1,223.4 L1005.6,222.4 L1006.1,221.4 L1006.6,220.4 L1007.1,219.5 L1007.6,218.6 L1008.1,217.7 L1008.6,217.0 L1009.1,216.2 L1009.6,215.4 L1010.1,214.7 L1010.6,213.9 L1011.1,213.2 L1011.6,212.5 L1012.1,211.8 L1012.6,211.1 L1013.1,210.5 L1013.6,209.9 L1014.1,209.4 L1014.6,208.9 L1015.1,208.4 L1015.6,208.1 L1016.1,207.8 L1016.6,207.5 L1017.1,207.2 L1017.6,207.0 L1018.1,206.7 L1018.6,206.5 L1019.1,206.3 L1019.6,206.0 L1020.1,205.8 L1020.6,205.6 L1021.1,205.5 L1021.6,205.3 L1022.1,205.2 L1022.6,205.0 L1023.1,204.9 L1023.6,204.8 L1024.1,204.8 L1024.6,204.7 L1025.1,204.7 L1025.6,204.7 L1026.1,204.7 L1026.6,204.7 L1027.1,204.8 L1027.6,204.8 L1028.1,204.8 L1028.6,204.9 L1029.1,204.9 L1029.6,205.0 L1030.1,205.1 L1030.6,205.1 L1031.1,205.2 L1031.6,205.3 L1032.1,205.4 L1032.6,205.4 L1033.1,205.5 L1033.6,205.6 L1034.1,205.7 L1034.6,205.8 L1035.1,205.9 L1035.6,206.0 L1036.1,206.1 L1036.6,206.2 L1037.1,206.3 L1037.6,206.4 L1038.1,206.6 L1038.6,206.7 L1039.1,206.9 L1039.6,207.1 L1040.1,207.3 L1040.6,207.5 L1041.1,207.7 L1041.6,207.9 L1042.1,208.2 L1042.6,208.4 L1043.1,208.6 L1043.6,208.9 L1044.1,209.1 L1044.6,209.3 L1045.1,209.6 L1045.6,209.8 L1046.1,210.0 L1046.6,210.2 L1047.1,210.4 L1047.6,210.6 L1048.1,210.8 L1048.6,211.0 L1049.1,211.1 L1049.6,211.4 L1050.1,211.6 L1050.6,211.8 L1051.1,212.0 L1051.6,212.2 L1052.1,212.3 L1052.6,212.5 L1053.1,212.7 L1053.6,212.8 L1054.1,212.9 L1054.6,213.0 L1055.1,213.0 L1055.6,213.0 L1056.1,213.0 L1056.6,212.9 L1057.1,212.8 L1057.6,212.6 L1058.1,212.4 L1058.6,212.2 L1059.1,212.0 L1059.6,211.8 L1060.1,211.5 L1060.6,211.2 L1061.1,211.0 L1061.6,210.7 L1062.1,210.5 L1062.6,210.2 L1063.1,210.0 L1063.6,209.7 L1064.1,209.5 L1064.6,209.2 L1065.1,208.9 L1065.6,208.7 L1066.1,208.4 L1066.6,208.1 L1067.1,207.8 L1067.6,207.5 L1068.1,207.1 L1068.6,206.8 L1069.1,206.5 L1069.6,206.1 L1070.1,205.7 L1070.6,205.3 L1071.1,204.9 L1071.6,204.4 L1072.1,203.9 L1072.6,203.4 L1073.1,202.9 L1073.6,202.3 L1074.1,201.7 L1074.6,201.1 L1075.1,200.5 L1075.6,199.8 L1076.1,199.2 L1076.6,198.6 L1077.1,197.9 L1077.6,197.3 L1078.1,196.6 L1078.6,195.9 L1079.1,195.2 L1079.6,194.5 L1080.1,193.8 L1080.6,193.1 L1081.1,192.3 L1081.6,191.6 L1082.1,190.8 L1082.6,190.0 L1083.1,189.3 L1083.6,188.5 L1084.1,187.7 L1084.6,186.8 L1085.1,186.0 L1085.6,185.1 L1086.1,184.2 L1086.6,183.2 L1087.1,182.2 L1087.6,181.2 L1088.1,180.1 L1088.6,179.0 L1089.1,177.9 L1089.6,176.9 L1090.1,175.7 L1090.6,174.6 L1091.1,173.5 L1091.6,172.4 L1092.1,171.4 L1092.6,170.3 L1093.1,169.2 L1093.6,168.2 L1094.1,167.2 L1094.6,166.2 L1095.1,165.3 L1095.6,164.4 L1096.1,163.5 L1096.6,162.7 L1097.1,161.9 L1097.6,161.2 L1098.1,160.6 L1098.6,160.0 L1099.1,159.4 L1099.6,158.9 L1100.1,158.3 L1100.6,157.8 L1101.1,157.2 L1101.6,156.7 L1102.1,156.1 L1102.6,155.6 L1103.1,155.1 L1103.6,154.6 L1104.1,154.1 L1104.6,153.7 L1105.1,153.2 L1105.6,152.8 L1106.1,152.5 L1106.6,152.1 L1107.1,151.8 L1107.6,151.6 L1108.1,151.4 L1108.6,151.2 L1109.1,151.1 L1109.6,151.0 L1110.1,151.0 L1110.6,151.1 L1111.1,151.3 L1111.6,151.5 L1112.1,151.9 L1112.6,152.3 L1113.1,152.9 L1113.6,153.5 L1114.1,154.2 L1114.6,154.9 L1115.1,155.7 L1115.6,156.5 L1116.1,157.4 L1116.6,158.4 L1117.1,159.3 L1117.6,160.3 L1118.1,161.3 L1118.6,162.4 L1119.1,163.4 L1119.6,164.5 L1120.1,165.5 L1120.6,166.6 L1121.1,167.7 L1121.6,168.9 L1122.1,170.3 L1122.6,171.8 L1123.1,173.4 L1123.6,175.1 L1124.1,176.8 L1124.6,178.5 L1125.1,180.3 L1125.6,182.0 L1126.1,183.9 L1126.6,185.8 L1127.1,187.8 L1127.6,189.8 L1128.1,191.9 L1128.6,194.1 L1129.1,196.4 L1129.6,198.7 L1130.1,201.1 L1130.6,203.6 L1131.1,206.1 L1131.6,208.7 L1132.1,211.4 L1132.6,214.1 L1133.1,216.9 L1133.6,219.8 L1134.1,222.7 L1134.6,225.7 L1135.1,228.8 L1135.6,231.9 L1136.1,235.0 L1136.6,238.2 L1137.1,241.3 L1137.6,244.6 L1138.1,247.8 L1138.6,251.1 L1139.1,254.4 L1139.6,257.8 L1140.1,261.3 L1140.6,264.9 L1141.1,268.7 L1141.6,272.7 L1142.1,276.8 L1142.6,281.0 L1143.1,285.1 L1143.6,289.1 L1144.1,292.7 L1144.6,296.1 L1145.1,299.2 L1145.6,302.2 L1146.1,305.0 L1146.6,307.7 L1147.1,310.3 L1147.6,312.9 L1148.1,315.5 L1148.6,318.2 L1149.1,320.9 L1149.6,323.7 L1150.1,326.6 L1150.6,329.5 L1151.1,332.4 L1151.6,335.2 L1152.1,338.1 L1152.6,341.1 L1153.1,344.1 L1153.6,347.3 L1154.1,350.7 L1154.6,354.3 L1155.1,358.1 L1155.6,362.3 L1156.1,367.3 L1156.6,373.2 L1157.1,379.6 L1157.6,386.0 L1158.1,392.0 L1158.6,397.3 L1159.1,401.9 L1159.6,406.2 L1160.1,410.2 L1160.6,414.1 L1161.1,417.9 L1161.6,421.6 L1162.1,425.4 L1162.6,429.2 L1163.1,433.1 L1163.6,437.0 L1164.1,440.9 L1164.6,444.8 L1165.1,448.7 L1165.6,452.6 L1166.1,456.6 L1166.6,460.7 L1167.1,464.9 L1167.6,469.2 L1168.1,473.7 L1168.6,478.5 L1169.1,483.3 L1169.6,488.3 L1170.1,493.3 L1170.6,498.3 L1171.1,503.2 L1171.6,508.0 L1172.1,512.7 L1172.6,517.4 L1173.1,522.1 L1173.6,526.8 L1174.1,531.5 L1174.6,536.2 L1175.1,540.9 L1175.6,545.8 L1176.1,550.7 L1176.6,555.7 L1177.1,560.6 L1177.6,565.5 L1178.1,570.2 L1178.6,574.6 L1179.1,578.8 L1179.6,582.7 L1180.1,586.4 L1180.6,590.0 L1181.1,593.5 L1181.6,596.9 L1182.1,600.3 L1182.6,603.7 L1183.1,607.3 L1183.6,610.9 L1184.1,614.4 L1184.6,617.9 L1185.1,621.4 L1185.6,624.9 L1186.1,628.6 L1186.6,632.4 L1187.1,636.5 L1187.6,640.9 L1188.1,645.9 L1188.6,651.4 L1189.1,657.4 L1189.6,663.5 L1190.1,669.7 L1190.6,675.6 L1191.1,681.2 L1191.6,686.2 L1192.1,690.5 L1192.6,694.5 L1193.1,698.3 L1193.6,701.8 L1194.1,705.2 L1194.6,708.5 L1195.1,711.8 L1195.6,715.0 L1196.1,718.3 L1196.6,721.6 L1197.1,725.0 L1197.6,728.4 L1198.1,731.9 L1198.6,735.2 L1199.1,738.6 L1199.6,741.8 L1200.1,745.0 L1200.6,748.0 L1201.1,750.9 L1201.6,753.7 L1202.1,756.4 L1202.6,759.1 L1203.1,761.7 L1203.6,764.2 L1204.1,766.7 L1204.6,769.2 L1205.1,771.6 L1205.6,774.1 L1206.1,776.4 L1206.6,778.7 L1207.1,781.0 L1207.6,783.2 L1208.1,785.5 L1208.6,787.7 L1209.1,789.9 L1209.6,792.1 L1210.1,794.3 L1210.6,796.6 L1211.1,798.9 L1211.6,801.2 L1212.1,803.5 L1212.6,805.8 L1213.1,808.2 L1213.6,810.4 L1214.1,812.7 L1214.6,814.8 L1215.1,816.9 L1215.6,818.9 L1216.1,820.8 L1216.6,822.7 L1217.1,824.6 L1217.6,826.4 L1218.1,828.2 L1218.6,830.0 L1219.1,831.7 L1219.6,833.5 L1220.1,835.2 L1220.6,836.9 L1221.1,838.7 L1221.6,840.5 L1222.1,842.2 L1222.6,844.0 L1223.1,845.7 L1223.6,847.5 L1224.1,849.2 L1224.6,850.9 L1225.1,852.6 L1225.6,854.3 L1226.1,855.9 L1226.6,857.6 L1227.1,859.2 L1227.6,860.8 L1228.1,862.5 L1228.6,864.1 L1229.1,865.7 L1229.6,867.4 L1230.1,869.0 L1230.6,870.6 L1231.1,872.2 L1231.6,873.8 L1232.1,875.4 L1232.6,877.0 L1233.1,878.6 L1233.6,880.1 L1234.1,881.7 L1234.6,883.3 L1235.1,884.8 L1235.6,886.4 L1236.1,887.9 L1236.6,889.4 L1237.1,890.9 L1237.6,892.4 L1238.1,893.9 L1238.6,895.4 L1239.1,896.9 L1239.6,898.3 L1240.1,899.8 L1240.6,901.2 L1241.1,902.6 L1241.6,904.1 L1242.1,905.4 L1242.6,906.8 L1243.1,908.2 L1243.6,909.5 L1244.1,910.9 L1244.6,912.2 L1245.1,913.5 L1245.6,914.8 L1246.1,916.1 L1246.6,917.4 L1247.1,918.7 L1247.6,920.0 L1248.1,921.2 L1248.6,922.4 L1249.1,923.6 L1249.6,924.8 L1250.1,925.9 L1250.6,927.1 L1251.1,928.2 L1251.6,929.3 L1252.1,930.3 L1252.6,931.3 L1253.1,932.3 L1253.6,933.3 L1254.1,934.2 L1254.6,935.1 L1255.1,936.1 L1255.6,937.0 L1256.1,937.8 L1256.6,938.7 L1257.1,939.6 L1257.6,940.4 L1258.1,941.3 L1258.6,942.1 L1259.1,942.9 L1259.6,943.7 L1260.1,944.5 L1260.6,945.3 L1261.1,946.1 L1261.6,946.9 L1262.1,947.7 L1262.6,948.5 L1263.1,949.3 L1263.6,950.1 L1264.1,950.9 L1264.6,951.7 L1265.1,952.5 L1265.6,953.3 L1266.1,954.1 L1266.6,954.8 L1267.1,955.6 L1267.6,956.4 L1268.1,957.2 L1268.6,958.0 L1269.1,958.8 L1269.6,959.5 L1270.1,960.3 L1270.6,961.1 L1271.1,961.8 L1271.6,962.6 L1272.1,963.3 L1272.6,964.1 L1273.1,964.8 L1273.6,965.5 L1274.1,966.3 L1274.6,967.0 L1275.1,967.7 L1275.6,968.4 L1276.1,969.1 L1276.6,969.7 L1277.1,970.4 L1277.6,971.1 L1278.1,971.7 L1278.6,972.4 L1279.1,973.0 L1279.6,973.7 L1280.1,974.3 L1280.6,974.9 L1281.1,975.5 L1281.6,976.2 L1282.1,976.8 L1282.6,977.4 L1283.1,978.0 L1283.6,978.6 L1284.1,979.2 L1284.6,979.7 L1285.1,980.3 L1285.6,980.9 L1286.1,981.5 L1286.6,982.0 L1287.1,982.6 L1287.6,983.2 L1288.1,983.7 L1288.6,984.3 L1289.1,984.8 L1289.6,985.4 L1290.1,985.9 L1290.6,986.4 L1291.1,987.0 L1291.6,987.5 L1292.1,988.0 L1292.6,988.5 L1293.1,989.0 L1293.6,989.6 L1294.1,990.1 L1294.6,990.6 L1295.1,991.1 L1295.6,991.6 L1296.1,992.1 L1296.6,992.5 L1297.1,993.0 L1297.6,993.5 L1298.1,994.0 L1298.6,994.4 L1299.1,994.9 L1299.6,995.4 L1300.1,995.8 L1300.6,996.3 L1301.1,996.7 L1301.6,997.2 L1302.1,997.6 L1302.6,998.0 L1303.1,998.5 L1303.6,998.9 L1304.1,999.3 L1304.6,999.7 L1305.1,1000.1 L1305.6,1000.5 L1306.1,1000.9 L1306.6,1001.3 L1307.1,1001.7 L1307.6,1002.1 L1308.1,1002.5 L1308.6,1002.9 L1309.1,1003.3 L1309.6,1003.7 L1310.1,1004.1 L1310.6,1004.4 L1311.1,1004.8 L1311.6,1005.2 L1312.1,1005.6 L1312.6,1006.0 L1313.1,1006.3 L1313.6,1006.7 L1314.1,1007.1 L1314.6,1007.4 L1315.1,1007.8 L1315.6,1008.2 L1316.1,1008.5 L1316.6,1008.9 L1317.1,1009.2 L1317.6,1009.6 L1318.1,1009.9 L1318.6,1010.3 L1319.1,1010.6 L1319.6,1011.0 L1320.1,1011.3 L1320.6,1011.7 L1321.1,1012.0 L1321.6,1012.3 L1322.1,1012.7 L1322.6,1013.0 L1323.1,1013.4 L1323.6,1013.7 L1324.1,1014.1 L1324.6,1014.4 L1325.1,1014.7 L1325.6,1015.1 L1326.1,1015.4 L1326.6,1015.8 L1327.1,1016.1 L1327.6,1016.5 L1328.1,1016.9 L1328.6,1017.2 L1329.1,1017.6 L1329.6,1017.9 L1330.1,1018.3 L1330.6,1018.6 L1331.1,1019.0 L1331.6,1019.4 L1332.1,1019.7 L1332.6,1020.1 L1333.1,1020.4 L1333.6,1020.8 L1334.1,1021.1 L1334.6,1021.5 L1335.1,1021.8 L1335.6,1022.2 L1336.1,1022.5 L1336.6,1022.8 L1337.1,1023.2 L1337.6,1023.5 L1338.1,1023.8 L1338.6,1024.2 L1339.1,1024.5 L1339.6,1024.8 L1340.1,1025.1 L1340.6,1025.4 L1341.1,1025.8 L1341.6,1026.1 L1342.1,1026.4 L1342.6,1026.7 L1343.1,1027.0 L1343.6,1027.3 L1344.1,1027.6 L1344.6,1027.9 L1345.1,1028.2 L1345.6,1028.5 L1346.1,1028.8 L1346.6,1029.1 L1347.1,1029.4 L1347.6,1029.7 L1348.1,1030.0 L1348.6,1030.3 L1349.1,1030.6 L1349.6,1030.9 L1350.1,1031.1 L1350.6,1031.4 L1351.1,1031.7 L1351.6,1031.9 L1352.1,1032.2 L1352.6,1032.5 L1353.1,1032.7 L1353.6,1033.0 L1354.1,1033.2 L1354.6,1033.5 L1355.1,1033.7 L1355.6,1034.0 L1356.1,1034.2 L1356.6,1034.4 L1357.1,1034.7 L1357.6,1034.9 L1358.1,1035.2 L1358.6,1035.4 L1359.1,1035.6 L1359.6,1035.9 L1360.1,1036.1 L1360.6,1036.4 L1361.1,1036.6 L1361.6,1036.9 L1362.1,1037.1 L1362.6,1037.4 L1363.1,1037.6 L1363.6,1037.9 L1364.1,1038.1 L1364.6,1038.4 L1365.1,1038.6 L1365.6,1038.9 L1366.1,1039.1 L1366.6,1039.4 L1367.1,1039.6 L1367.6,1039.9 L1368.1,1040.1 L1368.6,1040.4 L1369.1,1040.6 L1369.6,1040.9 L1370.1,1041.1 L1370.6,1041.4 L1371.1,1041.6 L1371.6,1041.9 L1372.1,1042.1 L1372.6,1042.4 L1373.1,1042.6 L1373.6,1042.9 L1374.1,1043.2 L1374.6,1043.4 L1375.1,1043.6 L1375.6,1043.9 L1376.1,1044.1 L1376.6,1044.4 L1377.1,1044.6 L1377.6,1044.9 L1378.1,1045.1 L1378.6,1045.4 L1379.1,1045.6 L1379.6,1045.9 L1380.1,1046.1 L1380.6,1046.4 L1381.1,1046.6 L1381.6,1046.9 L1382.1,1047.1 L1382.6,1047.4 L1383.1,1047.6 L1383.6,1047.9 L1384.1,1048.1 L1384.6,1048.3 L1385.1,1048.6 L1385.6,1048.8 L1386.1,1049.1 L1386.6,1049.3 L1387.1,1049.6 L1387.6,1049.8 L1388.1,1050.1 L1388.6,1050.3 L1389.1,1050.6 L1389.6,1050.8 L1390.1,1051.0 L1390.6,1051.3 L1391.1,1051.5 L1391.6,1051.8 L1392.1,1052.0 L1392.6,1052.3 L1393.1,1052.5 L1393.6,1052.8 L1394.1,1053.1 L1394.6,1053.3 L1395.1,1053.6 L1395.6,1053.8 L1396.1,1054.1 L1396.6,1054.4 L1397.1,1054.6 L1397.6,1054.9 L1398.1,1055.1 L1398.6,1055.4 L1399.1,1055.7 L1399.6,1055.9 L1400.1,1056.2 L1400.6,1056.5 L1401.1,1056.7 L1401.6,1057.0 L1402.1,1057.2 L1402.6,1057.5 L1403.1,1057.8 L1403.6,1058.0 L1404.1,1058.3 L1404.6,1058.6 L1405.1,1058.8 L1405.6,1059.1 L1406.1,1059.3 L1406.6,1059.6 L1407.1,1059.9 L1407.6,1060.1 L1408.1,1060.4 L1408.6,1060.6 L1409.1,1060.9 L1409.6,1061.1 L1410.1,1061.4 L1410.6,1061.6 L1411.1,1061.9 L1411.6,1062.1 L1412.1,1062.4 L1412.6,1062.6 L1413.1,1062.9 L1413.6,1063.1 L1414.1,1063.3 L1414.6,1063.6 L1415.1,1063.8 L1415.6,1064.0 L1416.1,1064.3 L1416.6,1064.5 L1417.1,1064.7 L1417.6,1064.9 L1418.1,1065.2 L1418.6,1065.4 L1419.1,1065.6 L1419.6,1065.8 L1420.1,1066.0 L1420.6,1066.2 L1421.1,1066.4 L1421.6,1066.6 L1422.1,1066.8 L1422.6,1067.0 L1423.1,1067.2 L1423.6,1067.4 L1424.1,1067.6 L1424.6,1067.8 L1425.1,1067.9 L1425.6,1068.1 L1426.1,1068.3 L1426.6,1068.5 L1427.1,1068.7 L1427.6,1068.8 L1428.1,1069.0 L1428.6,1069.2 L1429.1,1069.3 L1429.6,1069.5 L1430.1,1069.7 L1430.6,1069.9 L1431.1,1070.0 L1431.6,1070.2 L1432.1,1070.4 L1432.6,1070.5 L1433.1,1070.7 L1433.6,1070.9 L1434.1,1071.0 L1434.6,1071.2 L1435.1,1071.3 L1435.6,1071.5 L1436.1,1071.7 L1436.6,1071.8 L1437.1,1072.0 L1437.6,1072.1 L1438.1,1072.3 L1438.6,1072.4 L1439.1,1072.6 L1439.6,1072.7 L1440.1,1072.9 L1440.6,1073.0 L1441.1,1073.2 L1441.6,1073.3 L1442.1,1073.5 L1442.6,1073.6 L1443.1,1073.8 L1443.6,1073.9 L1444.1,1074.0 L1444.6,1074.2 L1445.1,1074.3 L1445.6,1074.5 L1446.1,1074.6 L1446.6,1074.7 L1447.1,1074.9 L1447.6,1075.0 L1448.1,1075.1 L1448.6,1075.3 L1449.1,1075.4 L1449.6,1075.5 L1450.1,1075.6 L1450.6,1075.8 L1451.1,1075.9 L1451.6,1076.0 L1452.1,1076.1 L1452.6,1076.3 L1453.1,1076.4 L1453.6,1076.5 L1454.1,1076.6 L1454.6,1076.7 L1455.1,1076.9 L1455.6,1077.0 L1456.1,1077.1 L1456.6,1077.2 L1457.1,1077.3 L1457.6,1077.4 L1458.1,1077.5 L1458.6,1077.7 L1459.1,1077.8 L1459.6,1077.9 L1460.1,1078.0 L1460.6,1078.1 L1461.1,1078.2 L1461.6,1078.3 L1462.1,1078.4 L1462.6,1078.5 L1463.1,1078.6 L1463.6,1078.8 L1464.1,1078.9 L1464.6,1079.0 L1465.1,1079.1 L1465.6,1079.2 L1466.1,1079.3 L1466.6,1079.4 L1467.1,1079.5 L1467.6,1079.6 L1468.1,1079.7 L1468.6,1079.8 L1469.1,1079.9 L1469.6,1080.0 L1470.1,1080.1 L1470.6,1080.2 L1471.1,1080.3 L1471.6,1080.4 L1472.1,1080.5 L1472.6,1080.6 L1473.1,1080.7 L1473.6,1080.8 L1474.1,1080.9 L1474.6,1081.0 L1475.1,1081.1 L1475.6,1081.2 L1476.1,1081.3 L1476.6,1081.4 L1477.1,1081.5 L1477.6,1081.5 L1478.1,1081.6 L1478.6,1081.7 L1479.1,1081.8 L1479.6,1081.9 L1480.1,1082.0 L1480.6,1082.1 L1481.1,1082.1 L1481.6,1082.2 L1482.1,1082.3 L1482.6,1082.4 L1483.1,1082.4 L1483.6,1082.5 L1484.1,1082.6 L1484.6,1082.7 L1485.1,1082.7 L1485.6,1082.8 L1486.1,1082.9 L1486.6,1082.9 L1487.1,1083.0 L1487.6,1083.1 L1488.1,1083.1 L1488.6,1083.2 L1489.1,1083.2 L1489.6,1083.3 L1490.1,1083.3 L1490.6,1083.4 L1491.1,1083.4 L1491.6,1083.5 L1492.1,1083.5 L1492.6,1083.6 L1493.1,1083.6 L1493.6,1083.7 L1494.1,1083.7 L1494.6,1083.7 L1495.1,1083.8 L1495.6,1083.8 L1496.1,1083.9 L1496.6,1083.9 L1497.1,1084.0 L1497.6,1084.0 L1498.1,1084.0 L1498.6,1084.1 L1499.1,1084.1 L1499.6,1084.2 L1500.1,1084.2 L1500.6,1084.2 L1501.1,1084.3 L1501.6,1084.3 L1502.1,1084.3 L1502.6,1084.4 L1503.1,1084.4 L1503.6,1084.4 L1504.1,1084.5 L1504.6,1084.5 L1505.1,1084.5 L1505.6,1084.6 L1506.1,1084.6 L1506.6,1084.6 L1507.1,1084.7 L1507.6,1084.7 L1508.1,1084.7 L1508.6,1084.8 L1509.1,1084.8 L1509.6,1084.8 L1510.1,1084.9 L1510.6,1084.9 L1511.1,1084.9 L1511.6,1084.9 L1512.1,1085.0 L1512.6,1085.0 L1513.1,1085.0 L1513.6,1085.0 L1514.1,1085.1 L1514.6,1085.1 L1515.1,1085.1 L1515.6,1085.2 L1516.1,1085.2 L1516.6,1085.2 L1517.1,1085.2 L1517.6,1085.2 L1518.1,1085.3 L1518.6,1085.3 L1519.1,1085.3 L1519.6,1085.3 L1520.1,1085.4 L1520.6,1085.4 L1521.1,1085.4 L1521.6,1085.4 L1522.1,1085.5 L1522.6,1085.5 L1523.1,1085.5 L1523.6,1085.5 L1524.1,1085.5 L1524.6,1085.6 L1525.1,1085.6 L1525.6,1085.6 L1526.1,1085.6 L1526.6,1085.6 L1527.1,1085.7 L1527.6,1085.7 L1528.1,1085.7 L1528.6,1085.7 L1529.1,1085.7 L1529.6,1085.7 L1530.1,1085.8 L1530.6,1085.8 L1531.1,1085.8 L1531.6,1085.8 L1532.1,1085.8 L1532.6,1085.9 L1533.1,1085.9 L1533.6,1085.9 L1534.1,1085.9 L1534.6,1085.9 L1535.1,1085.9 L1535.6,1086.0 L1536.1,1086.0 L1536.6,1086.0 L1537.1,1086.0 L1537.6,1086.0 L1538.1,1086.1 L1538.6,1086.1 L1539.1,1086.1 L1539.6,1086.1 L1540.1,1086.1 L1540.6,1086.1 L1541.1,1086.1 L1541.6,1086.2 L1542.1,1086.2 L1542.6,1086.2 L1543.1,1086.2 L1543.6,1086.2 L1544.1,1086.2 L1544.6,1086.2 L1545.1,1086.3 L1545.6,1086.3 L1546.1,1086.3 L1546.6,1086.3 L1547.1,1086.3 L1547.6,1086.3 L1548.1,1086.3 L1548.6,1086.3 L1549.1,1086.4 L1549.6,1086.4 L1550.1,1086.4 L1550.6,1086.4 L1551.1,1086.4 L1551.6,1086.4 L1552.1,1086.4 L1552.6,1086.4 L1553.1,1086.4 L1553.6,1086.4 L1554.1,1086.5 L1554.6,1086.5 L1555.1,1086.5 L1555.6,1086.5 L1556.1,1086.5 L1556.6,1086.5 L1557.0,1086.5" fill="none" stroke="#0000ff" stroke-width="9" stroke-linejoin="round" stroke-linecap="round"/>
<g fill="#0000ff"><circle cx="546.6" cy="607.6" r="7"/><circle cx="550.6" cy="611.4" r="7"/><circle cx="554.7" cy="616.1" r="7"/><circle cx="558.7" cy="621.6" r="7"/><circle cx="562.7" cy="627.7" r="7"/><circle cx="566.7" cy="634.3" r="7"/><circle cx="570.8" cy="641.4" r="7"/><circle cx="574.8" cy="650.1" r="7"/><circle cx="578.8" cy="659.8" r="7"/><circle cx="582.9" cy="669.6" r="7"/><circle cx="586.9" cy="678.8" r="7"/><circle cx="590.9" cy="687.9" r="7"/><circle cx="594.9" cy="697.4" r="7"/><circle cx="599.0" cy="707.6" r="7"/><circle cx="603.0" cy="718.4" r="7"/><circle cx="607.0" cy="729.8" r="7"/><circle cx="611.0" cy="742.1" r="7"/><circle cx="615.1" cy="754.6" r="7"/><circle cx="619.1" cy="764.7" r="7"/><circle cx="623.1" cy="773.4" r="7"/><circle cx="627.2" cy="780.7" r="7"/><circle cx="631.2" cy="786.2" r="7"/><circle cx="635.2" cy="790.4" r="7"/><circle cx="639.2" cy="792.8" r="7"/><circle cx="643.3" cy="791.3" r="7"/><circle cx="647.3" cy="787.7" r="7"/><circle cx="651.3" cy="782.1" r="7"/><circle cx="655.4" cy="775.2" r="7"/><circle cx="659.4" cy="768.2" r="7"/><circle cx="663.4" cy="760.5" r="7"/><circle cx="667.4" cy="751.8" r="7"/><circle cx="671.5" cy="742.4" r="7"/><circle cx="675.5" cy="733.3" r="7"/><circle cx="679.5" cy="724.2" r="7"/><circle cx="683.6" cy="715.8" r="7"/><circle cx="687.6" cy="707.9" r="7"/><circle cx="691.6" cy="701.1" r="7"/><circle cx="695.6" cy="695.3" r="7"/><circle cx="699.7" cy="689.5" r="7"/><circle cx="703.7" cy="683.1" r="7"/><circle cx="707.7" cy="676.3" r="7"/><circle cx="711.7" cy="670.0" r="7"/><circle cx="715.8" cy="665.0" r="7"/><circle cx="719.8" cy="661.0" r="7"/><circle cx="723.8" cy="657.6" r="7"/><circle cx="727.9" cy="654.7" r="7"/><circle cx="731.9" cy="652.6" r="7"/><circle cx="735.9" cy="650.7" r="7"/><circle cx="739.9" cy="649.0" r="7"/><circle cx="744.0" cy="647.7" r="7"/><circle cx="748.0" cy="646.7" r="7"/><circle cx="752.0" cy="646.0" r="7"/><circle cx="756.1" cy="645.5" r="7"/><circle cx="760.1" cy="645.2" r="7"/><circle cx="764.1" cy="645.0" r="7"/><circle cx="768.1" cy="645.1" r="7"/><circle cx="772.2" cy="645.3" r="7"/><circle cx="776.2" cy="645.6" r="7"/><circle cx="780.2" cy="646.0" r="7"/><circle cx="784.3" cy="646.7" r="7"/><circle cx="788.3" cy="647.7" r="7"/><circle cx="792.3" cy="649.2" r="7"/><circle cx="796.3" cy="651.3" r="7"/><circle cx="800.4" cy="652.6" r="7"/><circle cx="804.4" cy="653.7" r="7"/><circle cx="808.4" cy="654.6" r="7"/><circle cx="812.4" cy="655.0" r="7"/><circle cx="816.5" cy="654.8" r="7"/><circle cx="820.5" cy="654.2" r="7"/><circle cx="824.5" cy="653.2" r="7"/><circle cx="828.6" cy="652.1" r="7"/><circle cx="832.6" cy="650.3" r="7"/><circle cx="836.6" cy="647.6" r="7"/><circle cx="840.6" cy="644.4" r="7"/><circle cx="844.7" cy="640.9" r="7"/><circle cx="848.7" cy="636.9" r="7"/><circle cx="852.7" cy="632.3" r="7"/><circle cx="856.8" cy="627.0" r="7"/><circle cx="860.8" cy="620.7" r="7"/><circle cx="864.8" cy="613.4" r="7"/><circle cx="868.8" cy="605.9" r="7"/><circle cx="872.9" cy="598.0" r="7"/><circle cx="876.9" cy="589.7" r="7"/><circle cx="880.9" cy="581.1" r="7"/><circle cx="885.0" cy="572.1" r="7"/><circle cx="889.0" cy="562.3" r="7"/><circle cx="893.0" cy="550.9" r="7"/><circle cx="897.0" cy="538.4" r="7"/><circle cx="901.1" cy="525.9" r="7"/><circle cx="905.1" cy="513.7" r="7"/><circle cx="909.1" cy="501.5" r="7"/><circle cx="913.1" cy="489.5" r="7"/><circle cx="917.2" cy="477.9" r="7"/><circle cx="921.2" cy="466.7" r="7"/><circle cx="925.2" cy="455.8" r="7"/><circle cx="929.3" cy="444.8" r="7"/><circle cx="933.3" cy="433.8" r="7"/><circle cx="937.3" cy="422.8" r="7"/><circle cx="941.3" cy="411.7" r="7"/><circle cx="945.4" cy="400.2" r="7"/><circle cx="949.4" cy="388.4" r="7"/><circle cx="953.4" cy="376.3" r="7"/><circle cx="957.5" cy="363.8" r="7"/><circle cx="961.5" cy="350.9" r="7"/><circle cx="965.5" cy="337.5" r="7"/><circle cx="969.5" cy="322.8" r="7"/><circle cx="973.6" cy="305.8" r="7"/><circle cx="977.6" cy="292.2" r="7"/><circle cx="981.6" cy="280.8" r="7"/><circle cx="985.7" cy="270.4" r="7"/><circle cx="989.7" cy="260.6" r="7"/><circle cx="993.7" cy="250.7" r="7"/><circle cx="997.7" cy="240.5" r="7"/><circle cx="1001.8" cy="230.7" r="7"/><circle cx="1005.8" cy="222.0" r="7"/><circle cx="1009.8" cy="215.1" r="7"/><circle cx="1013.8" cy="209.6" r="7"/><circle cx="1017.9" cy="206.8" r="7"/><circle cx="1021.9" cy="205.2" r="7"/><circle cx="1025.9" cy="204.7" r="7"/><circle cx="1030.0" cy="205.0" r="7"/><circle cx="1034.0" cy="205.7" r="7"/><circle cx="1038.0" cy="206.6" r="7"/><circle cx="1042.0" cy="208.1" r="7"/><circle cx="1046.1" cy="210.0" r="7"/><circle cx="1050.1" cy="211.6" r="7"/><circle cx="1054.1" cy="212.9" r="7"/><circle cx="1058.2" cy="212.4" r="7"/><circle cx="1062.2" cy="210.4" r="7"/><circle cx="1066.2" cy="208.3" r="7"/><circle cx="1070.2" cy="205.6" r="7"/><circle cx="1074.3" cy="201.5" r="7"/><circle cx="1078.3" cy="196.3" r="7"/><circle cx="1082.3" cy="190.5" r="7"/><circle cx="1086.4" cy="183.7" r="7"/><circle cx="1090.4" cy="175.1" r="7"/><circle cx="1094.4" cy="166.6" r="7"/><circle cx="1098.4" cy="160.2" r="7"/><circle cx="1102.5" cy="155.7" r="7"/><circle cx="1106.5" cy="152.2" r="7"/><circle cx="1110.5" cy="151.1" r="7"/><circle cx="1114.5" cy="154.8" r="7"/><circle cx="1118.6" cy="162.3" r="7"/><circle cx="1122.6" cy="171.8" r="7"/><circle cx="1126.6" cy="185.9" r="7"/><circle cx="1130.7" cy="203.9" r="7"/><circle cx="1134.7" cy="226.2" r="7"/><circle cx="1138.7" cy="251.9" r="7"/><circle cx="1142.7" cy="282.2" r="7"/><circle cx="1146.8" cy="308.6" r="7"/><circle cx="1150.8" cy="330.7" r="7"/><circle cx="1154.8" cy="356.0" r="7"/><circle cx="1158.9" cy="399.7" r="7"/><circle cx="1162.9" cy="431.4" r="7"/><circle cx="1166.9" cy="463.3" r="7"/><circle cx="1170.9" cy="501.6" r="7"/><circle cx="1175.0" cy="539.7" r="7"/><circle cx="1179.0" cy="578.0" r="7"/><circle cx="1183.0" cy="606.7" r="7"/><circle cx="1187.1" cy="636.1" r="7"/><circle cx="1191.1" cy="681.0" r="7"/><circle cx="1195.1" cy="711.8" r="7"/><circle cx="1199.1" cy="738.8" r="7"/><circle cx="1203.2" cy="762.0" r="7"/><circle cx="1207.2" cy="781.4" r="7"/><circle cx="1211.2" cy="799.4" r="7"/><circle cx="1215.2" cy="817.5" r="7"/><circle cx="1219.3" cy="832.3" r="7"/><circle cx="1223.3" cy="846.4" r="7"/><circle cx="1227.3" cy="860.0" r="7"/><circle cx="1231.4" cy="873.0" r="7"/><circle cx="1235.4" cy="885.7" r="7"/><circle cx="1239.4" cy="897.8" r="7"/><circle cx="1243.4" cy="909.1" r="7"/><circle cx="1247.5" cy="919.6" r="7"/><circle cx="1251.5" cy="929.0" r="7"/><circle cx="1255.5" cy="936.8" r="7"/><circle cx="1259.6" cy="943.6" r="7"/><circle cx="1263.6" cy="950.0" r="7"/><circle cx="1267.6" cy="956.4" r="7"/><circle cx="1271.6" cy="962.6" r="7"/><circle cx="1275.7" cy="968.5" r="7"/><circle cx="1279.7" cy="973.8" r="7"/><circle cx="1283.7" cy="978.7" r="7"/><circle cx="1287.8" cy="983.3" r="7"/><circle cx="1291.8" cy="987.7" r="7"/><circle cx="1295.8" cy="991.8" r="7"/><circle cx="1299.8" cy="995.6" r="7"/><circle cx="1303.9" cy="999.1" r="7"/><circle cx="1307.9" cy="1002.4" r="7"/><circle cx="1311.9" cy="1005.4" r="7"/><circle cx="1315.9" cy="1008.4" r="7"/><circle cx="1320.0" cy="1011.2" r="7"/><circle cx="1324.0" cy="1014.0" r="7"/><circle cx="1328.0" cy="1016.8" r="7"/><circle cx="1332.1" cy="1019.7" r="7"/><circle cx="1336.1" cy="1022.5" r="7"/><circle cx="1340.1" cy="1025.1" r="7"/><circle cx="1344.1" cy="1027.7" r="7"/><circle cx="1348.2" cy="1030.1" r="7"/><circle cx="1352.2" cy="1032.3" r="7"/><circle cx="1356.2" cy="1034.3" r="7"/><circle cx="1360.3" cy="1036.2" r="7"/><circle cx="1364.3" cy="1038.2" r="7"/><circle cx="1368.3" cy="1040.2" r="7"/><circle cx="1372.3" cy="1042.3" r="7"/><circle cx="1376.4" cy="1044.3" r="7"/><circle cx="1380.4" cy="1046.3" r="7"/><circle cx="1384.4" cy="1048.3" r="7"/><circle cx="1388.5" cy="1050.2" r="7"/><circle cx="1392.5" cy="1052.2" r="7"/><circle cx="1396.5" cy="1054.3" r="7"/><circle cx="1400.5" cy="1056.4" r="7"/><circle cx="1404.6" cy="1058.5" r="7"/><circle cx="1408.6" cy="1060.6" r="7"/><circle cx="1412.6" cy="1062.6" r="7"/><circle cx="1416.6" cy="1064.5" r="7"/><circle cx="1420.7" cy="1066.2" r="7"/><circle cx="1424.7" cy="1067.8" r="7"/><circle cx="1428.7" cy="1069.2" r="7"/><circle cx="1432.8" cy="1070.6" r="7"/><circle cx="1436.8" cy="1071.9" r="7"/><circle cx="1440.8" cy="1073.1" r="7"/><circle cx="1444.8" cy="1074.2" r="7"/><circle cx="1448.9" cy="1075.3" r="7"/><circle cx="1452.9" cy="1076.3" r="7"/><circle cx="1456.9" cy="1077.3" r="7"/><circle cx="1461.0" cy="1078.2" r="7"/><circle cx="1465.0" cy="1079.0" r="7"/><circle cx="1469.0" cy="1079.9" r="7"/><circle cx="1473.0" cy="1080.7" r="7"/><circle cx="1477.1" cy="1081.5" r="7"/><circle cx="1481.1" cy="1082.1" r="7"/><circle cx="1485.1" cy="1082.7" r="7"/><circle cx="1489.2" cy="1083.2" r="7"/><circle cx="1493.2" cy="1083.6" r="7"/><circle cx="1497.2" cy="1084.0" r="7"/><circle cx="1501.2" cy="1084.3" r="7"/><circle cx="1505.3" cy="1084.6" r="7"/><circle cx="1509.3" cy="1084.8" r="7"/><circle cx="1513.3" cy="1085.0" r="7"/><circle cx="1517.3" cy="1085.2" r="7"/><circle cx="1521.4" cy="1085.4" r="7"/><circle cx="1525.4" cy="1085.6" r="7"/><circle cx="1529.4" cy="1085.7" r="7"/><circle cx="1533.5" cy="1085.9" r="7"/><circle cx="1537.5" cy="1086.0" r="7"/><circle cx="1541.5" cy="1086.2" r="7"/><circle cx="1545.5" cy="1086.3" r="7"/><circle cx="1549.6" cy="1086.4" r="7"/><circle cx="1553.6" cy="1086.4" r="7"/></g>
<g fill="#c8d0ff" opacity="0.6"><circle cx="545.6" cy="606.6" r="1.4"/><circle cx="549.6" cy="610.4" r="1.4"/><circle cx="553.7" cy="615.1" r="1.4"/><circle cx="557.7" cy="620.6" r="1.4"/><circle cx="561.7" cy="626.7" r="1.4"/><circle cx="565.7" cy="633.3" r="1.4"/><circle cx="569.8" cy="640.4" r="1.4"/><circle cx="573.8" cy="649.1" r="1.4"/><circle cx="577.8" cy="658.8" r="1.4"/><circle cx="581.9" cy="668.6" r="1.4"/><circle cx="585.9" cy="677.8" r="1.4"/><circle cx="589.9" cy="686.9" r="1.4"/><circle cx="593.9" cy="696.4" r="1.4"/><circle cx="598.0" cy="706.6" r="1.4"/><circle cx="602.0" cy="717.4" r="1.4"/><circle cx="606.0" cy="728.8" r="1.4"/><circle cx="610.0" cy="741.1" r="1.4"/><circle cx="614.1" cy="753.6" r="1.4"/><circle cx="618.1" cy="763.7" r="1.4"/><circle cx="622.1" cy="772.4" r="1.4"/><circle cx="626.2" cy="779.7" r="1.4"/><circle cx="630.2" cy="785.2" r="1.4"/><circle cx="634.2" cy="789.4" r="1.4"/><circle cx="638.2" cy="791.8" r="1.4"/><circle cx="642.3" cy="790.3" r="1.4"/><circle cx="646.3" cy="786.7" r="1.4"/><circle cx="650.3" cy="781.1" r="1.4"/><circle cx="654.4" cy="774.2" r="1.4"/><circle cx="658.4" cy="767.2" r="1.4"/><circle cx="662.4" cy="759.5" r="1.4"/><circle cx="666.4" cy="750.8" r="1.4"/><circle cx="670.5" cy="741.4" r="1.4"/><circle cx="674.5" cy="732.3" r="1.4"/><circle cx="678.5" cy="723.2" r="1.4"/><circle cx="682.6" cy="714.8" r="1.4"/><circle cx="686.6" cy="706.9" r="1.4"/><circle cx="690.6" cy="700.1" r="1.4"/><circle cx="694.6" cy="694.3" r="1.4"/><circle cx="698.7" cy="688.5" r="1.4"/><circle cx="702.7" cy="682.1" r="1.4"/><circle cx="706.7" cy="675.3" r="1.4"/><circle cx="710.7" cy="669.0" r="1.4"/><circle cx="714.8" cy="664.0" r="1.4"/><circle cx="718.8" cy="660.0" r="1.4"/><circle cx="722.8" cy="656.6" r="1.4"/><circle cx="726.9" cy="653.7" r="1.4"/><circle cx="730.9" cy="651.6" r="1.4"/><circle cx="734.9" cy="649.7" r="1.4"/><circle cx="738.9" cy="648.0" r="1.4"/><circle cx="743.0" cy="646.7" r="1.4"/><circle cx="747.0" cy="645.7" r="1.4"/><circle cx="751.0" cy="645.0" r="1.4"/><circle cx="755.1" cy="644.5" r="1.4"/><circle cx="759.1" cy="644.2" r="1.4"/><circle cx="763.1" cy="644.0" r="1.4"/><circle cx="767.1" cy="644.1" r="1.4"/><circle cx="771.2" cy="644.3" r="1.4"/><circle cx="775.2" cy="644.6" r="1.4"/><circle cx="779.2" cy="645.0" r="1.4"/><circle cx="783.3" cy="645.7" r="1.4"/><circle cx="787.3" cy="646.7" r="1.4"/><circle cx="791.3" cy="648.2" r="1.4"/><circle cx="795.3" cy="650.3" r="1.4"/><circle cx="799.4" cy="651.6" r="1.4"/><circle cx="803.4" cy="652.7" r="1.4"/><circle cx="807.4" cy="653.6" r="1.4"/><circle cx="811.4" cy="654.0" r="1.4"/><circle cx="815.5" cy="653.8" r="1.4"/><circle cx="819.5" cy="653.2" r="1.4"/><circle cx="823.5" cy="652.2" r="1.4"/><circle cx="827.6" cy="651.1" r="1.4"/><circle cx="831.6" cy="649.3" r="1.4"/><circle cx="835.6" cy="646.6" r="1.4"/><circle cx="839.6" cy="643.4" r="1.4"/><circle cx="843.7" cy="639.9" r="1.4"/><circle cx="847.7" cy="635.9" r="1.4"/><circle cx="851.7" cy="631.3" r="1.4"/><circle cx="855.8" cy="626.0" r="1.4"/><circle cx="859.8" cy="619.7" r="1.4"/><circle cx="863.8" cy="612.4" r="1.4"/><circle cx="867.8" cy="604.9" r="1.4"/><circle cx="871.9" cy="597.0" r="1.4"/><circle cx="875.9" cy="588.7" r="1.4"/><circle cx="879.9" cy="580.1" r="1.4"/><circle cx="884.0" cy="571.1" r="1.4"/><circle cx="888.0" cy="561.3" r="1.4"/><circle cx="892.0" cy="549.9" r="1.4"/><circle cx="896.0" cy="537.4" r="1.4"/><circle cx="900.1" cy="524.9" r="1.4"/><circle cx="904.1" cy="512.7" r="1.4"/><circle cx="908.1" cy="500.5" r="1.4"/><circle cx="912.1" cy="488.5" r="1.4"/><circle cx="916.2" cy="476.9" r="1.4"/><circle cx="920.2" cy="465.7" r="1.4"/><circle cx="924.2" cy="454.8" r="1.4"/><circle cx="928.3" cy="443.8" r="1.4"/><circle cx="932.3" cy="432.8" r="1.4"/><circle cx="936.3" cy="421.8" r="1.4"/><circle cx="940.3" cy="410.7" r="1.4"/><circle cx="944.4" cy="399.2" r="1.4"/><circle cx="948.4" cy="387.4" r="1.4"/><circle cx="952.4" cy="375.3" r="1.4"/><circle cx="956.5" cy="362.8" r="1.4"/><circle cx="960.5" cy="349.9" r="1.4"/><circle cx="964.5" cy="336.5" r="1.4"/><circle cx="968.5" cy="321.8" r="1.4"/><circle cx="972.6" cy="304.8" r="1.4"/><circle cx="976.6" cy="291.2" r="1.4"/><circle cx="980.6" cy="279.8" r="1.4"/><circle cx="984.7" cy="269.4" r="1.4"/><circle cx="988.7" cy="259.6" r="1.4"/><circle cx="992.7" cy="249.7" r="1.4"/><circle cx="996.7" cy="239.5" r="1.4"/><circle cx="1000.8" cy="229.7" r="1.4"/><circle cx="1004.8" cy="221.0" r="1.4"/><circle cx="1008.8" cy="214.1" r="1.4"/><circle cx="1012.8" cy="208.6" r="1.4"/><circle cx="1016.9" cy="205.8" r="1.4"/><circle cx="1020.9" cy="204.2" r="1.4"/><circle cx="1024.9" cy="203.7" r="1.4"/><circle cx="1029.0" cy="204.0" r="1.4"/><circle cx="1033.0" cy="204.7" r="1.4"/><circle cx="1037.0" cy="205.6" r="1.4"/><circle cx="1041.0" cy="207.1" r="1.4"/><circle cx="1045.1" cy="209.0" r="1.4"/><circle cx="1049.1" cy="210.6" r="1.4"/><circle cx="1053.1" cy="211.9" r="1.4"/><circle cx="1057.2" cy="211.4" r="1.4"/><circle cx="1061.2" cy="209.4" r="1.4"/><circle cx="1065.2" cy="207.3" r="1.4"/><circle cx="1069.2" cy="204.6" r="1.4"/><circle cx="1073.3" cy="200.5" r="1.4"/><circle cx="1077.3" cy="195.3" r="1.4"/><circle cx="1081.3" cy="189.5" r="1.4"/><circle cx="1085.4" cy="182.7" r="1.4"/><circle cx="1089.4" cy="174.1" r="1.4"/><circle cx="1093.4" cy="165.6" r="1.4"/><circle cx="1097.4" cy="159.2" r="1.4"/><circle cx="1101.5" cy="154.7" r="1.4"/><circle cx="1105.5" cy="151.2" r="1.4"/><circle cx="1109.5" cy="150.1" r="1.4"/><circle cx="1113.5" cy="153.8" r="1.4"/><circle cx="1117.6" cy="161.3" r="1.4"/><circle cx="1121.6" cy="170.8" r="1.4"/><circle cx="1125.6" cy="184.9" r="1.4"/><circle cx="1129.7" cy="202.9" r="1.4"/><circle cx="1133.7" cy="225.2" r="1.4"/><circle cx="1137.7" cy="250.9" r="1.4"/><circle cx="1141.7" cy="281.2" r="1.4"/><circle cx="1145.8" cy="307.6" r="1.4"/><circle cx="1149.8" cy="329.7" r="1.4"/><circle cx="1153.8" cy="355.0" r="1.4"/><circle cx="1157.9" cy="398.7" r="1.4"/><circle cx="1161.9" cy="430.4" r="1.4"/><circle cx="1165.9" cy="462.3" r="1.4"/><circle cx="1169.9" cy="500.6" r="1.4"/><circle cx="1174.0" cy="538.7" r="1.4"/><circle cx="1178.0" cy="577.0" r="1.4"/><circle cx="1182.0" cy="605.7" r="1.4"/><circle cx="1186.1" cy="635.1" r="1.4"/><circle cx="1190.1" cy="680.0" r="1.4"/><circle cx="1194.1" cy="710.8" r="1.4"/><circle cx="1198.1" cy="737.8" r="1.4"/><circle cx="1202.2" cy="761.0" r="1.4"/><circle cx="1206.2" cy="780.4" r="1.4"/><circle cx="1210.2" cy="798.4" r="1.4"/><circle cx="1214.2" cy="816.5" r="1.4"/><circle cx="1218.3" cy="831.3" r="1.4"/><circle cx="1222.3" cy="845.4" r="1.4"/><circle cx="1226.3" cy="859.0" r="1.4"/><circle cx="1230.4" cy="872.0" r="1.4"/><circle cx="1234.4" cy="884.7" r="1.4"/><circle cx="1238.4" cy="896.8" r="1.4"/><circle cx="1242.4" cy="908.1" r="1.4"/><circle cx="1246.5" cy="918.6" r="1.4"/><circle cx="1250.5" cy="928.0" r="1.4"/><circle cx="1254.5" cy="935.8" r="1.4"/><circle cx="1258.6" cy="942.6" r="1.4"/><circle cx="1262.6" cy="949.0" r="1.4"/><circle cx="1266.6" cy="955.4" r="1.4"/><circle cx="1270.6" cy="961.6" r="1.4"/><circle cx="1274.7" cy="967.5" r="1.4"/><circle cx="1278.7" cy="972.8" r="1.4"/><circle cx="1282.7" cy="977.7" r="1.4"/><circle cx="1286.8" cy="982.3" r="1.4"/><circle cx="1290.8" cy="986.7" r="1.4"/><circle cx="1294.8" cy="990.8" r="1.4"/><circle cx="1298.8" cy="994.6" r="1.4"/><circle cx="1302.9" cy="998.1" r="1.4"/><circle cx="1306.9" cy="1001.4" r="1.4"/><circle cx="1310.9" cy="1004.4" r="1.4"/><circle cx="1314.9" cy="1007.4" r="1.4"/><circle cx="1319.0" cy="1010.2" r="1.4"/><circle cx="1323.0" cy="1013.0" r="1.4"/><circle cx="1327.0" cy="1015.8" r="1.4"/><circle cx="1331.1" cy="1018.7" r="1.4"/><circle cx="1335.1" cy="1021.5" r="1.4"/><circle cx="1339.1" cy="1024.1" r="1.4"/><circle cx="1343.1" cy="1026.7" r="1.4"/><circle cx="1347.2" cy="1029.1" r="1.4"/><circle cx="1351.2" cy="1031.3" r="1.4"/><circle cx="1355.2" cy="1033.3" r="1.4"/><circle cx="1359.3" cy="1035.2" r="1.4"/><circle cx="1363.3" cy="1037.2" r="1.4"/><circle cx="1367.3" cy="1039.2" r="1.4"/><circle cx="1371.3" cy="1041.3" r="1.4"/><circle cx="1375.4" cy="1043.3" r="1.4"/><circle cx="1379.4" cy="1045.3" r="1.4"/><circle cx="1383.4" cy="1047.3" r="1.4"/><circle cx="1387.5" cy="1049.2" r="1.4"/><circle cx="1391.5" cy="1051.2" r="1.4"/><circle cx="1395.5" cy="1053.3" r="1.4"/><circle cx="1399.5" cy="1055.4" r="1.4"/><circle cx="1403.6" cy="1057.5" r="1.4"/><circle cx="1407.6" cy="1059.6" r="1.4"/><circle cx="1411.6" cy="1061.6" r="1.4"/><circle cx="1415.6" cy="1063.5" r="1.4"/><circle cx="1419.7" cy="1065.2" r="1.4"/><circle cx="1423.7" cy="1066.8" r="1.4"/><circle cx="1427.7" cy="1068.2" r="1.4"/><circle cx="1431.8" cy="1069.6" r="1.4"/><circle cx="1435.8" cy="1070.9" r="1.4"/><circle cx="1439.8" cy="1072.1" r="1.4"/><circle cx="1443.8" cy="1073.2" r="1.4"/><circle cx="1447.9" cy="1074.3" r="1.4"/><circle cx="1451.9" cy="1075.3" r="1.4"/><circle cx="1455.9" cy="1076.3" r="1.4"/><circle cx="1460.0" cy="1077.2" r="1.4"/><circle cx="1464.0" cy="1078.0" r="1.4"/><circle cx="1468.0" cy="1078.9" r="1.4"/><circle cx="1472.0" cy="1079.7" r="1.4"/><circle cx="1476.1" cy="1080.5" r="1.4"/><circle cx="1480.1" cy="1081.1" r="1.4"/><circle cx="1484.1" cy="1081.7" r="1.4"/><circle cx="1488.2" cy="1082.2" r="1.4"/><circle cx="1492.2" cy="1082.6" r="1.4"/><circle cx="1496.2" cy="1083.0" r="1.4"/><circle cx="1500.2" cy="1083.3" r="1.4"/><circle cx="1504.3" cy="1083.6" r="1.4"/><circle cx="1508.3" cy="1083.8" r="1.4"/><circle cx="1512.3" cy="1084.0" r="1.4"/><circle cx="1516.3" cy="1084.2" r="1.4"/><circle cx="1520.4" cy="1084.4" r="1.4"/><circle cx="1524.4" cy="1084.6" r="1.4"/><circle cx="1528.4" cy="1084.7" r="1.4"/><circle cx="1532.5" cy="1084.9" r="1.4"/><circle cx="1536.5" cy="1085.0" r="1.4"/><circle cx="1540.5" cy="1085.2" r="1.4"/><circle cx="1544.5" cy="1085.3" r="1.4"/><circle cx="1548.6" cy="1085.4" r="1.4"/><circle cx="1552.6" cy="1085.4" r="1.4"/></g>
<circle cx="809.5" cy="173.5" r="200" fill="url(#glow)"/>
<circle cx="809.5" cy="173.5" r="108" fill="#ffff00"/>
<path d="M620,36.6 H1000" stroke="#000" stroke-width="7" opacity="0.62"/>
<path d="M674,197 C655,186 620,184 594,186.5 C566,190 535,207 512,227 C500,238 493,246 487,254 L474,230 L443,349.5 L568.5,304 L527.5,291 C535,280 540,272 547,265 C556,252 566,240 576,232 C590,220 600,212 612,206.5 C630,200 650,198 674,197 Z" fill="url(#purp)"/>
<path d="M674,197 L700,205" stroke="#f0d0e0" stroke-width="1.5" opacity="0.7"/>
<path d="M900,326 C935,322 975,330 1008,352 C1030,367 1045,385 1057,403 C1063,412 1068,420 1071,427 L1091,404.5 L1092.5,526 L983.5,453.4 L1025,450 C1018,430 1010,412 1000,394 C990,378 982,368 974,360 C955,342 930,330 900,326 Z" fill="url(#pink)"/>
<circle cx="1087.5" cy="175.8" r="17.5" fill="#ff0000" stroke="#3a4a8a" stroke-width="1.2"/>
<circle cx="1086.5" cy="311.4" r="17.5" fill="#ff0000" stroke="#3a4a8a" stroke-width="1.2"/>
<text x="961" y="144" font-family="Liberation Serif, Times New Roman, serif" font-weight="bold" font-size="48.5">612nm</text>
<text x="678" y="575" font-family="Liberation Serif, Times New Roman, serif" font-weight="bold" font-size="52.5" textLength="104" lengthAdjust="spacingAndGlyphs">ETP</text>
<text x="749" y="913.5" font-family="Liberation Serif, Times New Roman, serif" font-size="39" textLength="481" lengthAdjust="spacing">Active materials absorption</text>
<text x="868" y="966" font-family="Liberation Serif, Times New Roman, serif" font-size="39" textLength="240" lengthAdjust="spacing">(visible light)</text>
<text transform="translate(404,228) rotate(-38.5)" font-family="Liberation Serif, Times New Roman, serif" font-size="40" textLength="266" lengthAdjust="spacing">ETP absorption</text>
<text transform="translate(467.5,243) rotate(-38.3)" font-family="Liberation Serif, Times New Roman, serif" font-size="40" textLength="185" lengthAdjust="spacing">(UV light)</text>
<path d="M569.0,448.6 L664.9,540.8" stroke="#000" stroke-width="5"/><path d="M553.8,434.0 L565.8,466.3 L569.0,448.6 L586.5,444.7 Z" fill="#000"/>
<path d="M1309.1,223.1 L1402.0,312.8" stroke="#000" stroke-width="5"/><path d="M1293.9,208.5 L1305.8,240.8 L1309.1,223.1 L1326.6,219.2 Z" fill="#000"/>
<path d="M1175.6,331.5 L1270.0,425.0" stroke="#000" stroke-width="5"/><path d="M1160.6,316.7 L1172.1,349.2 L1175.6,331.5 L1193.2,327.8 Z" fill="#000"/>
<path d="M1040.6,543.8 L1051.6,532.8 L1369.9,532.8 L1358.9,543.8 Z" fill="#ec3030"/><path d="M1040.6,543.8 L1051.6,532.8 L1369.9,532.8" fill="none" stroke="#6a3066" stroke-width="1.8"/><path d="M1358.9,543.8 L1369.9,532.8 L1369.9,568.8 L1358.9,579.8 Z" fill="#c80010" stroke="#4a3a78" stroke-width="1.5"/><rect x="1041.6" y="543.8" width="317.3000000000002" height="36.0" fill="#e00000"/><path d="M1041.8,543.8 V579.0 H1358.9" fill="none" stroke="#4a3a78" stroke-width="2.4"/><path d="M1040.6,544.8 H1358.9" stroke="#1c5aa8" stroke-width="2.4"/><text x="1068" y="575.5" font-family="Liberation Serif, Times New Roman, serif" font-size="35" fill="#f8e8e0" textLength="264" lengthAdjust="spacingAndGlyphs">PTB7<tspan font-family="Liberation Serif, Noto Serif CJK SC, serif" font-weight="normal">－</tspan>Th:PCBM</text>
<path d="M841.4,654.9 L850.4,645.9 L1240.4,645.9 L1231.4,654.9 Z" fill="#5a62f4"/><path d="M841.4,654.9 L850.4,645.9 L1240.4,645.9" fill="none" stroke="#a0b0d0" stroke-width="1.8"/><path d="M1231.4,654.9 L1240.4,645.9 L1240.4,679.9 L1231.4,688.9 Z" fill="#2c34c8" stroke="#1a4a9a" stroke-width="1.5"/><rect x="842.4" y="654.9" width="389.0000000000001" height="34.0" fill="#3e40f4"/><path d="M842.6,654.9 V688.1 H1231.4" fill="none" stroke="#1a4a9a" stroke-width="2.4"/><path d="M841.4,655.9 H1231.4" stroke="#2050b0" stroke-width="2.4"/><text x="867" y="686.5" font-family="Liberation Serif, Times New Roman, serif" font-size="35" fill="#e4e6ff" textLength="337" lengthAdjust="spacingAndGlyphs">PBDB<tspan font-family="Liberation Serif, Noto Serif CJK SC, serif" font-weight="normal">－</tspan>T<tspan font-family="Liberation Serif, Noto Serif CJK SC, serif" font-weight="normal">－</tspan>2F:IT<tspan font-family="Liberation Serif, Noto Serif CJK SC, serif" font-weight="normal">－</tspan>4F</text>
</svg>
</body></html>
